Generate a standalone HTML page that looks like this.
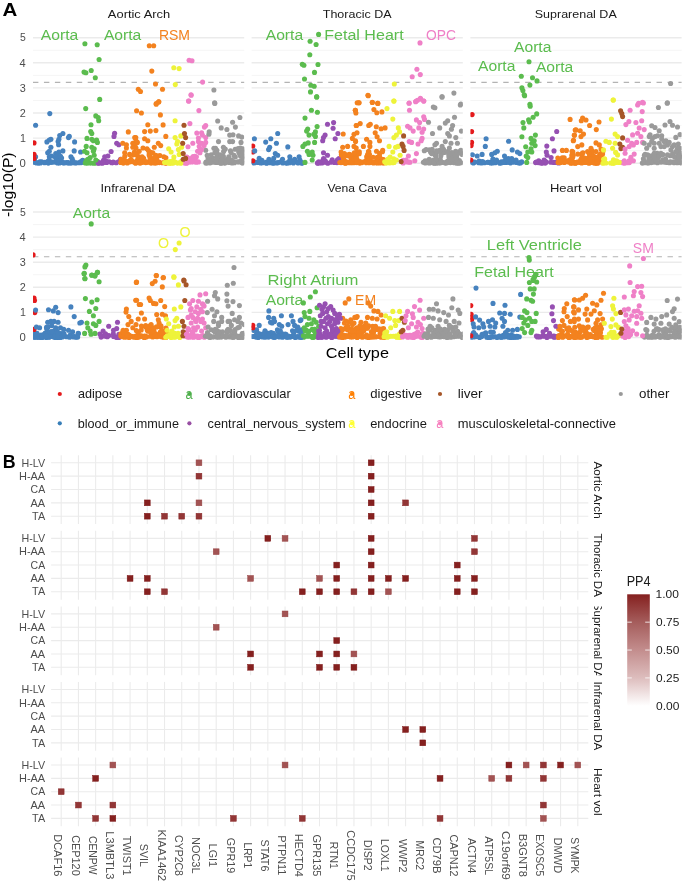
<!DOCTYPE html>
<html><head><meta charset="utf-8"><style>
html,body{margin:0;padding:0;background:#fff;}
svg{display:block;font-family:"Liberation Sans", sans-serif;will-change:transform;}
</style></head><body>
<svg width="685" height="883" viewBox="0 0 685 883">
<rect width="685" height="883" fill="#fff"/>
<line x1="33.00" y1="150.65" x2="244.20" y2="150.65" stroke="#f3f3f3" stroke-width="0.8"/>
<line x1="33.00" y1="125.55" x2="244.20" y2="125.55" stroke="#f3f3f3" stroke-width="0.8"/>
<line x1="33.00" y1="100.45" x2="244.20" y2="100.45" stroke="#f3f3f3" stroke-width="0.8"/>
<line x1="33.00" y1="75.35" x2="244.20" y2="75.35" stroke="#f3f3f3" stroke-width="0.8"/>
<line x1="33.00" y1="50.25" x2="244.20" y2="50.25" stroke="#f3f3f3" stroke-width="0.8"/>
<line x1="33.00" y1="163.20" x2="244.20" y2="163.20" stroke="#ebebeb" stroke-width="1.4"/>
<line x1="33.00" y1="138.10" x2="244.20" y2="138.10" stroke="#ebebeb" stroke-width="1.4"/>
<line x1="33.00" y1="113.00" x2="244.20" y2="113.00" stroke="#ebebeb" stroke-width="1.4"/>
<line x1="33.00" y1="87.90" x2="244.20" y2="87.90" stroke="#ebebeb" stroke-width="1.4"/>
<line x1="33.00" y1="62.80" x2="244.20" y2="62.80" stroke="#ebebeb" stroke-width="1.4"/>
<line x1="33.00" y1="37.70" x2="244.20" y2="37.70" stroke="#ebebeb" stroke-width="1.4"/>
<line x1="33.00" y1="82.38" x2="244.20" y2="82.38" stroke="#b3b3b3" stroke-width="1.07" stroke-dasharray="5.4 5.55"/>
<text x="107.88" y="18.10" font-size="11.50" fill="#1a1a1a" textLength="62.28" lengthAdjust="spacingAndGlyphs">Aortic Arch</text>
<line x1="251.60" y1="150.65" x2="462.80" y2="150.65" stroke="#f3f3f3" stroke-width="0.8"/>
<line x1="251.60" y1="125.55" x2="462.80" y2="125.55" stroke="#f3f3f3" stroke-width="0.8"/>
<line x1="251.60" y1="100.45" x2="462.80" y2="100.45" stroke="#f3f3f3" stroke-width="0.8"/>
<line x1="251.60" y1="75.35" x2="462.80" y2="75.35" stroke="#f3f3f3" stroke-width="0.8"/>
<line x1="251.60" y1="50.25" x2="462.80" y2="50.25" stroke="#f3f3f3" stroke-width="0.8"/>
<line x1="251.60" y1="163.20" x2="462.80" y2="163.20" stroke="#ebebeb" stroke-width="1.4"/>
<line x1="251.60" y1="138.10" x2="462.80" y2="138.10" stroke="#ebebeb" stroke-width="1.4"/>
<line x1="251.60" y1="113.00" x2="462.80" y2="113.00" stroke="#ebebeb" stroke-width="1.4"/>
<line x1="251.60" y1="87.90" x2="462.80" y2="87.90" stroke="#ebebeb" stroke-width="1.4"/>
<line x1="251.60" y1="62.80" x2="462.80" y2="62.80" stroke="#ebebeb" stroke-width="1.4"/>
<line x1="251.60" y1="37.70" x2="462.80" y2="37.70" stroke="#ebebeb" stroke-width="1.4"/>
<line x1="251.60" y1="82.38" x2="462.80" y2="82.38" stroke="#b3b3b3" stroke-width="1.07" stroke-dasharray="5.4 5.55"/>
<text x="322.75" y="18.10" font-size="11.50" fill="#1a1a1a" textLength="68.79" lengthAdjust="spacingAndGlyphs">Thoracic DA</text>
<line x1="470.40" y1="150.65" x2="681.60" y2="150.65" stroke="#f3f3f3" stroke-width="0.8"/>
<line x1="470.40" y1="125.55" x2="681.60" y2="125.55" stroke="#f3f3f3" stroke-width="0.8"/>
<line x1="470.40" y1="100.45" x2="681.60" y2="100.45" stroke="#f3f3f3" stroke-width="0.8"/>
<line x1="470.40" y1="75.35" x2="681.60" y2="75.35" stroke="#f3f3f3" stroke-width="0.8"/>
<line x1="470.40" y1="50.25" x2="681.60" y2="50.25" stroke="#f3f3f3" stroke-width="0.8"/>
<line x1="470.40" y1="163.20" x2="681.60" y2="163.20" stroke="#ebebeb" stroke-width="1.4"/>
<line x1="470.40" y1="138.10" x2="681.60" y2="138.10" stroke="#ebebeb" stroke-width="1.4"/>
<line x1="470.40" y1="113.00" x2="681.60" y2="113.00" stroke="#ebebeb" stroke-width="1.4"/>
<line x1="470.40" y1="87.90" x2="681.60" y2="87.90" stroke="#ebebeb" stroke-width="1.4"/>
<line x1="470.40" y1="62.80" x2="681.60" y2="62.80" stroke="#ebebeb" stroke-width="1.4"/>
<line x1="470.40" y1="37.70" x2="681.60" y2="37.70" stroke="#ebebeb" stroke-width="1.4"/>
<line x1="470.40" y1="82.38" x2="681.60" y2="82.38" stroke="#b3b3b3" stroke-width="1.07" stroke-dasharray="5.4 5.55"/>
<text x="534.73" y="18.10" font-size="11.50" fill="#1a1a1a" textLength="82.02" lengthAdjust="spacingAndGlyphs">Suprarenal DA</text>
<text x="19.52" y="166.90" font-size="11.18" fill="#4d4d4d" textLength="6.29" lengthAdjust="spacingAndGlyphs">0</text>
<text x="19.97" y="141.80" font-size="11.18" fill="#4d4d4d" textLength="5.92" lengthAdjust="spacingAndGlyphs">1</text>
<text x="19.85" y="116.70" font-size="11.18" fill="#4d4d4d" textLength="6.05" lengthAdjust="spacingAndGlyphs">2</text>
<text x="19.85" y="91.60" font-size="11.18" fill="#4d4d4d" textLength="6.05" lengthAdjust="spacingAndGlyphs">3</text>
<text x="19.53" y="66.50" font-size="11.18" fill="#4d4d4d" textLength="6.15" lengthAdjust="spacingAndGlyphs">4</text>
<text x="19.98" y="41.40" font-size="11.18" fill="#4d4d4d" textLength="5.80" lengthAdjust="spacingAndGlyphs">5</text>
<line x1="33.00" y1="324.95" x2="244.20" y2="324.95" stroke="#f3f3f3" stroke-width="0.8"/>
<line x1="33.00" y1="299.85" x2="244.20" y2="299.85" stroke="#f3f3f3" stroke-width="0.8"/>
<line x1="33.00" y1="274.75" x2="244.20" y2="274.75" stroke="#f3f3f3" stroke-width="0.8"/>
<line x1="33.00" y1="249.65" x2="244.20" y2="249.65" stroke="#f3f3f3" stroke-width="0.8"/>
<line x1="33.00" y1="224.55" x2="244.20" y2="224.55" stroke="#f3f3f3" stroke-width="0.8"/>
<line x1="33.00" y1="337.50" x2="244.20" y2="337.50" stroke="#ebebeb" stroke-width="1.4"/>
<line x1="33.00" y1="312.40" x2="244.20" y2="312.40" stroke="#ebebeb" stroke-width="1.4"/>
<line x1="33.00" y1="287.30" x2="244.20" y2="287.30" stroke="#ebebeb" stroke-width="1.4"/>
<line x1="33.00" y1="262.20" x2="244.20" y2="262.20" stroke="#ebebeb" stroke-width="1.4"/>
<line x1="33.00" y1="237.10" x2="244.20" y2="237.10" stroke="#ebebeb" stroke-width="1.4"/>
<line x1="33.00" y1="212.00" x2="244.20" y2="212.00" stroke="#ebebeb" stroke-width="1.4"/>
<line x1="33.00" y1="256.68" x2="244.20" y2="256.68" stroke="#b3b3b3" stroke-width="1.07" stroke-dasharray="5.4 5.55"/>
<text x="100.57" y="192.40" font-size="11.50" fill="#1a1a1a" textLength="75.05" lengthAdjust="spacingAndGlyphs">Infrarenal DA</text>
<line x1="251.60" y1="324.95" x2="462.80" y2="324.95" stroke="#f3f3f3" stroke-width="0.8"/>
<line x1="251.60" y1="299.85" x2="462.80" y2="299.85" stroke="#f3f3f3" stroke-width="0.8"/>
<line x1="251.60" y1="274.75" x2="462.80" y2="274.75" stroke="#f3f3f3" stroke-width="0.8"/>
<line x1="251.60" y1="249.65" x2="462.80" y2="249.65" stroke="#f3f3f3" stroke-width="0.8"/>
<line x1="251.60" y1="224.55" x2="462.80" y2="224.55" stroke="#f3f3f3" stroke-width="0.8"/>
<line x1="251.60" y1="337.50" x2="462.80" y2="337.50" stroke="#ebebeb" stroke-width="1.4"/>
<line x1="251.60" y1="312.40" x2="462.80" y2="312.40" stroke="#ebebeb" stroke-width="1.4"/>
<line x1="251.60" y1="287.30" x2="462.80" y2="287.30" stroke="#ebebeb" stroke-width="1.4"/>
<line x1="251.60" y1="262.20" x2="462.80" y2="262.20" stroke="#ebebeb" stroke-width="1.4"/>
<line x1="251.60" y1="237.10" x2="462.80" y2="237.10" stroke="#ebebeb" stroke-width="1.4"/>
<line x1="251.60" y1="212.00" x2="462.80" y2="212.00" stroke="#ebebeb" stroke-width="1.4"/>
<line x1="251.60" y1="256.68" x2="462.80" y2="256.68" stroke="#b3b3b3" stroke-width="1.07" stroke-dasharray="5.4 5.55"/>
<text x="327.44" y="192.40" font-size="11.50" fill="#1a1a1a" textLength="59.31" lengthAdjust="spacingAndGlyphs">Vena Cava</text>
<line x1="470.40" y1="324.95" x2="681.60" y2="324.95" stroke="#f3f3f3" stroke-width="0.8"/>
<line x1="470.40" y1="299.85" x2="681.60" y2="299.85" stroke="#f3f3f3" stroke-width="0.8"/>
<line x1="470.40" y1="274.75" x2="681.60" y2="274.75" stroke="#f3f3f3" stroke-width="0.8"/>
<line x1="470.40" y1="249.65" x2="681.60" y2="249.65" stroke="#f3f3f3" stroke-width="0.8"/>
<line x1="470.40" y1="224.55" x2="681.60" y2="224.55" stroke="#f3f3f3" stroke-width="0.8"/>
<line x1="470.40" y1="337.50" x2="681.60" y2="337.50" stroke="#ebebeb" stroke-width="1.4"/>
<line x1="470.40" y1="312.40" x2="681.60" y2="312.40" stroke="#ebebeb" stroke-width="1.4"/>
<line x1="470.40" y1="287.30" x2="681.60" y2="287.30" stroke="#ebebeb" stroke-width="1.4"/>
<line x1="470.40" y1="262.20" x2="681.60" y2="262.20" stroke="#ebebeb" stroke-width="1.4"/>
<line x1="470.40" y1="237.10" x2="681.60" y2="237.10" stroke="#ebebeb" stroke-width="1.4"/>
<line x1="470.40" y1="212.00" x2="681.60" y2="212.00" stroke="#ebebeb" stroke-width="1.4"/>
<line x1="470.40" y1="256.68" x2="681.60" y2="256.68" stroke="#b3b3b3" stroke-width="1.07" stroke-dasharray="5.4 5.55"/>
<text x="549.94" y="192.40" font-size="11.50" fill="#1a1a1a" textLength="51.88" lengthAdjust="spacingAndGlyphs">Heart vol</text>
<text x="19.52" y="341.20" font-size="11.18" fill="#4d4d4d" textLength="6.29" lengthAdjust="spacingAndGlyphs">0</text>
<text x="19.97" y="316.10" font-size="11.18" fill="#4d4d4d" textLength="5.92" lengthAdjust="spacingAndGlyphs">1</text>
<text x="19.85" y="291.00" font-size="11.18" fill="#4d4d4d" textLength="6.05" lengthAdjust="spacingAndGlyphs">2</text>
<text x="19.85" y="265.90" font-size="11.18" fill="#4d4d4d" textLength="6.05" lengthAdjust="spacingAndGlyphs">3</text>
<text x="19.53" y="240.80" font-size="11.18" fill="#4d4d4d" textLength="6.15" lengthAdjust="spacingAndGlyphs">4</text>
<text x="19.98" y="215.70" font-size="11.18" fill="#4d4d4d" textLength="5.80" lengthAdjust="spacingAndGlyphs">5</text>
<g transform="translate(13.30 184.90) rotate(-90)"><text x="-32.16" y="0" font-size="15.02" fill="#000" textLength="64.67" lengthAdjust="spacingAndGlyphs">-log10(P)</text></g>
<text x="325.67" y="358.10" font-size="15.02" fill="#000" textLength="63.27" lengthAdjust="spacingAndGlyphs">Cell type</text>
<text x="2.58" y="15.50" font-size="19.01" fill="#000" textLength="14.83" lengthAdjust="spacingAndGlyphs" font-weight="bold">A</text>
<text x="2.65" y="468.20" font-size="19.01" fill="#000" textLength="12.86" lengthAdjust="spacingAndGlyphs" font-weight="bold">B</text>
<clipPath id="fa0"><rect x="33.0" y="0" width="211.20" height="883"/></clipPath>
<clipPath id="fa1"><rect x="251.6" y="0" width="211.20" height="883"/></clipPath>
<clipPath id="fa2"><rect x="470.4" y="0" width="211.20" height="883"/></clipPath>
<g clip-path="url(#fa0)">
<circle cx="84.9" cy="43.8" r="2.55" fill="#5BBC4E"/>
<circle cx="97.2" cy="44.8" r="2.55" fill="#5BBC4E"/>
<circle cx="99.1" cy="59.5" r="2.55" fill="#5BBC4E"/>
<circle cx="84.0" cy="72.1" r="2.55" fill="#5BBC4E"/>
<circle cx="85.9" cy="72.7" r="2.55" fill="#5BBC4E"/>
<circle cx="91.2" cy="70.5" r="2.55" fill="#5BBC4E"/>
<circle cx="95.3" cy="77.7" r="2.55" fill="#5BBC4E"/>
<circle cx="99.7" cy="99.4" r="2.55" fill="#5BBC4E"/>
<circle cx="149.3" cy="45.7" r="2.55" fill="#F3821F"/>
<circle cx="153.7" cy="45.7" r="2.55" fill="#F3821F"/>
<circle cx="151.8" cy="71.1" r="2.55" fill="#F3821F"/>
<circle cx="155.5" cy="84.0" r="2.55" fill="#F3821F"/>
<circle cx="138.3" cy="89.3" r="2.55" fill="#F3821F"/>
<circle cx="140.5" cy="91.5" r="2.55" fill="#F3821F"/>
<circle cx="162.5" cy="89.3" r="2.55" fill="#F3821F"/>
<circle cx="158.7" cy="101.9" r="2.55" fill="#F3821F"/>
<circle cx="156.2" cy="103.5" r="2.55" fill="#F3821F"/>
<circle cx="173.8" cy="67.7" r="2.55" fill="#EEF33A"/>
<circle cx="179.1" cy="68.6" r="2.55" fill="#EEF33A"/>
<circle cx="175.3" cy="84.6" r="2.55" fill="#EEF33A"/>
<circle cx="189.1" cy="60.2" r="2.55" fill="#EF80C7"/>
<circle cx="192.0" cy="60.8" r="2.55" fill="#EF80C7"/>
<circle cx="202.6" cy="82.1" r="2.55" fill="#EF80C7"/>
<circle cx="191.0" cy="94.7" r="2.55" fill="#EF80C7"/>
<circle cx="188.5" cy="101.0" r="2.55" fill="#EF80C7"/>
<circle cx="213.9" cy="90.0" r="2.55" fill="#9A9A9A"/>
<circle cx="214.6" cy="102.8" r="2.55" fill="#9A9A9A"/>
<circle cx="33.6" cy="162.2" r="2.55" fill="#4682BE"/>
<circle cx="36.3" cy="162.7" r="2.55" fill="#4682BE"/>
<circle cx="38.4" cy="163.1" r="2.55" fill="#4682BE"/>
<circle cx="34.4" cy="160.9" r="2.55" fill="#4682BE"/>
<circle cx="36.4" cy="162.8" r="2.55" fill="#4682BE"/>
<circle cx="34.7" cy="158.1" r="2.55" fill="#4682BE"/>
<circle cx="39.8" cy="161.8" r="2.55" fill="#4682BE"/>
<circle cx="41.7" cy="161.7" r="2.55" fill="#4682BE"/>
<circle cx="44.5" cy="162.8" r="2.55" fill="#4682BE"/>
<circle cx="40.4" cy="162.9" r="2.55" fill="#4682BE"/>
<circle cx="44.9" cy="162.4" r="2.55" fill="#4682BE"/>
<circle cx="46.2" cy="162.2" r="2.55" fill="#4682BE"/>
<circle cx="48.3" cy="163.1" r="2.55" fill="#4682BE"/>
<circle cx="50.1" cy="162.2" r="2.55" fill="#4682BE"/>
<circle cx="48.1" cy="161.2" r="2.55" fill="#4682BE"/>
<circle cx="49.0" cy="160.3" r="2.55" fill="#4682BE"/>
<circle cx="51.2" cy="161.9" r="2.55" fill="#4682BE"/>
<circle cx="52.2" cy="162.3" r="2.55" fill="#4682BE"/>
<circle cx="55.1" cy="162.1" r="2.55" fill="#4682BE"/>
<circle cx="57.5" cy="163.0" r="2.55" fill="#4682BE"/>
<circle cx="59.4" cy="163.0" r="2.55" fill="#4682BE"/>
<circle cx="60.7" cy="162.2" r="2.55" fill="#4682BE"/>
<circle cx="58.0" cy="158.6" r="2.55" fill="#4682BE"/>
<circle cx="55.5" cy="157.8" r="2.55" fill="#4682BE"/>
<circle cx="58.2" cy="159.1" r="2.55" fill="#4682BE"/>
<circle cx="56.9" cy="159.9" r="2.55" fill="#4682BE"/>
<circle cx="61.6" cy="158.0" r="2.55" fill="#4682BE"/>
<circle cx="58.9" cy="160.6" r="2.55" fill="#4682BE"/>
<circle cx="62.4" cy="162.2" r="2.55" fill="#4682BE"/>
<circle cx="66.3" cy="162.6" r="2.55" fill="#4682BE"/>
<circle cx="68.1" cy="162.5" r="2.55" fill="#4682BE"/>
<circle cx="63.1" cy="162.7" r="2.55" fill="#4682BE"/>
<circle cx="68.3" cy="163.1" r="2.55" fill="#4682BE"/>
<circle cx="64.1" cy="162.9" r="2.55" fill="#4682BE"/>
<circle cx="70.6" cy="163.1" r="2.55" fill="#4682BE"/>
<circle cx="72.4" cy="161.9" r="2.55" fill="#4682BE"/>
<circle cx="72.2" cy="158.8" r="2.55" fill="#4682BE"/>
<circle cx="72.5" cy="162.7" r="2.55" fill="#4682BE"/>
<circle cx="75.3" cy="163.0" r="2.55" fill="#4682BE"/>
<circle cx="76.6" cy="162.8" r="2.55" fill="#4682BE"/>
<circle cx="79.3" cy="162.8" r="2.55" fill="#4682BE"/>
<circle cx="81.3" cy="162.6" r="2.55" fill="#4682BE"/>
<circle cx="84.1" cy="162.2" r="2.55" fill="#4682BE"/>
<circle cx="80.5" cy="161.8" r="2.55" fill="#4682BE"/>
<circle cx="73.2" cy="161.2" r="2.55" fill="#4682BE"/>
<circle cx="82.6" cy="160.4" r="2.55" fill="#4682BE"/>
<circle cx="82.8" cy="160.5" r="2.55" fill="#4682BE"/>
<circle cx="85.3" cy="163.0" r="2.55" fill="#5BBC4E"/>
<circle cx="87.1" cy="163.1" r="2.55" fill="#5BBC4E"/>
<circle cx="89.4" cy="162.7" r="2.55" fill="#5BBC4E"/>
<circle cx="91.4" cy="163.0" r="2.55" fill="#5BBC4E"/>
<circle cx="94.0" cy="163.2" r="2.55" fill="#5BBC4E"/>
<circle cx="96.5" cy="163.0" r="2.55" fill="#5BBC4E"/>
<circle cx="89.6" cy="162.7" r="2.55" fill="#5BBC4E"/>
<circle cx="86.9" cy="162.5" r="2.55" fill="#5BBC4E"/>
<circle cx="97.4" cy="161.3" r="2.55" fill="#5BBC4E"/>
<circle cx="98.2" cy="163.1" r="2.55" fill="#9650B2"/>
<circle cx="100.3" cy="162.8" r="2.55" fill="#9650B2"/>
<circle cx="102.2" cy="163.2" r="2.55" fill="#9650B2"/>
<circle cx="106.6" cy="162.4" r="2.55" fill="#9650B2"/>
<circle cx="109.3" cy="161.7" r="2.55" fill="#9650B2"/>
<circle cx="111.7" cy="162.8" r="2.55" fill="#9650B2"/>
<circle cx="113.2" cy="162.0" r="2.55" fill="#9650B2"/>
<circle cx="116.2" cy="162.7" r="2.55" fill="#9650B2"/>
<circle cx="118.4" cy="161.7" r="2.55" fill="#9650B2"/>
<circle cx="120.6" cy="162.0" r="2.55" fill="#9650B2"/>
<circle cx="103.5" cy="160.4" r="2.55" fill="#9650B2"/>
<circle cx="106.5" cy="161.4" r="2.55" fill="#9650B2"/>
<circle cx="98.9" cy="163.1" r="2.55" fill="#9650B2"/>
<circle cx="104.3" cy="162.3" r="2.55" fill="#9650B2"/>
<circle cx="120.5" cy="160.6" r="2.55" fill="#9650B2"/>
<circle cx="120.1" cy="161.7" r="2.55" fill="#9650B2"/>
<circle cx="120.5" cy="159.3" r="2.55" fill="#9650B2"/>
<circle cx="103.4" cy="162.0" r="2.55" fill="#9650B2"/>
<circle cx="102.8" cy="162.5" r="2.55" fill="#9650B2"/>
<circle cx="112.8" cy="162.6" r="2.55" fill="#9650B2"/>
<circle cx="121.1" cy="162.5" r="2.55" fill="#F3821F"/>
<circle cx="123.3" cy="163.1" r="2.55" fill="#F3821F"/>
<circle cx="125.6" cy="162.0" r="2.55" fill="#F3821F"/>
<circle cx="127.3" cy="162.9" r="2.55" fill="#F3821F"/>
<circle cx="129.3" cy="162.0" r="2.55" fill="#F3821F"/>
<circle cx="133.8" cy="161.8" r="2.55" fill="#F3821F"/>
<circle cx="135.7" cy="163.0" r="2.55" fill="#F3821F"/>
<circle cx="138.8" cy="162.0" r="2.55" fill="#F3821F"/>
<circle cx="136.7" cy="162.3" r="2.55" fill="#F3821F"/>
<circle cx="133.4" cy="154.6" r="2.55" fill="#F3821F"/>
<circle cx="131.3" cy="160.7" r="2.55" fill="#F3821F"/>
<circle cx="121.0" cy="162.4" r="2.55" fill="#F3821F"/>
<circle cx="133.2" cy="154.7" r="2.55" fill="#F3821F"/>
<circle cx="138.7" cy="159.1" r="2.55" fill="#F3821F"/>
<circle cx="137.5" cy="160.0" r="2.55" fill="#F3821F"/>
<circle cx="124.8" cy="156.2" r="2.55" fill="#F3821F"/>
<circle cx="126.4" cy="161.5" r="2.55" fill="#F3821F"/>
<circle cx="132.0" cy="161.6" r="2.55" fill="#F3821F"/>
<circle cx="128.8" cy="161.5" r="2.55" fill="#F3821F"/>
<circle cx="138.3" cy="162.4" r="2.55" fill="#F3821F"/>
<circle cx="129.6" cy="160.7" r="2.55" fill="#F3821F"/>
<circle cx="138.2" cy="158.6" r="2.55" fill="#F3821F"/>
<circle cx="138.4" cy="160.1" r="2.55" fill="#F3821F"/>
<circle cx="131.0" cy="159.4" r="2.55" fill="#F3821F"/>
<circle cx="121.1" cy="159.2" r="2.55" fill="#F3821F"/>
<circle cx="124.3" cy="159.9" r="2.55" fill="#F3821F"/>
<circle cx="35.6" cy="125.2" r="2.55" fill="#4682BE"/>
<circle cx="49.8" cy="113.6" r="2.55" fill="#4682BE"/>
<circle cx="62.9" cy="133.5" r="2.55" fill="#4682BE"/>
<circle cx="59.7" cy="135.5" r="2.55" fill="#4682BE"/>
<circle cx="58.9" cy="139.2" r="2.55" fill="#4682BE"/>
<circle cx="58.1" cy="141.6" r="2.55" fill="#4682BE"/>
<circle cx="58.6" cy="144.8" r="2.55" fill="#4682BE"/>
<circle cx="69.3" cy="136.4" r="2.55" fill="#4682BE"/>
<circle cx="68.5" cy="137.6" r="2.55" fill="#4682BE"/>
<circle cx="50.9" cy="139.2" r="2.55" fill="#4682BE"/>
<circle cx="49.3" cy="140.0" r="2.55" fill="#4682BE"/>
<circle cx="46.9" cy="141.9" r="2.55" fill="#4682BE"/>
<circle cx="74.6" cy="141.9" r="2.55" fill="#4682BE"/>
<circle cx="50.9" cy="147.2" r="2.55" fill="#4682BE"/>
<circle cx="49.3" cy="151.2" r="2.55" fill="#4682BE"/>
<circle cx="47.7" cy="152.8" r="2.55" fill="#4682BE"/>
<circle cx="74.2" cy="150.9" r="2.55" fill="#4682BE"/>
<circle cx="62.9" cy="150.9" r="2.55" fill="#4682BE"/>
<circle cx="58.9" cy="152.0" r="2.55" fill="#4682BE"/>
<circle cx="55.7" cy="153.6" r="2.55" fill="#4682BE"/>
<circle cx="80.6" cy="152.0" r="2.55" fill="#4682BE"/>
<circle cx="35.6" cy="156.8" r="2.55" fill="#4682BE"/>
<circle cx="49.3" cy="156.8" r="2.55" fill="#4682BE"/>
<circle cx="51.7" cy="156.0" r="2.55" fill="#4682BE"/>
<circle cx="57.3" cy="155.7" r="2.55" fill="#4682BE"/>
<circle cx="60.5" cy="156.3" r="2.55" fill="#4682BE"/>
<circle cx="70.9" cy="156.8" r="2.55" fill="#4682BE"/>
<circle cx="34.0" cy="142.9" r="2.55" fill="#E41A1C"/>
<circle cx="34.0" cy="154.4" r="2.55" fill="#E41A1C"/>
<circle cx="34.0" cy="158.4" r="2.55" fill="#E41A1C"/>
<circle cx="85.7" cy="108.6" r="2.55" fill="#5BBC4E"/>
<circle cx="95.8" cy="115.9" r="2.55" fill="#5BBC4E"/>
<circle cx="98.2" cy="117.5" r="2.55" fill="#5BBC4E"/>
<circle cx="98.7" cy="120.7" r="2.55" fill="#5BBC4E"/>
<circle cx="91.0" cy="124.7" r="2.55" fill="#5BBC4E"/>
<circle cx="90.7" cy="131.6" r="2.55" fill="#5BBC4E"/>
<circle cx="91.8" cy="133.5" r="2.55" fill="#5BBC4E"/>
<circle cx="87.0" cy="138.4" r="2.55" fill="#5BBC4E"/>
<circle cx="91.8" cy="139.2" r="2.55" fill="#5BBC4E"/>
<circle cx="96.6" cy="140.0" r="2.55" fill="#5BBC4E"/>
<circle cx="97.4" cy="142.4" r="2.55" fill="#5BBC4E"/>
<circle cx="93.4" cy="140.8" r="2.55" fill="#5BBC4E"/>
<circle cx="86.2" cy="146.4" r="2.55" fill="#5BBC4E"/>
<circle cx="91.8" cy="147.2" r="2.55" fill="#5BBC4E"/>
<circle cx="94.2" cy="148.8" r="2.55" fill="#5BBC4E"/>
<circle cx="93.4" cy="151.2" r="2.55" fill="#5BBC4E"/>
<circle cx="84.6" cy="151.2" r="2.55" fill="#5BBC4E"/>
<circle cx="87.0" cy="152.8" r="2.55" fill="#5BBC4E"/>
<circle cx="90.2" cy="157.6" r="2.55" fill="#5BBC4E"/>
<circle cx="94.2" cy="155.2" r="2.55" fill="#5BBC4E"/>
<circle cx="95.8" cy="160.0" r="2.55" fill="#5BBC4E"/>
<circle cx="87.8" cy="159.2" r="2.55" fill="#5BBC4E"/>
<circle cx="86.2" cy="160.8" r="2.55" fill="#5BBC4E"/>
<circle cx="114.6" cy="133.2" r="2.55" fill="#9650B2"/>
<circle cx="114.0" cy="136.4" r="2.55" fill="#9650B2"/>
<circle cx="116.7" cy="143.2" r="2.55" fill="#9650B2"/>
<circle cx="118.8" cy="144.8" r="2.55" fill="#9650B2"/>
<circle cx="111.1" cy="151.5" r="2.55" fill="#9650B2"/>
<circle cx="104.7" cy="156.8" r="2.55" fill="#9650B2"/>
<circle cx="107.9" cy="156.0" r="2.55" fill="#9650B2"/>
<circle cx="128.3" cy="131.9" r="2.55" fill="#F3821F"/>
<circle cx="134.7" cy="137.6" r="2.55" fill="#F3821F"/>
<circle cx="136.0" cy="140.8" r="2.55" fill="#F3821F"/>
<circle cx="132.8" cy="143.2" r="2.55" fill="#F3821F"/>
<circle cx="135.2" cy="144.8" r="2.55" fill="#F3821F"/>
<circle cx="122.8" cy="143.2" r="2.55" fill="#F3821F"/>
<circle cx="126.4" cy="144.8" r="2.55" fill="#F3821F"/>
<circle cx="132.8" cy="147.2" r="2.55" fill="#F3821F"/>
<circle cx="126.4" cy="148.0" r="2.55" fill="#F3821F"/>
<circle cx="136.0" cy="148.0" r="2.55" fill="#F3821F"/>
<circle cx="124.7" cy="152.8" r="2.55" fill="#F3821F"/>
<circle cx="129.6" cy="154.4" r="2.55" fill="#F3821F"/>
<circle cx="134.4" cy="152.0" r="2.55" fill="#F3821F"/>
<circle cx="135.4" cy="162.9" r="2.55" fill="#F3821F"/>
<circle cx="137.5" cy="162.4" r="2.55" fill="#F3821F"/>
<circle cx="139.4" cy="162.4" r="2.55" fill="#F3821F"/>
<circle cx="141.1" cy="162.4" r="2.55" fill="#F3821F"/>
<circle cx="143.5" cy="162.0" r="2.55" fill="#F3821F"/>
<circle cx="146.1" cy="162.1" r="2.55" fill="#F3821F"/>
<circle cx="148.1" cy="162.3" r="2.55" fill="#F3821F"/>
<circle cx="150.4" cy="162.2" r="2.55" fill="#F3821F"/>
<circle cx="143.6" cy="158.3" r="2.55" fill="#F3821F"/>
<circle cx="150.1" cy="157.9" r="2.55" fill="#F3821F"/>
<circle cx="149.1" cy="154.9" r="2.55" fill="#F3821F"/>
<circle cx="139.2" cy="151.3" r="2.55" fill="#F3821F"/>
<circle cx="150.1" cy="156.8" r="2.55" fill="#F3821F"/>
<circle cx="137.2" cy="152.8" r="2.55" fill="#F3821F"/>
<circle cx="142.1" cy="162.2" r="2.55" fill="#F3821F"/>
<circle cx="138.9" cy="162.7" r="2.55" fill="#F3821F"/>
<circle cx="145.8" cy="162.6" r="2.55" fill="#F3821F"/>
<circle cx="149.4" cy="153.6" r="2.55" fill="#F3821F"/>
<circle cx="146.5" cy="161.8" r="2.55" fill="#F3821F"/>
<circle cx="137.3" cy="155.4" r="2.55" fill="#F3821F"/>
<circle cx="150.5" cy="152.2" r="2.55" fill="#F3821F"/>
<circle cx="150.3" cy="161.1" r="2.55" fill="#F3821F"/>
<circle cx="142.8" cy="159.0" r="2.55" fill="#F3821F"/>
<circle cx="148.4" cy="150.6" r="2.55" fill="#F3821F"/>
<circle cx="141.9" cy="161.8" r="2.55" fill="#F3821F"/>
<circle cx="140.4" cy="157.4" r="2.55" fill="#F3821F"/>
<circle cx="140.1" cy="161.4" r="2.55" fill="#F3821F"/>
<circle cx="135.3" cy="154.5" r="2.55" fill="#F3821F"/>
<circle cx="142.1" cy="156.9" r="2.55" fill="#F3821F"/>
<circle cx="140.3" cy="163.1" r="2.55" fill="#F3821F"/>
<circle cx="151.1" cy="163.1" r="2.55" fill="#F3821F"/>
<circle cx="156.0" cy="163.0" r="2.55" fill="#F3821F"/>
<circle cx="157.1" cy="162.0" r="2.55" fill="#F3821F"/>
<circle cx="159.4" cy="162.6" r="2.55" fill="#F3821F"/>
<circle cx="162.4" cy="162.8" r="2.55" fill="#F3821F"/>
<circle cx="164.8" cy="162.3" r="2.55" fill="#F3821F"/>
<circle cx="166.0" cy="163.1" r="2.55" fill="#F3821F"/>
<circle cx="157.9" cy="156.1" r="2.55" fill="#F3821F"/>
<circle cx="166.1" cy="162.7" r="2.55" fill="#F3821F"/>
<circle cx="163.9" cy="156.7" r="2.55" fill="#F3821F"/>
<circle cx="164.8" cy="162.6" r="2.55" fill="#F3821F"/>
<circle cx="164.9" cy="162.8" r="2.55" fill="#F3821F"/>
<circle cx="156.5" cy="158.9" r="2.55" fill="#F3821F"/>
<circle cx="165.9" cy="157.7" r="2.55" fill="#F3821F"/>
<circle cx="153.1" cy="160.9" r="2.55" fill="#F3821F"/>
<circle cx="154.9" cy="158.0" r="2.55" fill="#F3821F"/>
<circle cx="153.7" cy="162.4" r="2.55" fill="#F3821F"/>
<circle cx="154.3" cy="162.9" r="2.55" fill="#F3821F"/>
<circle cx="156.0" cy="160.4" r="2.55" fill="#F3821F"/>
<circle cx="155.7" cy="155.2" r="2.55" fill="#F3821F"/>
<circle cx="153.9" cy="158.3" r="2.55" fill="#F3821F"/>
<circle cx="151.4" cy="160.1" r="2.55" fill="#F3821F"/>
<circle cx="151.3" cy="161.1" r="2.55" fill="#F3821F"/>
<circle cx="159.9" cy="155.5" r="2.55" fill="#F3821F"/>
<circle cx="158.7" cy="161.7" r="2.55" fill="#F3821F"/>
<circle cx="152.8" cy="152.9" r="2.55" fill="#F3821F"/>
<circle cx="164.6" cy="162.5" r="2.55" fill="#EEF33A"/>
<circle cx="166.8" cy="162.4" r="2.55" fill="#EEF33A"/>
<circle cx="169.7" cy="162.7" r="2.55" fill="#EEF33A"/>
<circle cx="171.6" cy="162.2" r="2.55" fill="#EEF33A"/>
<circle cx="173.3" cy="163.1" r="2.55" fill="#EEF33A"/>
<circle cx="175.2" cy="162.1" r="2.55" fill="#EEF33A"/>
<circle cx="177.5" cy="163.1" r="2.55" fill="#EEF33A"/>
<circle cx="180.6" cy="162.2" r="2.55" fill="#EEF33A"/>
<circle cx="168.8" cy="161.8" r="2.55" fill="#EEF33A"/>
<circle cx="172.5" cy="161.7" r="2.55" fill="#EEF33A"/>
<circle cx="172.2" cy="162.5" r="2.55" fill="#EEF33A"/>
<circle cx="180.9" cy="161.9" r="2.55" fill="#EEF33A"/>
<circle cx="173.9" cy="157.0" r="2.55" fill="#EEF33A"/>
<circle cx="181.0" cy="162.0" r="2.55" fill="#EEF33A"/>
<circle cx="170.7" cy="161.6" r="2.55" fill="#EEF33A"/>
<circle cx="171.1" cy="163.2" r="2.55" fill="#EEF33A"/>
<circle cx="173.2" cy="160.6" r="2.55" fill="#EEF33A"/>
<circle cx="173.2" cy="162.3" r="2.55" fill="#EEF33A"/>
<circle cx="169.2" cy="163.2" r="2.55" fill="#EEF33A"/>
<circle cx="184.7" cy="163.1" r="2.55" fill="#EF80C7"/>
<circle cx="186.7" cy="162.9" r="2.55" fill="#EF80C7"/>
<circle cx="189.2" cy="162.1" r="2.55" fill="#EF80C7"/>
<circle cx="191.6" cy="161.9" r="2.55" fill="#EF80C7"/>
<circle cx="193.4" cy="161.7" r="2.55" fill="#EF80C7"/>
<circle cx="196.1" cy="162.2" r="2.55" fill="#EF80C7"/>
<circle cx="198.4" cy="161.9" r="2.55" fill="#EF80C7"/>
<circle cx="195.4" cy="158.6" r="2.55" fill="#EF80C7"/>
<circle cx="186.8" cy="157.0" r="2.55" fill="#EF80C7"/>
<circle cx="192.1" cy="159.5" r="2.55" fill="#EF80C7"/>
<circle cx="196.4" cy="156.8" r="2.55" fill="#EF80C7"/>
<circle cx="193.2" cy="156.9" r="2.55" fill="#EF80C7"/>
<circle cx="194.7" cy="156.2" r="2.55" fill="#EF80C7"/>
<circle cx="188.1" cy="158.1" r="2.55" fill="#EF80C7"/>
<circle cx="186.7" cy="163.1" r="2.55" fill="#EF80C7"/>
<circle cx="186.3" cy="160.9" r="2.55" fill="#EF80C7"/>
<circle cx="192.9" cy="156.8" r="2.55" fill="#EF80C7"/>
<circle cx="193.8" cy="158.6" r="2.55" fill="#EF80C7"/>
<circle cx="191.9" cy="158.2" r="2.55" fill="#EF80C7"/>
<circle cx="206.0" cy="162.1" r="2.55" fill="#9A9A9A"/>
<circle cx="207.9" cy="162.2" r="2.55" fill="#9A9A9A"/>
<circle cx="210.3" cy="162.8" r="2.55" fill="#9A9A9A"/>
<circle cx="212.0" cy="162.1" r="2.55" fill="#9A9A9A"/>
<circle cx="214.7" cy="161.7" r="2.55" fill="#9A9A9A"/>
<circle cx="216.5" cy="162.5" r="2.55" fill="#9A9A9A"/>
<circle cx="219.2" cy="162.3" r="2.55" fill="#9A9A9A"/>
<circle cx="220.5" cy="163.0" r="2.55" fill="#9A9A9A"/>
<circle cx="223.5" cy="162.7" r="2.55" fill="#9A9A9A"/>
<circle cx="224.9" cy="163.1" r="2.55" fill="#9A9A9A"/>
<circle cx="227.9" cy="162.2" r="2.55" fill="#9A9A9A"/>
<circle cx="229.6" cy="162.4" r="2.55" fill="#9A9A9A"/>
<circle cx="232.0" cy="163.0" r="2.55" fill="#9A9A9A"/>
<circle cx="233.9" cy="161.7" r="2.55" fill="#9A9A9A"/>
<circle cx="238.6" cy="162.0" r="2.55" fill="#9A9A9A"/>
<circle cx="242.8" cy="162.9" r="2.55" fill="#9A9A9A"/>
<circle cx="213.9" cy="148.2" r="2.55" fill="#9A9A9A"/>
<circle cx="211.2" cy="154.8" r="2.55" fill="#9A9A9A"/>
<circle cx="243.1" cy="155.8" r="2.55" fill="#9A9A9A"/>
<circle cx="237.9" cy="161.8" r="2.55" fill="#9A9A9A"/>
<circle cx="240.5" cy="156.1" r="2.55" fill="#9A9A9A"/>
<circle cx="214.8" cy="152.7" r="2.55" fill="#9A9A9A"/>
<circle cx="224.8" cy="149.1" r="2.55" fill="#9A9A9A"/>
<circle cx="205.8" cy="163.0" r="2.55" fill="#9A9A9A"/>
<circle cx="223.4" cy="156.4" r="2.55" fill="#9A9A9A"/>
<circle cx="211.2" cy="159.4" r="2.55" fill="#9A9A9A"/>
<circle cx="218.1" cy="158.8" r="2.55" fill="#9A9A9A"/>
<circle cx="205.7" cy="150.2" r="2.55" fill="#9A9A9A"/>
<circle cx="238.7" cy="151.9" r="2.55" fill="#9A9A9A"/>
<circle cx="242.1" cy="161.9" r="2.55" fill="#9A9A9A"/>
<circle cx="241.1" cy="152.5" r="2.55" fill="#9A9A9A"/>
<circle cx="220.3" cy="159.6" r="2.55" fill="#9A9A9A"/>
<circle cx="245.0" cy="158.0" r="2.55" fill="#9A9A9A"/>
<circle cx="219.8" cy="154.7" r="2.55" fill="#9A9A9A"/>
<circle cx="216.5" cy="157.4" r="2.55" fill="#9A9A9A"/>
<circle cx="209.7" cy="162.8" r="2.55" fill="#9A9A9A"/>
<circle cx="216.9" cy="150.3" r="2.55" fill="#9A9A9A"/>
<circle cx="215.5" cy="148.4" r="2.55" fill="#9A9A9A"/>
<circle cx="225.8" cy="159.9" r="2.55" fill="#9A9A9A"/>
<circle cx="220.3" cy="161.0" r="2.55" fill="#9A9A9A"/>
<circle cx="240.4" cy="148.0" r="2.55" fill="#9A9A9A"/>
<circle cx="230.5" cy="150.7" r="2.55" fill="#9A9A9A"/>
<circle cx="242.7" cy="148.8" r="2.55" fill="#9A9A9A"/>
<circle cx="234.0" cy="155.4" r="2.55" fill="#9A9A9A"/>
<circle cx="234.5" cy="162.8" r="2.55" fill="#9A9A9A"/>
<circle cx="235.3" cy="157.0" r="2.55" fill="#9A9A9A"/>
<circle cx="216.9" cy="153.7" r="2.55" fill="#9A9A9A"/>
<circle cx="242.1" cy="162.8" r="2.55" fill="#9A9A9A"/>
<circle cx="224.2" cy="161.9" r="2.55" fill="#9A9A9A"/>
<circle cx="217.4" cy="158.8" r="2.55" fill="#9A9A9A"/>
<circle cx="244.1" cy="152.1" r="2.55" fill="#9A9A9A"/>
<circle cx="231.5" cy="160.0" r="2.55" fill="#9A9A9A"/>
<circle cx="227.6" cy="159.4" r="2.55" fill="#9A9A9A"/>
<circle cx="212.2" cy="158.0" r="2.55" fill="#9A9A9A"/>
<circle cx="213.8" cy="161.4" r="2.55" fill="#9A9A9A"/>
<circle cx="225.2" cy="149.0" r="2.55" fill="#9A9A9A"/>
<circle cx="241.3" cy="160.6" r="2.55" fill="#9A9A9A"/>
<circle cx="223.4" cy="147.3" r="2.55" fill="#9A9A9A"/>
<circle cx="213.2" cy="161.7" r="2.55" fill="#9A9A9A"/>
<circle cx="219.1" cy="162.3" r="2.55" fill="#9A9A9A"/>
<circle cx="215.1" cy="162.3" r="2.55" fill="#9A9A9A"/>
<circle cx="228.1" cy="160.0" r="2.55" fill="#9A9A9A"/>
<circle cx="235.2" cy="149.3" r="2.55" fill="#9A9A9A"/>
<circle cx="221.9" cy="157.7" r="2.55" fill="#9A9A9A"/>
<circle cx="220.5" cy="155.8" r="2.55" fill="#9A9A9A"/>
<circle cx="208.1" cy="158.8" r="2.55" fill="#9A9A9A"/>
<circle cx="243.7" cy="159.8" r="2.55" fill="#9A9A9A"/>
<circle cx="225.5" cy="161.9" r="2.55" fill="#9A9A9A"/>
<circle cx="239.6" cy="154.0" r="2.55" fill="#9A9A9A"/>
<circle cx="216.3" cy="160.7" r="2.55" fill="#9A9A9A"/>
<circle cx="221.4" cy="160.2" r="2.55" fill="#9A9A9A"/>
<circle cx="243.2" cy="157.1" r="2.55" fill="#9A9A9A"/>
<circle cx="240.0" cy="150.1" r="2.55" fill="#9A9A9A"/>
<circle cx="206.9" cy="163.0" r="2.55" fill="#9A9A9A"/>
<circle cx="240.9" cy="152.6" r="2.55" fill="#9A9A9A"/>
<circle cx="228.8" cy="156.7" r="2.55" fill="#9A9A9A"/>
<circle cx="221.1" cy="163.2" r="2.55" fill="#9A9A9A"/>
<circle cx="238.1" cy="148.6" r="2.55" fill="#9A9A9A"/>
<circle cx="243.9" cy="149.9" r="2.55" fill="#9A9A9A"/>
<circle cx="209.9" cy="160.2" r="2.55" fill="#9A9A9A"/>
<circle cx="226.2" cy="161.5" r="2.55" fill="#9A9A9A"/>
<circle cx="242.7" cy="153.1" r="2.55" fill="#9A9A9A"/>
<circle cx="231.1" cy="152.4" r="2.55" fill="#9A9A9A"/>
<circle cx="223.6" cy="151.6" r="2.55" fill="#9A9A9A"/>
<circle cx="207.2" cy="155.4" r="2.55" fill="#9A9A9A"/>
<circle cx="158.8" cy="101.7" r="2.55" fill="#F3821F"/>
<circle cx="156.2" cy="104.3" r="2.55" fill="#F3821F"/>
<circle cx="136.6" cy="110.7" r="2.55" fill="#F3821F"/>
<circle cx="141.4" cy="113.0" r="2.55" fill="#F3821F"/>
<circle cx="160.4" cy="114.9" r="2.55" fill="#F3821F"/>
<circle cx="147.8" cy="124.7" r="2.55" fill="#F3821F"/>
<circle cx="163.1" cy="124.9" r="2.55" fill="#F3821F"/>
<circle cx="144.6" cy="131.6" r="2.55" fill="#F3821F"/>
<circle cx="150.3" cy="131.1" r="2.55" fill="#F3821F"/>
<circle cx="155.9" cy="130.6" r="2.55" fill="#F3821F"/>
<circle cx="165.8" cy="136.4" r="2.55" fill="#F3821F"/>
<circle cx="135.8" cy="137.6" r="2.55" fill="#F3821F"/>
<circle cx="144.6" cy="138.7" r="2.55" fill="#F3821F"/>
<circle cx="147.8" cy="140.8" r="2.55" fill="#F3821F"/>
<circle cx="137.4" cy="142.4" r="2.55" fill="#F3821F"/>
<circle cx="158.3" cy="143.2" r="2.55" fill="#F3821F"/>
<circle cx="160.7" cy="145.6" r="2.55" fill="#F3821F"/>
<circle cx="154.3" cy="147.2" r="2.55" fill="#F3821F"/>
<circle cx="143.0" cy="148.0" r="2.55" fill="#F3821F"/>
<circle cx="147.0" cy="148.8" r="2.55" fill="#F3821F"/>
<circle cx="175.1" cy="120.7" r="2.55" fill="#EEF33A"/>
<circle cx="175.1" cy="137.6" r="2.55" fill="#EEF33A"/>
<circle cx="180.8" cy="135.9" r="2.55" fill="#EEF33A"/>
<circle cx="177.6" cy="141.6" r="2.55" fill="#EEF33A"/>
<circle cx="181.6" cy="147.2" r="2.55" fill="#EEF33A"/>
<circle cx="176.8" cy="144.0" r="2.55" fill="#EEF33A"/>
<circle cx="168.7" cy="148.8" r="2.55" fill="#EEF33A"/>
<circle cx="171.1" cy="152.0" r="2.55" fill="#EEF33A"/>
<circle cx="178.4" cy="149.6" r="2.55" fill="#EEF33A"/>
<circle cx="179.2" cy="154.4" r="2.55" fill="#EEF33A"/>
<circle cx="180.8" cy="163.2" r="2.55" fill="#EEF33A"/>
<circle cx="184.0" cy="125.2" r="2.55" fill="#A65628"/>
<circle cx="184.5" cy="133.5" r="2.55" fill="#A65628"/>
<circle cx="185.6" cy="137.6" r="2.55" fill="#A65628"/>
<circle cx="182.7" cy="143.2" r="2.55" fill="#A65628"/>
<circle cx="183.2" cy="153.6" r="2.55" fill="#A65628"/>
<circle cx="183.2" cy="159.2" r="2.55" fill="#A65628"/>
<circle cx="185.6" cy="158.4" r="2.55" fill="#A65628"/>
<circle cx="191.2" cy="95.3" r="2.55" fill="#EF80C7"/>
<circle cx="188.8" cy="101.1" r="2.55" fill="#EF80C7"/>
<circle cx="198.9" cy="110.6" r="2.55" fill="#EF80C7"/>
<circle cx="189.9" cy="123.6" r="2.55" fill="#EF80C7"/>
<circle cx="205.7" cy="125.5" r="2.55" fill="#EF80C7"/>
<circle cx="204.4" cy="127.1" r="2.55" fill="#EF80C7"/>
<circle cx="196.8" cy="133.1" r="2.55" fill="#EF80C7"/>
<circle cx="201.6" cy="132.7" r="2.55" fill="#EF80C7"/>
<circle cx="202.4" cy="135.1" r="2.55" fill="#EF80C7"/>
<circle cx="198.4" cy="138.0" r="2.55" fill="#EF80C7"/>
<circle cx="205.7" cy="137.6" r="2.55" fill="#EF80C7"/>
<circle cx="192.8" cy="143.2" r="2.55" fill="#EF80C7"/>
<circle cx="198.4" cy="141.6" r="2.55" fill="#EF80C7"/>
<circle cx="201.6" cy="143.2" r="2.55" fill="#EF80C7"/>
<circle cx="205.7" cy="142.4" r="2.55" fill="#EF80C7"/>
<circle cx="188.0" cy="146.7" r="2.55" fill="#EF80C7"/>
<circle cx="199.2" cy="146.4" r="2.55" fill="#EF80C7"/>
<circle cx="201.6" cy="149.6" r="2.55" fill="#EF80C7"/>
<circle cx="204.1" cy="145.6" r="2.55" fill="#EF80C7"/>
<circle cx="197.6" cy="151.2" r="2.55" fill="#EF80C7"/>
<circle cx="200.0" cy="152.8" r="2.55" fill="#EF80C7"/>
<circle cx="214.8" cy="103.4" r="2.55" fill="#9A9A9A"/>
<circle cx="217.7" cy="121.0" r="2.55" fill="#9A9A9A"/>
<circle cx="232.6" cy="122.3" r="2.55" fill="#9A9A9A"/>
<circle cx="239.9" cy="117.5" r="2.55" fill="#9A9A9A"/>
<circle cx="221.2" cy="127.9" r="2.55" fill="#9A9A9A"/>
<circle cx="226.9" cy="129.5" r="2.55" fill="#9A9A9A"/>
<circle cx="235.4" cy="127.1" r="2.55" fill="#9A9A9A"/>
<circle cx="209.2" cy="131.9" r="2.55" fill="#9A9A9A"/>
<circle cx="208.9" cy="134.3" r="2.55" fill="#9A9A9A"/>
<circle cx="229.7" cy="135.1" r="2.55" fill="#9A9A9A"/>
<circle cx="233.0" cy="134.8" r="2.55" fill="#9A9A9A"/>
<circle cx="238.6" cy="135.9" r="2.55" fill="#9A9A9A"/>
<circle cx="241.8" cy="137.1" r="2.55" fill="#9A9A9A"/>
<circle cx="218.5" cy="141.6" r="2.55" fill="#9A9A9A"/>
<circle cx="229.7" cy="141.6" r="2.55" fill="#9A9A9A"/>
<circle cx="232.6" cy="141.6" r="2.55" fill="#9A9A9A"/>
<circle cx="241.0" cy="142.4" r="2.55" fill="#9A9A9A"/>
<circle cx="33.1" cy="254.9" r="2.55" fill="#E41A1C"/>
<circle cx="91.2" cy="223.9" r="2.55" fill="#5BBC4E"/>
<circle cx="85.9" cy="265.0" r="2.55" fill="#5BBC4E"/>
<circle cx="84.9" cy="266.9" r="2.55" fill="#5BBC4E"/>
<circle cx="84.0" cy="273.8" r="2.55" fill="#5BBC4E"/>
<circle cx="91.8" cy="275.3" r="2.55" fill="#5BBC4E"/>
<circle cx="95.0" cy="275.3" r="2.55" fill="#5BBC4E"/>
<circle cx="97.5" cy="272.2" r="2.55" fill="#5BBC4E"/>
<circle cx="84.9" cy="278.5" r="2.55" fill="#5BBC4E"/>
<circle cx="179.1" cy="243.0" r="2.55" fill="#EEF33A"/>
<circle cx="175.3" cy="249.6" r="2.55" fill="#EEF33A"/>
<circle cx="173.8" cy="276.9" r="2.55" fill="#EEF33A"/>
<circle cx="156.2" cy="275.6" r="2.55" fill="#F3821F"/>
<circle cx="163.4" cy="277.5" r="2.55" fill="#F3821F"/>
<circle cx="183.8" cy="280.0" r="2.55" fill="#A65628"/>
<circle cx="234.0" cy="267.5" r="2.55" fill="#9A9A9A"/>
<circle cx="34.3" cy="337.3" r="2.55" fill="#4682BE"/>
<circle cx="35.9" cy="337.3" r="2.55" fill="#4682BE"/>
<circle cx="38.0" cy="337.1" r="2.55" fill="#4682BE"/>
<circle cx="40.8" cy="337.5" r="2.55" fill="#4682BE"/>
<circle cx="42.4" cy="337.4" r="2.55" fill="#4682BE"/>
<circle cx="47.7" cy="336.2" r="2.55" fill="#4682BE"/>
<circle cx="49.0" cy="336.8" r="2.55" fill="#4682BE"/>
<circle cx="52.1" cy="336.2" r="2.55" fill="#4682BE"/>
<circle cx="53.8" cy="337.0" r="2.55" fill="#4682BE"/>
<circle cx="56.0" cy="336.6" r="2.55" fill="#4682BE"/>
<circle cx="57.9" cy="337.4" r="2.55" fill="#4682BE"/>
<circle cx="60.5" cy="337.3" r="2.55" fill="#4682BE"/>
<circle cx="62.3" cy="336.9" r="2.55" fill="#4682BE"/>
<circle cx="64.5" cy="336.2" r="2.55" fill="#4682BE"/>
<circle cx="66.6" cy="336.8" r="2.55" fill="#4682BE"/>
<circle cx="69.7" cy="337.3" r="2.55" fill="#4682BE"/>
<circle cx="74.1" cy="336.5" r="2.55" fill="#4682BE"/>
<circle cx="75.8" cy="337.1" r="2.55" fill="#4682BE"/>
<circle cx="77.7" cy="337.0" r="2.55" fill="#4682BE"/>
<circle cx="48.9" cy="337.2" r="2.55" fill="#4682BE"/>
<circle cx="37.0" cy="333.2" r="2.55" fill="#4682BE"/>
<circle cx="49.1" cy="334.2" r="2.55" fill="#4682BE"/>
<circle cx="34.8" cy="332.8" r="2.55" fill="#4682BE"/>
<circle cx="51.5" cy="333.7" r="2.55" fill="#4682BE"/>
<circle cx="34.1" cy="337.0" r="2.55" fill="#4682BE"/>
<circle cx="61.1" cy="333.6" r="2.55" fill="#4682BE"/>
<circle cx="56.4" cy="336.9" r="2.55" fill="#4682BE"/>
<circle cx="45.2" cy="333.1" r="2.55" fill="#4682BE"/>
<circle cx="41.1" cy="335.0" r="2.55" fill="#4682BE"/>
<circle cx="73.6" cy="336.9" r="2.55" fill="#4682BE"/>
<circle cx="44.1" cy="334.3" r="2.55" fill="#4682BE"/>
<circle cx="38.5" cy="337.3" r="2.55" fill="#4682BE"/>
<circle cx="59.5" cy="334.8" r="2.55" fill="#4682BE"/>
<circle cx="44.6" cy="336.5" r="2.55" fill="#4682BE"/>
<circle cx="70.4" cy="334.8" r="2.55" fill="#4682BE"/>
<circle cx="64.0" cy="333.7" r="2.55" fill="#4682BE"/>
<circle cx="37.4" cy="336.8" r="2.55" fill="#4682BE"/>
<circle cx="55.0" cy="334.1" r="2.55" fill="#4682BE"/>
<circle cx="36.9" cy="334.2" r="2.55" fill="#4682BE"/>
<circle cx="51.2" cy="333.7" r="2.55" fill="#4682BE"/>
<circle cx="78.4" cy="333.5" r="2.55" fill="#4682BE"/>
<circle cx="34.8" cy="335.4" r="2.55" fill="#4682BE"/>
<circle cx="58.5" cy="333.1" r="2.55" fill="#4682BE"/>
<circle cx="47.7" cy="333.4" r="2.55" fill="#4682BE"/>
<circle cx="76.7" cy="336.9" r="2.55" fill="#4682BE"/>
<circle cx="42.4" cy="336.0" r="2.55" fill="#4682BE"/>
<circle cx="46.2" cy="337.5" r="2.55" fill="#4682BE"/>
<circle cx="48.2" cy="336.7" r="2.55" fill="#4682BE"/>
<circle cx="50.7" cy="336.3" r="2.55" fill="#4682BE"/>
<circle cx="52.4" cy="336.4" r="2.55" fill="#4682BE"/>
<circle cx="55.2" cy="337.4" r="2.55" fill="#4682BE"/>
<circle cx="57.6" cy="336.8" r="2.55" fill="#4682BE"/>
<circle cx="59.3" cy="336.7" r="2.55" fill="#4682BE"/>
<circle cx="60.0" cy="337.4" r="2.55" fill="#4682BE"/>
<circle cx="48.7" cy="335.4" r="2.55" fill="#4682BE"/>
<circle cx="49.7" cy="336.7" r="2.55" fill="#4682BE"/>
<circle cx="46.5" cy="327.4" r="2.55" fill="#4682BE"/>
<circle cx="56.2" cy="336.7" r="2.55" fill="#4682BE"/>
<circle cx="46.3" cy="335.7" r="2.55" fill="#4682BE"/>
<circle cx="54.4" cy="330.5" r="2.55" fill="#4682BE"/>
<circle cx="56.2" cy="331.6" r="2.55" fill="#4682BE"/>
<circle cx="58.6" cy="336.7" r="2.55" fill="#4682BE"/>
<circle cx="46.7" cy="328.8" r="2.55" fill="#4682BE"/>
<circle cx="53.2" cy="336.5" r="2.55" fill="#4682BE"/>
<circle cx="50.1" cy="331.9" r="2.55" fill="#4682BE"/>
<circle cx="51.9" cy="336.5" r="2.55" fill="#4682BE"/>
<circle cx="54.6" cy="336.3" r="2.55" fill="#4682BE"/>
<circle cx="48.2" cy="326.7" r="2.55" fill="#4682BE"/>
<circle cx="56.8" cy="330.9" r="2.55" fill="#4682BE"/>
<circle cx="58.0" cy="336.0" r="2.55" fill="#4682BE"/>
<circle cx="51.7" cy="325.6" r="2.55" fill="#4682BE"/>
<circle cx="58.2" cy="332.9" r="2.55" fill="#4682BE"/>
<circle cx="51.8" cy="331.5" r="2.55" fill="#4682BE"/>
<circle cx="101.1" cy="337.1" r="2.55" fill="#9650B2"/>
<circle cx="103.4" cy="336.0" r="2.55" fill="#9650B2"/>
<circle cx="106.1" cy="336.3" r="2.55" fill="#9650B2"/>
<circle cx="107.3" cy="336.7" r="2.55" fill="#9650B2"/>
<circle cx="114.4" cy="336.6" r="2.55" fill="#9650B2"/>
<circle cx="116.7" cy="337.4" r="2.55" fill="#9650B2"/>
<circle cx="118.9" cy="337.5" r="2.55" fill="#9650B2"/>
<circle cx="121.6" cy="336.3" r="2.55" fill="#9650B2"/>
<circle cx="113.3" cy="333.7" r="2.55" fill="#9650B2"/>
<circle cx="118.9" cy="334.3" r="2.55" fill="#9650B2"/>
<circle cx="99.8" cy="334.0" r="2.55" fill="#9650B2"/>
<circle cx="105.0" cy="335.1" r="2.55" fill="#9650B2"/>
<circle cx="105.2" cy="334.9" r="2.55" fill="#9650B2"/>
<circle cx="119.8" cy="335.5" r="2.55" fill="#9650B2"/>
<circle cx="104.7" cy="335.2" r="2.55" fill="#9650B2"/>
<circle cx="108.8" cy="335.6" r="2.55" fill="#9650B2"/>
<circle cx="105.5" cy="333.7" r="2.55" fill="#9650B2"/>
<circle cx="113.6" cy="336.5" r="2.55" fill="#9650B2"/>
<circle cx="120.8" cy="336.1" r="2.55" fill="#F3821F"/>
<circle cx="122.7" cy="336.8" r="2.55" fill="#F3821F"/>
<circle cx="124.7" cy="337.3" r="2.55" fill="#F3821F"/>
<circle cx="127.1" cy="336.9" r="2.55" fill="#F3821F"/>
<circle cx="129.2" cy="337.4" r="2.55" fill="#F3821F"/>
<circle cx="132.1" cy="336.6" r="2.55" fill="#F3821F"/>
<circle cx="134.1" cy="337.2" r="2.55" fill="#F3821F"/>
<circle cx="136.1" cy="336.7" r="2.55" fill="#F3821F"/>
<circle cx="138.3" cy="337.0" r="2.55" fill="#F3821F"/>
<circle cx="125.0" cy="336.2" r="2.55" fill="#F3821F"/>
<circle cx="128.1" cy="334.2" r="2.55" fill="#F3821F"/>
<circle cx="121.0" cy="333.7" r="2.55" fill="#F3821F"/>
<circle cx="137.3" cy="335.4" r="2.55" fill="#F3821F"/>
<circle cx="131.5" cy="336.2" r="2.55" fill="#F3821F"/>
<circle cx="126.2" cy="334.4" r="2.55" fill="#F3821F"/>
<circle cx="126.4" cy="330.3" r="2.55" fill="#F3821F"/>
<circle cx="123.8" cy="332.2" r="2.55" fill="#F3821F"/>
<circle cx="137.5" cy="337.2" r="2.55" fill="#F3821F"/>
<circle cx="121.9" cy="334.8" r="2.55" fill="#F3821F"/>
<circle cx="129.2" cy="335.2" r="2.55" fill="#F3821F"/>
<circle cx="122.8" cy="332.5" r="2.55" fill="#F3821F"/>
<circle cx="139.2" cy="336.3" r="2.55" fill="#F3821F"/>
<circle cx="123.7" cy="332.4" r="2.55" fill="#F3821F"/>
<circle cx="127.5" cy="335.5" r="2.55" fill="#F3821F"/>
<circle cx="34.0" cy="298.1" r="2.55" fill="#E41A1C"/>
<circle cx="34.5" cy="300.5" r="2.55" fill="#E41A1C"/>
<circle cx="34.8" cy="312.6" r="2.55" fill="#E41A1C"/>
<circle cx="34.0" cy="329.4" r="2.55" fill="#E41A1C"/>
<circle cx="35.6" cy="310.1" r="2.55" fill="#4682BE"/>
<circle cx="48.5" cy="309.8" r="2.55" fill="#4682BE"/>
<circle cx="53.3" cy="310.9" r="2.55" fill="#4682BE"/>
<circle cx="55.7" cy="307.3" r="2.55" fill="#4682BE"/>
<circle cx="58.1" cy="312.6" r="2.55" fill="#4682BE"/>
<circle cx="70.9" cy="306.9" r="2.55" fill="#4682BE"/>
<circle cx="74.2" cy="316.6" r="2.55" fill="#4682BE"/>
<circle cx="81.4" cy="322.2" r="2.55" fill="#4682BE"/>
<circle cx="79.8" cy="323.0" r="2.55" fill="#4682BE"/>
<circle cx="47.7" cy="322.2" r="2.55" fill="#4682BE"/>
<circle cx="50.9" cy="321.4" r="2.55" fill="#4682BE"/>
<circle cx="54.1" cy="321.4" r="2.55" fill="#4682BE"/>
<circle cx="58.1" cy="322.2" r="2.55" fill="#4682BE"/>
<circle cx="36.4" cy="327.0" r="2.55" fill="#4682BE"/>
<circle cx="39.6" cy="327.8" r="2.55" fill="#4682BE"/>
<circle cx="55.7" cy="327.8" r="2.55" fill="#4682BE"/>
<circle cx="60.5" cy="327.8" r="2.55" fill="#4682BE"/>
<circle cx="63.7" cy="329.4" r="2.55" fill="#4682BE"/>
<circle cx="68.5" cy="330.2" r="2.55" fill="#4682BE"/>
<circle cx="72.6" cy="331.8" r="2.55" fill="#4682BE"/>
<circle cx="78.2" cy="333.4" r="2.55" fill="#4682BE"/>
<circle cx="84.3" cy="273.2" r="2.55" fill="#5BBC4E"/>
<circle cx="84.9" cy="278.8" r="2.55" fill="#5BBC4E"/>
<circle cx="91.8" cy="275.1" r="2.55" fill="#5BBC4E"/>
<circle cx="95.0" cy="276.1" r="2.55" fill="#5BBC4E"/>
<circle cx="97.4" cy="272.4" r="2.55" fill="#5BBC4E"/>
<circle cx="99.1" cy="281.7" r="2.55" fill="#5BBC4E"/>
<circle cx="85.4" cy="298.6" r="2.55" fill="#5BBC4E"/>
<circle cx="91.8" cy="302.1" r="2.55" fill="#5BBC4E"/>
<circle cx="97.1" cy="299.7" r="2.55" fill="#5BBC4E"/>
<circle cx="95.8" cy="308.5" r="2.55" fill="#5BBC4E"/>
<circle cx="89.4" cy="311.4" r="2.55" fill="#5BBC4E"/>
<circle cx="93.4" cy="315.8" r="2.55" fill="#5BBC4E"/>
<circle cx="87.0" cy="323.0" r="2.55" fill="#5BBC4E"/>
<circle cx="93.4" cy="323.8" r="2.55" fill="#5BBC4E"/>
<circle cx="99.1" cy="321.4" r="2.55" fill="#5BBC4E"/>
<circle cx="95.8" cy="325.4" r="2.55" fill="#5BBC4E"/>
<circle cx="87.8" cy="327.8" r="2.55" fill="#5BBC4E"/>
<circle cx="90.2" cy="331.0" r="2.55" fill="#5BBC4E"/>
<circle cx="84.6" cy="333.4" r="2.55" fill="#5BBC4E"/>
<circle cx="91.0" cy="334.2" r="2.55" fill="#5BBC4E"/>
<circle cx="95.0" cy="333.4" r="2.55" fill="#5BBC4E"/>
<circle cx="117.5" cy="322.2" r="2.55" fill="#9650B2"/>
<circle cx="108.7" cy="326.2" r="2.55" fill="#9650B2"/>
<circle cx="103.1" cy="331.0" r="2.55" fill="#9650B2"/>
<circle cx="113.5" cy="330.2" r="2.55" fill="#9650B2"/>
<circle cx="116.7" cy="328.6" r="2.55" fill="#9650B2"/>
<circle cx="136.3" cy="282.4" r="2.55" fill="#F3821F"/>
<circle cx="135.7" cy="300.2" r="2.55" fill="#F3821F"/>
<circle cx="139.2" cy="304.5" r="2.55" fill="#F3821F"/>
<circle cx="126.4" cy="309.0" r="2.55" fill="#F3821F"/>
<circle cx="126.0" cy="312.1" r="2.55" fill="#F3821F"/>
<circle cx="128.8" cy="316.6" r="2.55" fill="#F3821F"/>
<circle cx="131.2" cy="321.4" r="2.55" fill="#F3821F"/>
<circle cx="128.0" cy="324.6" r="2.55" fill="#F3821F"/>
<circle cx="132.8" cy="327.8" r="2.55" fill="#F3821F"/>
<circle cx="136.0" cy="324.6" r="2.55" fill="#F3821F"/>
<circle cx="123.1" cy="330.2" r="2.55" fill="#F3821F"/>
<circle cx="135.1" cy="336.2" r="2.55" fill="#F3821F"/>
<circle cx="137.2" cy="336.4" r="2.55" fill="#F3821F"/>
<circle cx="139.7" cy="336.8" r="2.55" fill="#F3821F"/>
<circle cx="141.9" cy="336.1" r="2.55" fill="#F3821F"/>
<circle cx="144.2" cy="337.5" r="2.55" fill="#F3821F"/>
<circle cx="146.1" cy="336.8" r="2.55" fill="#F3821F"/>
<circle cx="150.3" cy="336.3" r="2.55" fill="#F3821F"/>
<circle cx="152.7" cy="336.9" r="2.55" fill="#F3821F"/>
<circle cx="154.7" cy="336.4" r="2.55" fill="#F3821F"/>
<circle cx="156.9" cy="336.7" r="2.55" fill="#F3821F"/>
<circle cx="159.0" cy="336.3" r="2.55" fill="#F3821F"/>
<circle cx="161.4" cy="336.8" r="2.55" fill="#F3821F"/>
<circle cx="163.4" cy="337.3" r="2.55" fill="#F3821F"/>
<circle cx="165.9" cy="337.4" r="2.55" fill="#F3821F"/>
<circle cx="145.1" cy="326.6" r="2.55" fill="#F3821F"/>
<circle cx="161.2" cy="327.6" r="2.55" fill="#F3821F"/>
<circle cx="141.4" cy="326.0" r="2.55" fill="#F3821F"/>
<circle cx="163.5" cy="333.1" r="2.55" fill="#F3821F"/>
<circle cx="136.5" cy="337.4" r="2.55" fill="#F3821F"/>
<circle cx="150.6" cy="331.4" r="2.55" fill="#F3821F"/>
<circle cx="159.2" cy="326.5" r="2.55" fill="#F3821F"/>
<circle cx="166.3" cy="331.7" r="2.55" fill="#F3821F"/>
<circle cx="151.2" cy="332.0" r="2.55" fill="#F3821F"/>
<circle cx="147.2" cy="329.8" r="2.55" fill="#F3821F"/>
<circle cx="153.6" cy="334.0" r="2.55" fill="#F3821F"/>
<circle cx="164.7" cy="334.1" r="2.55" fill="#F3821F"/>
<circle cx="151.4" cy="329.9" r="2.55" fill="#F3821F"/>
<circle cx="146.7" cy="336.7" r="2.55" fill="#F3821F"/>
<circle cx="152.6" cy="333.5" r="2.55" fill="#F3821F"/>
<circle cx="162.6" cy="331.3" r="2.55" fill="#F3821F"/>
<circle cx="150.2" cy="325.9" r="2.55" fill="#F3821F"/>
<circle cx="154.6" cy="333.0" r="2.55" fill="#F3821F"/>
<circle cx="145.7" cy="325.5" r="2.55" fill="#F3821F"/>
<circle cx="160.5" cy="331.9" r="2.55" fill="#F3821F"/>
<circle cx="145.0" cy="336.0" r="2.55" fill="#F3821F"/>
<circle cx="160.9" cy="325.7" r="2.55" fill="#F3821F"/>
<circle cx="138.5" cy="332.1" r="2.55" fill="#F3821F"/>
<circle cx="156.6" cy="326.9" r="2.55" fill="#F3821F"/>
<circle cx="166.0" cy="328.0" r="2.55" fill="#F3821F"/>
<circle cx="148.2" cy="327.0" r="2.55" fill="#F3821F"/>
<circle cx="144.1" cy="336.2" r="2.55" fill="#F3821F"/>
<circle cx="150.8" cy="332.1" r="2.55" fill="#F3821F"/>
<circle cx="140.7" cy="335.9" r="2.55" fill="#F3821F"/>
<circle cx="153.9" cy="330.5" r="2.55" fill="#F3821F"/>
<circle cx="166.1" cy="334.0" r="2.55" fill="#F3821F"/>
<circle cx="136.3" cy="330.5" r="2.55" fill="#F3821F"/>
<circle cx="159.7" cy="333.3" r="2.55" fill="#F3821F"/>
<circle cx="156.6" cy="334.6" r="2.55" fill="#F3821F"/>
<circle cx="144.5" cy="337.5" r="2.55" fill="#F3821F"/>
<circle cx="153.4" cy="327.7" r="2.55" fill="#F3821F"/>
<circle cx="141.2" cy="330.0" r="2.55" fill="#F3821F"/>
<circle cx="152.3" cy="332.3" r="2.55" fill="#F3821F"/>
<circle cx="155.3" cy="335.0" r="2.55" fill="#F3821F"/>
<circle cx="166.2" cy="331.8" r="2.55" fill="#F3821F"/>
<circle cx="147.9" cy="331.3" r="2.55" fill="#F3821F"/>
<circle cx="139.9" cy="336.5" r="2.55" fill="#F3821F"/>
<circle cx="165.8" cy="337.3" r="2.55" fill="#EEF33A"/>
<circle cx="168.5" cy="336.3" r="2.55" fill="#EEF33A"/>
<circle cx="171.1" cy="337.4" r="2.55" fill="#EEF33A"/>
<circle cx="173.2" cy="337.0" r="2.55" fill="#EEF33A"/>
<circle cx="174.9" cy="337.2" r="2.55" fill="#EEF33A"/>
<circle cx="176.8" cy="336.1" r="2.55" fill="#EEF33A"/>
<circle cx="179.3" cy="336.8" r="2.55" fill="#EEF33A"/>
<circle cx="167.1" cy="335.9" r="2.55" fill="#EEF33A"/>
<circle cx="174.7" cy="333.3" r="2.55" fill="#EEF33A"/>
<circle cx="172.7" cy="332.9" r="2.55" fill="#EEF33A"/>
<circle cx="169.9" cy="334.8" r="2.55" fill="#EEF33A"/>
<circle cx="179.8" cy="337.4" r="2.55" fill="#EEF33A"/>
<circle cx="170.9" cy="333.5" r="2.55" fill="#EEF33A"/>
<circle cx="178.1" cy="333.2" r="2.55" fill="#EEF33A"/>
<circle cx="184.9" cy="336.1" r="2.55" fill="#EF80C7"/>
<circle cx="187.5" cy="337.1" r="2.55" fill="#EF80C7"/>
<circle cx="189.4" cy="337.2" r="2.55" fill="#EF80C7"/>
<circle cx="191.8" cy="336.8" r="2.55" fill="#EF80C7"/>
<circle cx="193.3" cy="337.2" r="2.55" fill="#EF80C7"/>
<circle cx="195.4" cy="336.0" r="2.55" fill="#EF80C7"/>
<circle cx="198.1" cy="337.3" r="2.55" fill="#EF80C7"/>
<circle cx="200.0" cy="336.9" r="2.55" fill="#EF80C7"/>
<circle cx="201.9" cy="336.3" r="2.55" fill="#EF80C7"/>
<circle cx="204.3" cy="337.2" r="2.55" fill="#EF80C7"/>
<circle cx="189.7" cy="335.7" r="2.55" fill="#EF80C7"/>
<circle cx="198.6" cy="337.4" r="2.55" fill="#EF80C7"/>
<circle cx="188.0" cy="335.3" r="2.55" fill="#EF80C7"/>
<circle cx="186.7" cy="332.2" r="2.55" fill="#EF80C7"/>
<circle cx="202.2" cy="335.8" r="2.55" fill="#EF80C7"/>
<circle cx="194.0" cy="336.8" r="2.55" fill="#EF80C7"/>
<circle cx="201.6" cy="331.0" r="2.55" fill="#EF80C7"/>
<circle cx="192.1" cy="336.6" r="2.55" fill="#EF80C7"/>
<circle cx="192.6" cy="332.0" r="2.55" fill="#EF80C7"/>
<circle cx="189.1" cy="329.8" r="2.55" fill="#EF80C7"/>
<circle cx="195.3" cy="329.9" r="2.55" fill="#EF80C7"/>
<circle cx="194.2" cy="336.1" r="2.55" fill="#EF80C7"/>
<circle cx="199.5" cy="336.8" r="2.55" fill="#EF80C7"/>
<circle cx="203.6" cy="335.9" r="2.55" fill="#EF80C7"/>
<circle cx="192.5" cy="333.2" r="2.55" fill="#EF80C7"/>
<circle cx="197.5" cy="336.0" r="2.55" fill="#EF80C7"/>
<circle cx="203.0" cy="336.2" r="2.55" fill="#EF80C7"/>
<circle cx="195.5" cy="336.8" r="2.55" fill="#EF80C7"/>
<circle cx="205.4" cy="336.3" r="2.55" fill="#9A9A9A"/>
<circle cx="208.0" cy="336.6" r="2.55" fill="#9A9A9A"/>
<circle cx="209.9" cy="337.4" r="2.55" fill="#9A9A9A"/>
<circle cx="212.7" cy="337.0" r="2.55" fill="#9A9A9A"/>
<circle cx="214.0" cy="336.7" r="2.55" fill="#9A9A9A"/>
<circle cx="216.7" cy="337.1" r="2.55" fill="#9A9A9A"/>
<circle cx="218.6" cy="337.2" r="2.55" fill="#9A9A9A"/>
<circle cx="221.3" cy="337.1" r="2.55" fill="#9A9A9A"/>
<circle cx="223.7" cy="336.3" r="2.55" fill="#9A9A9A"/>
<circle cx="225.9" cy="337.3" r="2.55" fill="#9A9A9A"/>
<circle cx="227.1" cy="336.5" r="2.55" fill="#9A9A9A"/>
<circle cx="229.7" cy="336.9" r="2.55" fill="#9A9A9A"/>
<circle cx="232.3" cy="337.1" r="2.55" fill="#9A9A9A"/>
<circle cx="234.1" cy="336.6" r="2.55" fill="#9A9A9A"/>
<circle cx="236.0" cy="336.1" r="2.55" fill="#9A9A9A"/>
<circle cx="238.9" cy="337.4" r="2.55" fill="#9A9A9A"/>
<circle cx="240.5" cy="337.2" r="2.55" fill="#9A9A9A"/>
<circle cx="242.9" cy="337.4" r="2.55" fill="#9A9A9A"/>
<circle cx="230.8" cy="335.3" r="2.55" fill="#9A9A9A"/>
<circle cx="238.7" cy="336.4" r="2.55" fill="#9A9A9A"/>
<circle cx="233.9" cy="333.0" r="2.55" fill="#9A9A9A"/>
<circle cx="222.8" cy="335.8" r="2.55" fill="#9A9A9A"/>
<circle cx="219.4" cy="331.9" r="2.55" fill="#9A9A9A"/>
<circle cx="238.5" cy="337.5" r="2.55" fill="#9A9A9A"/>
<circle cx="216.9" cy="330.9" r="2.55" fill="#9A9A9A"/>
<circle cx="239.3" cy="337.3" r="2.55" fill="#9A9A9A"/>
<circle cx="207.5" cy="332.6" r="2.55" fill="#9A9A9A"/>
<circle cx="210.0" cy="335.9" r="2.55" fill="#9A9A9A"/>
<circle cx="213.9" cy="330.8" r="2.55" fill="#9A9A9A"/>
<circle cx="235.1" cy="329.5" r="2.55" fill="#9A9A9A"/>
<circle cx="233.0" cy="337.0" r="2.55" fill="#9A9A9A"/>
<circle cx="235.1" cy="334.6" r="2.55" fill="#9A9A9A"/>
<circle cx="216.7" cy="330.4" r="2.55" fill="#9A9A9A"/>
<circle cx="242.9" cy="337.0" r="2.55" fill="#9A9A9A"/>
<circle cx="242.3" cy="334.3" r="2.55" fill="#9A9A9A"/>
<circle cx="234.7" cy="331.8" r="2.55" fill="#9A9A9A"/>
<circle cx="230.4" cy="330.4" r="2.55" fill="#9A9A9A"/>
<circle cx="207.8" cy="334.1" r="2.55" fill="#9A9A9A"/>
<circle cx="222.5" cy="331.7" r="2.55" fill="#9A9A9A"/>
<circle cx="242.2" cy="333.5" r="2.55" fill="#9A9A9A"/>
<circle cx="235.6" cy="336.7" r="2.55" fill="#9A9A9A"/>
<circle cx="233.3" cy="337.3" r="2.55" fill="#9A9A9A"/>
<circle cx="215.9" cy="330.6" r="2.55" fill="#9A9A9A"/>
<circle cx="243.8" cy="333.2" r="2.55" fill="#9A9A9A"/>
<circle cx="227.1" cy="332.3" r="2.55" fill="#9A9A9A"/>
<circle cx="208.0" cy="335.8" r="2.55" fill="#9A9A9A"/>
<circle cx="221.9" cy="334.9" r="2.55" fill="#9A9A9A"/>
<circle cx="217.9" cy="336.2" r="2.55" fill="#9A9A9A"/>
<circle cx="233.5" cy="336.7" r="2.55" fill="#9A9A9A"/>
<circle cx="215.0" cy="332.0" r="2.55" fill="#9A9A9A"/>
<circle cx="225.9" cy="335.9" r="2.55" fill="#9A9A9A"/>
<circle cx="242.5" cy="334.1" r="2.55" fill="#9A9A9A"/>
<circle cx="217.4" cy="335.0" r="2.55" fill="#9A9A9A"/>
<circle cx="211.2" cy="329.8" r="2.55" fill="#9A9A9A"/>
<circle cx="218.8" cy="333.0" r="2.55" fill="#9A9A9A"/>
<circle cx="227.2" cy="330.5" r="2.55" fill="#9A9A9A"/>
<circle cx="156.4" cy="275.6" r="2.55" fill="#F3821F"/>
<circle cx="163.1" cy="277.7" r="2.55" fill="#F3821F"/>
<circle cx="155.1" cy="281.2" r="2.55" fill="#F3821F"/>
<circle cx="152.3" cy="283.6" r="2.55" fill="#F3821F"/>
<circle cx="136.6" cy="282.0" r="2.55" fill="#F3821F"/>
<circle cx="162.3" cy="286.9" r="2.55" fill="#F3821F"/>
<circle cx="149.1" cy="298.1" r="2.55" fill="#F3821F"/>
<circle cx="150.3" cy="300.5" r="2.55" fill="#F3821F"/>
<circle cx="153.5" cy="303.4" r="2.55" fill="#F3821F"/>
<circle cx="155.9" cy="303.7" r="2.55" fill="#F3821F"/>
<circle cx="160.7" cy="300.5" r="2.55" fill="#F3821F"/>
<circle cx="136.6" cy="300.2" r="2.55" fill="#F3821F"/>
<circle cx="140.6" cy="304.5" r="2.55" fill="#F3821F"/>
<circle cx="164.7" cy="306.6" r="2.55" fill="#F3821F"/>
<circle cx="141.4" cy="313.0" r="2.55" fill="#F3821F"/>
<circle cx="156.7" cy="314.6" r="2.55" fill="#F3821F"/>
<circle cx="162.3" cy="314.2" r="2.55" fill="#F3821F"/>
<circle cx="165.5" cy="315.8" r="2.55" fill="#F3821F"/>
<circle cx="138.2" cy="319.0" r="2.55" fill="#F3821F"/>
<circle cx="144.6" cy="319.0" r="2.55" fill="#F3821F"/>
<circle cx="158.3" cy="319.8" r="2.55" fill="#F3821F"/>
<circle cx="159.1" cy="323.0" r="2.55" fill="#F3821F"/>
<circle cx="151.1" cy="324.6" r="2.55" fill="#F3821F"/>
<circle cx="163.1" cy="332.6" r="2.55" fill="#F3821F"/>
<circle cx="174.0" cy="277.2" r="2.55" fill="#EEF33A"/>
<circle cx="178.4" cy="284.9" r="2.55" fill="#EEF33A"/>
<circle cx="174.3" cy="309.0" r="2.55" fill="#EEF33A"/>
<circle cx="180.8" cy="306.9" r="2.55" fill="#EEF33A"/>
<circle cx="166.3" cy="319.0" r="2.55" fill="#EEF33A"/>
<circle cx="176.8" cy="318.2" r="2.55" fill="#EEF33A"/>
<circle cx="175.1" cy="320.6" r="2.55" fill="#EEF33A"/>
<circle cx="168.7" cy="323.8" r="2.55" fill="#EEF33A"/>
<circle cx="174.3" cy="327.0" r="2.55" fill="#EEF33A"/>
<circle cx="178.4" cy="326.2" r="2.55" fill="#EEF33A"/>
<circle cx="167.1" cy="330.2" r="2.55" fill="#EEF33A"/>
<circle cx="171.9" cy="331.0" r="2.55" fill="#EEF33A"/>
<circle cx="184.0" cy="280.9" r="2.55" fill="#A65628"/>
<circle cx="186.1" cy="284.8" r="2.55" fill="#A65628"/>
<circle cx="184.8" cy="300.5" r="2.55" fill="#A65628"/>
<circle cx="182.4" cy="321.4" r="2.55" fill="#A65628"/>
<circle cx="184.0" cy="326.2" r="2.55" fill="#A65628"/>
<circle cx="183.2" cy="331.8" r="2.55" fill="#A65628"/>
<circle cx="182.9" cy="335.8" r="2.55" fill="#A65628"/>
<circle cx="200.0" cy="294.9" r="2.55" fill="#EF80C7"/>
<circle cx="205.7" cy="293.8" r="2.55" fill="#EF80C7"/>
<circle cx="192.8" cy="300.5" r="2.55" fill="#EF80C7"/>
<circle cx="198.4" cy="301.3" r="2.55" fill="#EF80C7"/>
<circle cx="189.6" cy="303.7" r="2.55" fill="#EF80C7"/>
<circle cx="202.4" cy="303.7" r="2.55" fill="#EF80C7"/>
<circle cx="204.1" cy="306.1" r="2.55" fill="#EF80C7"/>
<circle cx="191.2" cy="308.5" r="2.55" fill="#EF80C7"/>
<circle cx="195.2" cy="311.8" r="2.55" fill="#EF80C7"/>
<circle cx="200.8" cy="309.3" r="2.55" fill="#EF80C7"/>
<circle cx="198.4" cy="313.4" r="2.55" fill="#EF80C7"/>
<circle cx="188.0" cy="317.4" r="2.55" fill="#EF80C7"/>
<circle cx="192.8" cy="317.4" r="2.55" fill="#EF80C7"/>
<circle cx="197.6" cy="318.2" r="2.55" fill="#EF80C7"/>
<circle cx="202.4" cy="319.0" r="2.55" fill="#EF80C7"/>
<circle cx="191.2" cy="323.0" r="2.55" fill="#EF80C7"/>
<circle cx="196.0" cy="321.4" r="2.55" fill="#EF80C7"/>
<circle cx="200.8" cy="321.4" r="2.55" fill="#EF80C7"/>
<circle cx="188.0" cy="328.6" r="2.55" fill="#EF80C7"/>
<circle cx="193.6" cy="327.8" r="2.55" fill="#EF80C7"/>
<circle cx="197.6" cy="327.0" r="2.55" fill="#EF80C7"/>
<circle cx="205.7" cy="327.8" r="2.55" fill="#EF80C7"/>
<circle cx="186.4" cy="334.2" r="2.55" fill="#EF80C7"/>
<circle cx="192.8" cy="335.0" r="2.55" fill="#EF80C7"/>
<circle cx="227.3" cy="285.3" r="2.55" fill="#9A9A9A"/>
<circle cx="233.3" cy="283.3" r="2.55" fill="#9A9A9A"/>
<circle cx="215.3" cy="292.5" r="2.55" fill="#9A9A9A"/>
<circle cx="214.5" cy="295.7" r="2.55" fill="#9A9A9A"/>
<circle cx="217.7" cy="298.9" r="2.55" fill="#9A9A9A"/>
<circle cx="226.9" cy="294.1" r="2.55" fill="#9A9A9A"/>
<circle cx="207.6" cy="301.3" r="2.55" fill="#9A9A9A"/>
<circle cx="226.9" cy="300.8" r="2.55" fill="#9A9A9A"/>
<circle cx="233.0" cy="301.6" r="2.55" fill="#9A9A9A"/>
<circle cx="239.4" cy="305.6" r="2.55" fill="#9A9A9A"/>
<circle cx="228.1" cy="306.1" r="2.55" fill="#9A9A9A"/>
<circle cx="212.1" cy="309.3" r="2.55" fill="#9A9A9A"/>
<circle cx="216.9" cy="311.8" r="2.55" fill="#9A9A9A"/>
<circle cx="207.3" cy="312.6" r="2.55" fill="#9A9A9A"/>
<circle cx="232.2" cy="313.4" r="2.55" fill="#9A9A9A"/>
<circle cx="221.7" cy="317.4" r="2.55" fill="#9A9A9A"/>
<circle cx="214.5" cy="315.8" r="2.55" fill="#9A9A9A"/>
<circle cx="213.7" cy="321.4" r="2.55" fill="#9A9A9A"/>
<circle cx="228.1" cy="321.4" r="2.55" fill="#9A9A9A"/>
<circle cx="234.6" cy="319.8" r="2.55" fill="#9A9A9A"/>
<circle cx="239.4" cy="317.4" r="2.55" fill="#9A9A9A"/>
<circle cx="241.0" cy="323.0" r="2.55" fill="#9A9A9A"/>
<circle cx="208.1" cy="327.0" r="2.55" fill="#9A9A9A"/>
<circle cx="218.5" cy="325.4" r="2.55" fill="#9A9A9A"/>
<circle cx="231.4" cy="325.4" r="2.55" fill="#9A9A9A"/>
<circle cx="237.8" cy="327.8" r="2.55" fill="#9A9A9A"/>
<circle cx="190.4" cy="310.1" r="2.55" fill="#EF80C7"/>
<circle cx="196.8" cy="306.9" r="2.55" fill="#EF80C7"/>
<circle cx="203.2" cy="304.5" r="2.55" fill="#EF80C7"/>
<circle cx="191.2" cy="315.0" r="2.55" fill="#EF80C7"/>
<circle cx="202.4" cy="311.8" r="2.55" fill="#EF80C7"/>
<circle cx="195.2" cy="319.8" r="2.55" fill="#EF80C7"/>
<circle cx="204.1" cy="323.0" r="2.55" fill="#EF80C7"/>
<circle cx="221.7" cy="321.4" r="2.55" fill="#9A9A9A"/>
<circle cx="229.7" cy="321.4" r="2.55" fill="#9A9A9A"/>
<circle cx="237.8" cy="321.4" r="2.55" fill="#9A9A9A"/>
<circle cx="244.2" cy="324.6" r="2.55" fill="#9A9A9A"/>
<circle cx="215.3" cy="329.4" r="2.55" fill="#9A9A9A"/>
<circle cx="228.1" cy="329.4" r="2.55" fill="#9A9A9A"/>
<circle cx="239.4" cy="327.0" r="2.55" fill="#9A9A9A"/>
<circle cx="218.5" cy="323.0" r="2.55" fill="#9A9A9A"/>
</g>
<g clip-path="url(#fa1)">
<circle cx="318.6" cy="34.4" r="2.55" fill="#5BBC4E"/>
<circle cx="310.1" cy="41.3" r="2.55" fill="#5BBC4E"/>
<circle cx="316.1" cy="44.5" r="2.55" fill="#5BBC4E"/>
<circle cx="309.8" cy="54.8" r="2.55" fill="#5BBC4E"/>
<circle cx="302.3" cy="64.2" r="2.55" fill="#5BBC4E"/>
<circle cx="303.9" cy="65.2" r="2.55" fill="#5BBC4E"/>
<circle cx="318.0" cy="64.5" r="2.55" fill="#5BBC4E"/>
<circle cx="314.5" cy="72.4" r="2.55" fill="#5BBC4E"/>
<circle cx="304.5" cy="79.0" r="2.55" fill="#5BBC4E"/>
<circle cx="310.8" cy="85.3" r="2.55" fill="#5BBC4E"/>
<circle cx="314.2" cy="86.2" r="2.55" fill="#5BBC4E"/>
<circle cx="310.5" cy="91.9" r="2.55" fill="#5BBC4E"/>
<circle cx="316.7" cy="96.9" r="2.55" fill="#5BBC4E"/>
<circle cx="367.9" cy="95.3" r="2.55" fill="#F3821F"/>
<circle cx="358.8" cy="102.8" r="2.55" fill="#F3821F"/>
<circle cx="372.3" cy="102.5" r="2.55" fill="#F3821F"/>
<circle cx="377.6" cy="103.2" r="2.55" fill="#F3821F"/>
<circle cx="394.3" cy="84.0" r="2.55" fill="#EEF33A"/>
<circle cx="393.9" cy="101.0" r="2.55" fill="#EEF33A"/>
<circle cx="420.0" cy="42.9" r="2.55" fill="#EF80C7"/>
<circle cx="416.9" cy="69.3" r="2.55" fill="#EF80C7"/>
<circle cx="420.3" cy="74.6" r="2.55" fill="#EF80C7"/>
<circle cx="412.2" cy="76.8" r="2.55" fill="#EF80C7"/>
<circle cx="409.0" cy="103.2" r="2.55" fill="#EF80C7"/>
<circle cx="415.9" cy="101.3" r="2.55" fill="#EF80C7"/>
<circle cx="417.5" cy="100.3" r="2.55" fill="#EF80C7"/>
<circle cx="420.6" cy="99.1" r="2.55" fill="#EF80C7"/>
<circle cx="423.8" cy="101.0" r="2.55" fill="#EF80C7"/>
<circle cx="442.0" cy="96.9" r="2.55" fill="#9A9A9A"/>
<circle cx="453.9" cy="93.1" r="2.55" fill="#9A9A9A"/>
<circle cx="460.8" cy="104.1" r="2.55" fill="#9A9A9A"/>
<circle cx="251.7" cy="161.8" r="2.55" fill="#4682BE"/>
<circle cx="254.0" cy="163.0" r="2.55" fill="#4682BE"/>
<circle cx="256.6" cy="162.2" r="2.55" fill="#4682BE"/>
<circle cx="258.1" cy="162.4" r="2.55" fill="#4682BE"/>
<circle cx="260.7" cy="162.9" r="2.55" fill="#4682BE"/>
<circle cx="262.4" cy="162.7" r="2.55" fill="#4682BE"/>
<circle cx="265.8" cy="162.2" r="2.55" fill="#4682BE"/>
<circle cx="267.4" cy="162.8" r="2.55" fill="#4682BE"/>
<circle cx="270.2" cy="162.1" r="2.55" fill="#4682BE"/>
<circle cx="271.2" cy="162.5" r="2.55" fill="#4682BE"/>
<circle cx="273.9" cy="162.8" r="2.55" fill="#4682BE"/>
<circle cx="276.7" cy="162.9" r="2.55" fill="#4682BE"/>
<circle cx="278.2" cy="162.6" r="2.55" fill="#4682BE"/>
<circle cx="280.3" cy="162.0" r="2.55" fill="#4682BE"/>
<circle cx="282.8" cy="162.9" r="2.55" fill="#4682BE"/>
<circle cx="287.6" cy="162.9" r="2.55" fill="#4682BE"/>
<circle cx="289.7" cy="162.8" r="2.55" fill="#4682BE"/>
<circle cx="293.4" cy="162.9" r="2.55" fill="#4682BE"/>
<circle cx="296.2" cy="161.8" r="2.55" fill="#4682BE"/>
<circle cx="298.1" cy="162.9" r="2.55" fill="#4682BE"/>
<circle cx="302.1" cy="163.1" r="2.55" fill="#4682BE"/>
<circle cx="298.2" cy="162.2" r="2.55" fill="#4682BE"/>
<circle cx="289.7" cy="160.5" r="2.55" fill="#4682BE"/>
<circle cx="299.9" cy="160.0" r="2.55" fill="#4682BE"/>
<circle cx="261.5" cy="162.4" r="2.55" fill="#4682BE"/>
<circle cx="290.4" cy="160.3" r="2.55" fill="#4682BE"/>
<circle cx="286.2" cy="163.1" r="2.55" fill="#4682BE"/>
<circle cx="271.2" cy="162.2" r="2.55" fill="#4682BE"/>
<circle cx="260.7" cy="162.4" r="2.55" fill="#4682BE"/>
<circle cx="266.4" cy="163.2" r="2.55" fill="#4682BE"/>
<circle cx="301.1" cy="162.3" r="2.55" fill="#4682BE"/>
<circle cx="301.6" cy="162.9" r="2.55" fill="#4682BE"/>
<circle cx="270.3" cy="162.7" r="2.55" fill="#4682BE"/>
<circle cx="294.3" cy="160.7" r="2.55" fill="#4682BE"/>
<circle cx="254.5" cy="162.0" r="2.55" fill="#4682BE"/>
<circle cx="271.2" cy="161.9" r="2.55" fill="#4682BE"/>
<circle cx="261.9" cy="160.3" r="2.55" fill="#4682BE"/>
<circle cx="298.1" cy="162.3" r="2.55" fill="#4682BE"/>
<circle cx="273.1" cy="163.2" r="2.55" fill="#4682BE"/>
<circle cx="317.4" cy="163.1" r="2.55" fill="#9650B2"/>
<circle cx="318.7" cy="161.8" r="2.55" fill="#9650B2"/>
<circle cx="321.7" cy="161.9" r="2.55" fill="#9650B2"/>
<circle cx="323.4" cy="161.8" r="2.55" fill="#9650B2"/>
<circle cx="325.6" cy="162.1" r="2.55" fill="#9650B2"/>
<circle cx="327.8" cy="163.2" r="2.55" fill="#9650B2"/>
<circle cx="330.8" cy="162.2" r="2.55" fill="#9650B2"/>
<circle cx="334.3" cy="162.5" r="2.55" fill="#9650B2"/>
<circle cx="341.0" cy="162.6" r="2.55" fill="#9650B2"/>
<circle cx="340.2" cy="161.2" r="2.55" fill="#9650B2"/>
<circle cx="337.0" cy="162.6" r="2.55" fill="#9650B2"/>
<circle cx="337.5" cy="159.9" r="2.55" fill="#9650B2"/>
<circle cx="332.2" cy="159.7" r="2.55" fill="#9650B2"/>
<circle cx="325.0" cy="161.9" r="2.55" fill="#9650B2"/>
<circle cx="336.5" cy="161.8" r="2.55" fill="#9650B2"/>
<circle cx="322.0" cy="163.0" r="2.55" fill="#9650B2"/>
<circle cx="323.2" cy="159.8" r="2.55" fill="#9650B2"/>
<circle cx="317.9" cy="163.0" r="2.55" fill="#9650B2"/>
<circle cx="325.2" cy="160.9" r="2.55" fill="#9650B2"/>
<circle cx="339.0" cy="158.5" r="2.55" fill="#9650B2"/>
<circle cx="323.6" cy="158.5" r="2.55" fill="#9650B2"/>
<circle cx="319.5" cy="163.0" r="2.55" fill="#9650B2"/>
<circle cx="339.8" cy="162.5" r="2.55" fill="#F3821F"/>
<circle cx="341.6" cy="162.3" r="2.55" fill="#F3821F"/>
<circle cx="344.2" cy="161.9" r="2.55" fill="#F3821F"/>
<circle cx="345.7" cy="161.9" r="2.55" fill="#F3821F"/>
<circle cx="348.4" cy="162.6" r="2.55" fill="#F3821F"/>
<circle cx="350.2" cy="162.8" r="2.55" fill="#F3821F"/>
<circle cx="352.3" cy="161.9" r="2.55" fill="#F3821F"/>
<circle cx="354.7" cy="162.6" r="2.55" fill="#F3821F"/>
<circle cx="343.8" cy="159.3" r="2.55" fill="#F3821F"/>
<circle cx="351.6" cy="156.4" r="2.55" fill="#F3821F"/>
<circle cx="341.4" cy="154.5" r="2.55" fill="#F3821F"/>
<circle cx="354.7" cy="159.6" r="2.55" fill="#F3821F"/>
<circle cx="356.4" cy="156.1" r="2.55" fill="#F3821F"/>
<circle cx="345.0" cy="163.0" r="2.55" fill="#F3821F"/>
<circle cx="343.0" cy="162.5" r="2.55" fill="#F3821F"/>
<circle cx="350.3" cy="154.7" r="2.55" fill="#F3821F"/>
<circle cx="346.4" cy="155.1" r="2.55" fill="#F3821F"/>
<circle cx="347.8" cy="155.8" r="2.55" fill="#F3821F"/>
<circle cx="353.9" cy="161.5" r="2.55" fill="#F3821F"/>
<circle cx="341.5" cy="155.0" r="2.55" fill="#F3821F"/>
<circle cx="351.0" cy="158.5" r="2.55" fill="#F3821F"/>
<circle cx="346.3" cy="161.8" r="2.55" fill="#F3821F"/>
<circle cx="343.3" cy="162.4" r="2.55" fill="#F3821F"/>
<circle cx="350.6" cy="161.5" r="2.55" fill="#F3821F"/>
<circle cx="343.3" cy="157.9" r="2.55" fill="#F3821F"/>
<circle cx="345.6" cy="163.2" r="2.55" fill="#F3821F"/>
<circle cx="252.8" cy="146.1" r="2.55" fill="#E41A1C"/>
<circle cx="252.8" cy="152.0" r="2.55" fill="#E41A1C"/>
<circle cx="252.8" cy="160.8" r="2.55" fill="#E41A1C"/>
<circle cx="254.4" cy="138.7" r="2.55" fill="#4682BE"/>
<circle cx="277.7" cy="133.5" r="2.55" fill="#4682BE"/>
<circle cx="270.8" cy="138.7" r="2.55" fill="#4682BE"/>
<circle cx="265.7" cy="142.1" r="2.55" fill="#4682BE"/>
<circle cx="276.4" cy="143.2" r="2.55" fill="#4682BE"/>
<circle cx="269.7" cy="147.2" r="2.55" fill="#4682BE"/>
<circle cx="268.6" cy="149.6" r="2.55" fill="#4682BE"/>
<circle cx="287.8" cy="146.9" r="2.55" fill="#4682BE"/>
<circle cx="254.7" cy="150.9" r="2.55" fill="#4682BE"/>
<circle cx="275.3" cy="153.6" r="2.55" fill="#4682BE"/>
<circle cx="277.7" cy="155.2" r="2.55" fill="#4682BE"/>
<circle cx="289.8" cy="156.8" r="2.55" fill="#4682BE"/>
<circle cx="299.1" cy="156.8" r="2.55" fill="#4682BE"/>
<circle cx="259.2" cy="158.4" r="2.55" fill="#4682BE"/>
<circle cx="268.9" cy="159.2" r="2.55" fill="#4682BE"/>
<circle cx="273.7" cy="158.4" r="2.55" fill="#4682BE"/>
<circle cx="282.5" cy="159.2" r="2.55" fill="#4682BE"/>
<circle cx="294.6" cy="159.2" r="2.55" fill="#4682BE"/>
<circle cx="316.7" cy="96.9" r="2.55" fill="#5BBC4E"/>
<circle cx="311.4" cy="110.3" r="2.55" fill="#5BBC4E"/>
<circle cx="317.4" cy="112.2" r="2.55" fill="#5BBC4E"/>
<circle cx="305.0" cy="118.1" r="2.55" fill="#5BBC4E"/>
<circle cx="317.1" cy="126.6" r="2.55" fill="#5BBC4E"/>
<circle cx="307.7" cy="129.0" r="2.55" fill="#5BBC4E"/>
<circle cx="306.6" cy="131.1" r="2.55" fill="#5BBC4E"/>
<circle cx="315.4" cy="131.9" r="2.55" fill="#5BBC4E"/>
<circle cx="309.0" cy="135.1" r="2.55" fill="#5BBC4E"/>
<circle cx="313.8" cy="134.3" r="2.55" fill="#5BBC4E"/>
<circle cx="315.4" cy="136.4" r="2.55" fill="#5BBC4E"/>
<circle cx="314.6" cy="142.4" r="2.55" fill="#5BBC4E"/>
<circle cx="308.2" cy="142.9" r="2.55" fill="#5BBC4E"/>
<circle cx="305.0" cy="144.0" r="2.55" fill="#5BBC4E"/>
<circle cx="302.9" cy="146.4" r="2.55" fill="#5BBC4E"/>
<circle cx="307.4" cy="151.2" r="2.55" fill="#5BBC4E"/>
<circle cx="312.2" cy="152.0" r="2.55" fill="#5BBC4E"/>
<circle cx="313.0" cy="155.2" r="2.55" fill="#5BBC4E"/>
<circle cx="309.0" cy="154.4" r="2.55" fill="#5BBC4E"/>
<circle cx="312.2" cy="160.0" r="2.55" fill="#5BBC4E"/>
<circle cx="305.0" cy="162.4" r="2.55" fill="#5BBC4E"/>
<circle cx="327.5" cy="124.2" r="2.55" fill="#9650B2"/>
<circle cx="333.6" cy="122.6" r="2.55" fill="#9650B2"/>
<circle cx="333.1" cy="128.2" r="2.55" fill="#9650B2"/>
<circle cx="337.9" cy="133.5" r="2.55" fill="#9650B2"/>
<circle cx="325.1" cy="135.1" r="2.55" fill="#9650B2"/>
<circle cx="323.5" cy="137.6" r="2.55" fill="#9650B2"/>
<circle cx="322.7" cy="140.8" r="2.55" fill="#9650B2"/>
<circle cx="335.2" cy="138.8" r="2.55" fill="#9650B2"/>
<circle cx="323.5" cy="152.8" r="2.55" fill="#9650B2"/>
<circle cx="327.5" cy="155.2" r="2.55" fill="#9650B2"/>
<circle cx="357.2" cy="102.7" r="2.55" fill="#F3821F"/>
<circle cx="355.3" cy="110.3" r="2.55" fill="#F3821F"/>
<circle cx="356.4" cy="125.5" r="2.55" fill="#F3821F"/>
<circle cx="343.2" cy="134.0" r="2.55" fill="#F3821F"/>
<circle cx="354.0" cy="134.3" r="2.55" fill="#F3821F"/>
<circle cx="352.4" cy="138.4" r="2.55" fill="#F3821F"/>
<circle cx="355.6" cy="141.6" r="2.55" fill="#F3821F"/>
<circle cx="354.0" cy="146.4" r="2.55" fill="#F3821F"/>
<circle cx="342.7" cy="147.2" r="2.55" fill="#F3821F"/>
<circle cx="347.6" cy="146.4" r="2.55" fill="#F3821F"/>
<circle cx="341.1" cy="152.0" r="2.55" fill="#F3821F"/>
<circle cx="344.4" cy="153.6" r="2.55" fill="#F3821F"/>
<circle cx="349.2" cy="154.4" r="2.55" fill="#F3821F"/>
<circle cx="352.6" cy="162.7" r="2.55" fill="#F3821F"/>
<circle cx="355.6" cy="162.4" r="2.55" fill="#F3821F"/>
<circle cx="356.9" cy="162.6" r="2.55" fill="#F3821F"/>
<circle cx="359.8" cy="163.1" r="2.55" fill="#F3821F"/>
<circle cx="362.0" cy="162.6" r="2.55" fill="#F3821F"/>
<circle cx="363.8" cy="161.8" r="2.55" fill="#F3821F"/>
<circle cx="366.3" cy="162.7" r="2.55" fill="#F3821F"/>
<circle cx="368.8" cy="161.7" r="2.55" fill="#F3821F"/>
<circle cx="370.2" cy="162.1" r="2.55" fill="#F3821F"/>
<circle cx="372.2" cy="161.8" r="2.55" fill="#F3821F"/>
<circle cx="375.4" cy="162.6" r="2.55" fill="#F3821F"/>
<circle cx="377.2" cy="163.0" r="2.55" fill="#F3821F"/>
<circle cx="379.5" cy="162.2" r="2.55" fill="#F3821F"/>
<circle cx="381.1" cy="162.3" r="2.55" fill="#F3821F"/>
<circle cx="383.8" cy="163.0" r="2.55" fill="#F3821F"/>
<circle cx="369.7" cy="160.6" r="2.55" fill="#F3821F"/>
<circle cx="356.5" cy="152.3" r="2.55" fill="#F3821F"/>
<circle cx="378.8" cy="158.1" r="2.55" fill="#F3821F"/>
<circle cx="359.3" cy="151.7" r="2.55" fill="#F3821F"/>
<circle cx="383.3" cy="162.2" r="2.55" fill="#F3821F"/>
<circle cx="368.5" cy="151.6" r="2.55" fill="#F3821F"/>
<circle cx="382.7" cy="162.8" r="2.55" fill="#F3821F"/>
<circle cx="382.0" cy="159.3" r="2.55" fill="#F3821F"/>
<circle cx="379.5" cy="156.4" r="2.55" fill="#F3821F"/>
<circle cx="378.2" cy="161.9" r="2.55" fill="#F3821F"/>
<circle cx="366.0" cy="161.2" r="2.55" fill="#F3821F"/>
<circle cx="379.6" cy="153.4" r="2.55" fill="#F3821F"/>
<circle cx="360.0" cy="161.6" r="2.55" fill="#F3821F"/>
<circle cx="369.6" cy="159.2" r="2.55" fill="#F3821F"/>
<circle cx="357.0" cy="159.4" r="2.55" fill="#F3821F"/>
<circle cx="376.3" cy="161.0" r="2.55" fill="#F3821F"/>
<circle cx="354.3" cy="152.7" r="2.55" fill="#F3821F"/>
<circle cx="377.3" cy="157.2" r="2.55" fill="#F3821F"/>
<circle cx="379.9" cy="163.0" r="2.55" fill="#F3821F"/>
<circle cx="372.3" cy="162.3" r="2.55" fill="#F3821F"/>
<circle cx="373.1" cy="157.3" r="2.55" fill="#F3821F"/>
<circle cx="366.5" cy="160.3" r="2.55" fill="#F3821F"/>
<circle cx="366.7" cy="156.9" r="2.55" fill="#F3821F"/>
<circle cx="367.3" cy="155.9" r="2.55" fill="#F3821F"/>
<circle cx="353.8" cy="158.7" r="2.55" fill="#F3821F"/>
<circle cx="368.7" cy="156.5" r="2.55" fill="#F3821F"/>
<circle cx="377.5" cy="161.1" r="2.55" fill="#F3821F"/>
<circle cx="367.7" cy="154.3" r="2.55" fill="#F3821F"/>
<circle cx="368.2" cy="161.7" r="2.55" fill="#F3821F"/>
<circle cx="357.1" cy="162.4" r="2.55" fill="#F3821F"/>
<circle cx="355.9" cy="158.8" r="2.55" fill="#F3821F"/>
<circle cx="369.4" cy="158.7" r="2.55" fill="#F3821F"/>
<circle cx="373.4" cy="162.9" r="2.55" fill="#F3821F"/>
<circle cx="376.6" cy="162.6" r="2.55" fill="#F3821F"/>
<circle cx="369.4" cy="154.3" r="2.55" fill="#F3821F"/>
<circle cx="369.2" cy="162.8" r="2.55" fill="#F3821F"/>
<circle cx="383.5" cy="159.5" r="2.55" fill="#F3821F"/>
<circle cx="380.5" cy="162.1" r="2.55" fill="#F3821F"/>
<circle cx="376.5" cy="151.3" r="2.55" fill="#F3821F"/>
<circle cx="359.2" cy="153.8" r="2.55" fill="#F3821F"/>
<circle cx="368.8" cy="151.5" r="2.55" fill="#F3821F"/>
<circle cx="382.4" cy="151.8" r="2.55" fill="#F3821F"/>
<circle cx="384.7" cy="161.8" r="2.55" fill="#EEF33A"/>
<circle cx="386.3" cy="162.1" r="2.55" fill="#EEF33A"/>
<circle cx="389.2" cy="162.8" r="2.55" fill="#EEF33A"/>
<circle cx="390.5" cy="162.4" r="2.55" fill="#EEF33A"/>
<circle cx="392.8" cy="162.8" r="2.55" fill="#EEF33A"/>
<circle cx="387.6" cy="160.0" r="2.55" fill="#EEF33A"/>
<circle cx="386.2" cy="163.1" r="2.55" fill="#EEF33A"/>
<circle cx="394.1" cy="162.4" r="2.55" fill="#EEF33A"/>
<circle cx="393.7" cy="158.7" r="2.55" fill="#EEF33A"/>
<circle cx="392.5" cy="162.4" r="2.55" fill="#EEF33A"/>
<circle cx="389.9" cy="162.7" r="2.55" fill="#EEF33A"/>
<circle cx="388.1" cy="159.0" r="2.55" fill="#EEF33A"/>
<circle cx="390.1" cy="157.1" r="2.55" fill="#EEF33A"/>
<circle cx="403.2" cy="163.0" r="2.55" fill="#EF80C7"/>
<circle cx="407.1" cy="162.0" r="2.55" fill="#EF80C7"/>
<circle cx="410.0" cy="162.3" r="2.55" fill="#EF80C7"/>
<circle cx="408.9" cy="162.0" r="2.55" fill="#EF80C7"/>
<circle cx="404.2" cy="161.7" r="2.55" fill="#EF80C7"/>
<circle cx="403.2" cy="160.4" r="2.55" fill="#EF80C7"/>
<circle cx="423.4" cy="162.2" r="2.55" fill="#9A9A9A"/>
<circle cx="428.3" cy="162.7" r="2.55" fill="#9A9A9A"/>
<circle cx="429.7" cy="163.0" r="2.55" fill="#9A9A9A"/>
<circle cx="432.4" cy="162.4" r="2.55" fill="#9A9A9A"/>
<circle cx="434.2" cy="162.9" r="2.55" fill="#9A9A9A"/>
<circle cx="436.3" cy="163.2" r="2.55" fill="#9A9A9A"/>
<circle cx="438.6" cy="162.7" r="2.55" fill="#9A9A9A"/>
<circle cx="441.4" cy="162.3" r="2.55" fill="#9A9A9A"/>
<circle cx="443.6" cy="162.5" r="2.55" fill="#9A9A9A"/>
<circle cx="446.2" cy="162.8" r="2.55" fill="#9A9A9A"/>
<circle cx="447.4" cy="162.2" r="2.55" fill="#9A9A9A"/>
<circle cx="450.4" cy="162.6" r="2.55" fill="#9A9A9A"/>
<circle cx="451.7" cy="162.2" r="2.55" fill="#9A9A9A"/>
<circle cx="454.3" cy="162.2" r="2.55" fill="#9A9A9A"/>
<circle cx="457.2" cy="162.1" r="2.55" fill="#9A9A9A"/>
<circle cx="459.3" cy="163.1" r="2.55" fill="#9A9A9A"/>
<circle cx="460.9" cy="162.8" r="2.55" fill="#9A9A9A"/>
<circle cx="454.3" cy="162.7" r="2.55" fill="#9A9A9A"/>
<circle cx="445.3" cy="163.1" r="2.55" fill="#9A9A9A"/>
<circle cx="429.3" cy="149.8" r="2.55" fill="#9A9A9A"/>
<circle cx="447.6" cy="161.1" r="2.55" fill="#9A9A9A"/>
<circle cx="448.9" cy="156.8" r="2.55" fill="#9A9A9A"/>
<circle cx="430.5" cy="152.0" r="2.55" fill="#9A9A9A"/>
<circle cx="435.5" cy="159.7" r="2.55" fill="#9A9A9A"/>
<circle cx="458.6" cy="162.8" r="2.55" fill="#9A9A9A"/>
<circle cx="451.8" cy="152.5" r="2.55" fill="#9A9A9A"/>
<circle cx="456.9" cy="163.2" r="2.55" fill="#9A9A9A"/>
<circle cx="442.0" cy="153.1" r="2.55" fill="#9A9A9A"/>
<circle cx="441.5" cy="153.1" r="2.55" fill="#9A9A9A"/>
<circle cx="427.8" cy="160.8" r="2.55" fill="#9A9A9A"/>
<circle cx="425.2" cy="160.7" r="2.55" fill="#9A9A9A"/>
<circle cx="453.2" cy="159.3" r="2.55" fill="#9A9A9A"/>
<circle cx="456.9" cy="153.9" r="2.55" fill="#9A9A9A"/>
<circle cx="434.1" cy="153.6" r="2.55" fill="#9A9A9A"/>
<circle cx="440.8" cy="156.1" r="2.55" fill="#9A9A9A"/>
<circle cx="444.2" cy="152.4" r="2.55" fill="#9A9A9A"/>
<circle cx="448.9" cy="160.3" r="2.55" fill="#9A9A9A"/>
<circle cx="432.2" cy="149.4" r="2.55" fill="#9A9A9A"/>
<circle cx="424.3" cy="150.8" r="2.55" fill="#9A9A9A"/>
<circle cx="432.9" cy="160.3" r="2.55" fill="#9A9A9A"/>
<circle cx="460.8" cy="153.1" r="2.55" fill="#9A9A9A"/>
<circle cx="436.5" cy="153.1" r="2.55" fill="#9A9A9A"/>
<circle cx="436.6" cy="150.8" r="2.55" fill="#9A9A9A"/>
<circle cx="459.4" cy="160.6" r="2.55" fill="#9A9A9A"/>
<circle cx="450.9" cy="154.9" r="2.55" fill="#9A9A9A"/>
<circle cx="462.2" cy="154.4" r="2.55" fill="#9A9A9A"/>
<circle cx="456.7" cy="157.4" r="2.55" fill="#9A9A9A"/>
<circle cx="457.4" cy="153.8" r="2.55" fill="#9A9A9A"/>
<circle cx="452.2" cy="157.9" r="2.55" fill="#9A9A9A"/>
<circle cx="435.8" cy="155.9" r="2.55" fill="#9A9A9A"/>
<circle cx="448.2" cy="161.0" r="2.55" fill="#9A9A9A"/>
<circle cx="459.5" cy="162.5" r="2.55" fill="#9A9A9A"/>
<circle cx="424.7" cy="161.8" r="2.55" fill="#9A9A9A"/>
<circle cx="460.2" cy="162.2" r="2.55" fill="#9A9A9A"/>
<circle cx="429.2" cy="159.2" r="2.55" fill="#9A9A9A"/>
<circle cx="425.3" cy="163.0" r="2.55" fill="#9A9A9A"/>
<circle cx="448.6" cy="153.9" r="2.55" fill="#9A9A9A"/>
<circle cx="452.6" cy="153.9" r="2.55" fill="#9A9A9A"/>
<circle cx="446.9" cy="162.7" r="2.55" fill="#9A9A9A"/>
<circle cx="455.8" cy="158.9" r="2.55" fill="#9A9A9A"/>
<circle cx="458.7" cy="151.9" r="2.55" fill="#9A9A9A"/>
<circle cx="457.8" cy="162.6" r="2.55" fill="#9A9A9A"/>
<circle cx="460.8" cy="150.3" r="2.55" fill="#9A9A9A"/>
<circle cx="431.8" cy="162.2" r="2.55" fill="#9A9A9A"/>
<circle cx="425.0" cy="162.2" r="2.55" fill="#9A9A9A"/>
<circle cx="455.6" cy="151.4" r="2.55" fill="#9A9A9A"/>
<circle cx="456.1" cy="154.9" r="2.55" fill="#9A9A9A"/>
<circle cx="435.0" cy="154.9" r="2.55" fill="#9A9A9A"/>
<circle cx="427.5" cy="162.3" r="2.55" fill="#9A9A9A"/>
<circle cx="431.7" cy="152.9" r="2.55" fill="#9A9A9A"/>
<circle cx="440.3" cy="159.5" r="2.55" fill="#9A9A9A"/>
<circle cx="433.8" cy="163.1" r="2.55" fill="#9A9A9A"/>
<circle cx="451.8" cy="160.0" r="2.55" fill="#9A9A9A"/>
<circle cx="436.3" cy="158.9" r="2.55" fill="#9A9A9A"/>
<circle cx="443.5" cy="149.4" r="2.55" fill="#9A9A9A"/>
<circle cx="448.0" cy="151.3" r="2.55" fill="#9A9A9A"/>
<circle cx="439.9" cy="163.0" r="2.55" fill="#9A9A9A"/>
<circle cx="454.1" cy="157.9" r="2.55" fill="#9A9A9A"/>
<circle cx="451.4" cy="159.2" r="2.55" fill="#9A9A9A"/>
<circle cx="368.3" cy="95.8" r="2.55" fill="#F3821F"/>
<circle cx="359.1" cy="102.7" r="2.55" fill="#F3821F"/>
<circle cx="372.3" cy="102.2" r="2.55" fill="#F3821F"/>
<circle cx="377.9" cy="103.4" r="2.55" fill="#F3821F"/>
<circle cx="355.4" cy="110.3" r="2.55" fill="#F3821F"/>
<circle cx="355.9" cy="113.0" r="2.55" fill="#F3821F"/>
<circle cx="373.9" cy="109.5" r="2.55" fill="#F3821F"/>
<circle cx="376.8" cy="112.7" r="2.55" fill="#F3821F"/>
<circle cx="381.9" cy="111.9" r="2.55" fill="#F3821F"/>
<circle cx="360.2" cy="123.6" r="2.55" fill="#F3821F"/>
<circle cx="356.2" cy="125.5" r="2.55" fill="#F3821F"/>
<circle cx="370.3" cy="124.2" r="2.55" fill="#F3821F"/>
<circle cx="368.7" cy="125.5" r="2.55" fill="#F3821F"/>
<circle cx="376.3" cy="126.8" r="2.55" fill="#F3821F"/>
<circle cx="381.1" cy="128.7" r="2.55" fill="#F3821F"/>
<circle cx="385.1" cy="127.9" r="2.55" fill="#F3821F"/>
<circle cx="357.0" cy="132.7" r="2.55" fill="#F3821F"/>
<circle cx="375.2" cy="132.7" r="2.55" fill="#F3821F"/>
<circle cx="377.1" cy="136.8" r="2.55" fill="#F3821F"/>
<circle cx="379.5" cy="140.8" r="2.55" fill="#F3821F"/>
<circle cx="366.6" cy="139.2" r="2.55" fill="#F3821F"/>
<circle cx="355.4" cy="140.8" r="2.55" fill="#F3821F"/>
<circle cx="369.9" cy="142.4" r="2.55" fill="#F3821F"/>
<circle cx="363.4" cy="146.4" r="2.55" fill="#F3821F"/>
<circle cx="369.9" cy="146.4" r="2.55" fill="#F3821F"/>
<circle cx="382.7" cy="150.4" r="2.55" fill="#F3821F"/>
<circle cx="356.2" cy="148.0" r="2.55" fill="#F3821F"/>
<circle cx="393.9" cy="101.1" r="2.55" fill="#EEF33A"/>
<circle cx="387.0" cy="108.6" r="2.55" fill="#EEF33A"/>
<circle cx="392.8" cy="119.1" r="2.55" fill="#EEF33A"/>
<circle cx="398.3" cy="127.9" r="2.55" fill="#EEF33A"/>
<circle cx="399.6" cy="131.9" r="2.55" fill="#EEF33A"/>
<circle cx="396.4" cy="135.1" r="2.55" fill="#EEF33A"/>
<circle cx="393.9" cy="137.6" r="2.55" fill="#EEF33A"/>
<circle cx="389.1" cy="146.4" r="2.55" fill="#EEF33A"/>
<circle cx="395.6" cy="147.2" r="2.55" fill="#EEF33A"/>
<circle cx="398.0" cy="146.4" r="2.55" fill="#EEF33A"/>
<circle cx="392.8" cy="152.0" r="2.55" fill="#EEF33A"/>
<circle cx="400.1" cy="155.2" r="2.55" fill="#EEF33A"/>
<circle cx="396.4" cy="160.0" r="2.55" fill="#EEF33A"/>
<circle cx="403.6" cy="135.9" r="2.55" fill="#A65628"/>
<circle cx="402.0" cy="144.0" r="2.55" fill="#A65628"/>
<circle cx="403.1" cy="146.4" r="2.55" fill="#A65628"/>
<circle cx="404.1" cy="150.4" r="2.55" fill="#A65628"/>
<circle cx="401.2" cy="161.6" r="2.55" fill="#A65628"/>
<circle cx="409.2" cy="103.0" r="2.55" fill="#EF80C7"/>
<circle cx="415.6" cy="101.7" r="2.55" fill="#EF80C7"/>
<circle cx="420.4" cy="98.2" r="2.55" fill="#EF80C7"/>
<circle cx="423.7" cy="101.1" r="2.55" fill="#EF80C7"/>
<circle cx="409.5" cy="110.3" r="2.55" fill="#EF80C7"/>
<circle cx="423.7" cy="116.7" r="2.55" fill="#EF80C7"/>
<circle cx="424.5" cy="119.4" r="2.55" fill="#EF80C7"/>
<circle cx="416.4" cy="119.9" r="2.55" fill="#EF80C7"/>
<circle cx="419.6" cy="122.6" r="2.55" fill="#EF80C7"/>
<circle cx="407.6" cy="126.3" r="2.55" fill="#EF80C7"/>
<circle cx="410.0" cy="127.9" r="2.55" fill="#EF80C7"/>
<circle cx="413.2" cy="131.1" r="2.55" fill="#EF80C7"/>
<circle cx="418.8" cy="127.9" r="2.55" fill="#EF80C7"/>
<circle cx="423.7" cy="129.0" r="2.55" fill="#EF80C7"/>
<circle cx="422.1" cy="132.3" r="2.55" fill="#EF80C7"/>
<circle cx="409.2" cy="141.6" r="2.55" fill="#EF80C7"/>
<circle cx="411.6" cy="142.4" r="2.55" fill="#EF80C7"/>
<circle cx="418.0" cy="144.0" r="2.55" fill="#EF80C7"/>
<circle cx="422.1" cy="138.4" r="2.55" fill="#EF80C7"/>
<circle cx="421.2" cy="140.8" r="2.55" fill="#EF80C7"/>
<circle cx="416.4" cy="153.6" r="2.55" fill="#EF80C7"/>
<circle cx="408.4" cy="156.0" r="2.55" fill="#EF80C7"/>
<circle cx="406.0" cy="160.0" r="2.55" fill="#EF80C7"/>
<circle cx="414.8" cy="160.8" r="2.55" fill="#EF80C7"/>
<circle cx="442.1" cy="96.9" r="2.55" fill="#9A9A9A"/>
<circle cx="433.3" cy="107.0" r="2.55" fill="#9A9A9A"/>
<circle cx="434.9" cy="107.8" r="2.55" fill="#9A9A9A"/>
<circle cx="460.3" cy="105.0" r="2.55" fill="#9A9A9A"/>
<circle cx="454.5" cy="117.2" r="2.55" fill="#9A9A9A"/>
<circle cx="447.7" cy="120.7" r="2.55" fill="#9A9A9A"/>
<circle cx="445.3" cy="123.1" r="2.55" fill="#9A9A9A"/>
<circle cx="428.5" cy="122.3" r="2.55" fill="#9A9A9A"/>
<circle cx="439.7" cy="127.9" r="2.55" fill="#9A9A9A"/>
<circle cx="452.6" cy="125.5" r="2.55" fill="#9A9A9A"/>
<circle cx="451.4" cy="129.2" r="2.55" fill="#9A9A9A"/>
<circle cx="432.5" cy="133.5" r="2.55" fill="#9A9A9A"/>
<circle cx="447.7" cy="133.5" r="2.55" fill="#9A9A9A"/>
<circle cx="449.4" cy="135.9" r="2.55" fill="#9A9A9A"/>
<circle cx="455.8" cy="137.6" r="2.55" fill="#9A9A9A"/>
<circle cx="461.4" cy="131.1" r="2.55" fill="#9A9A9A"/>
<circle cx="445.3" cy="141.6" r="2.55" fill="#9A9A9A"/>
<circle cx="436.5" cy="143.2" r="2.55" fill="#9A9A9A"/>
<circle cx="434.9" cy="144.8" r="2.55" fill="#9A9A9A"/>
<circle cx="442.1" cy="146.4" r="2.55" fill="#9A9A9A"/>
<circle cx="451.0" cy="143.2" r="2.55" fill="#9A9A9A"/>
<circle cx="457.4" cy="143.2" r="2.55" fill="#9A9A9A"/>
<circle cx="426.1" cy="149.6" r="2.55" fill="#9A9A9A"/>
<circle cx="431.7" cy="153.6" r="2.55" fill="#9A9A9A"/>
<circle cx="439.7" cy="150.4" r="2.55" fill="#9A9A9A"/>
<circle cx="449.4" cy="148.0" r="2.55" fill="#9A9A9A"/>
<circle cx="251.6" cy="336.5" r="2.55" fill="#4682BE"/>
<circle cx="254.2" cy="336.4" r="2.55" fill="#4682BE"/>
<circle cx="256.0" cy="337.1" r="2.55" fill="#4682BE"/>
<circle cx="258.3" cy="337.4" r="2.55" fill="#4682BE"/>
<circle cx="260.5" cy="336.4" r="2.55" fill="#4682BE"/>
<circle cx="262.6" cy="337.0" r="2.55" fill="#4682BE"/>
<circle cx="265.1" cy="337.2" r="2.55" fill="#4682BE"/>
<circle cx="266.8" cy="336.0" r="2.55" fill="#4682BE"/>
<circle cx="269.1" cy="336.4" r="2.55" fill="#4682BE"/>
<circle cx="273.5" cy="336.8" r="2.55" fill="#4682BE"/>
<circle cx="275.8" cy="336.7" r="2.55" fill="#4682BE"/>
<circle cx="278.9" cy="336.5" r="2.55" fill="#4682BE"/>
<circle cx="281.1" cy="336.5" r="2.55" fill="#4682BE"/>
<circle cx="282.5" cy="337.3" r="2.55" fill="#4682BE"/>
<circle cx="285.3" cy="336.2" r="2.55" fill="#4682BE"/>
<circle cx="286.8" cy="336.5" r="2.55" fill="#4682BE"/>
<circle cx="289.9" cy="337.2" r="2.55" fill="#4682BE"/>
<circle cx="292.0" cy="336.4" r="2.55" fill="#4682BE"/>
<circle cx="293.4" cy="336.3" r="2.55" fill="#4682BE"/>
<circle cx="295.9" cy="336.7" r="2.55" fill="#4682BE"/>
<circle cx="298.6" cy="337.1" r="2.55" fill="#4682BE"/>
<circle cx="300.5" cy="336.6" r="2.55" fill="#4682BE"/>
<circle cx="302.9" cy="336.1" r="2.55" fill="#4682BE"/>
<circle cx="277.4" cy="329.9" r="2.55" fill="#4682BE"/>
<circle cx="260.1" cy="334.0" r="2.55" fill="#4682BE"/>
<circle cx="281.9" cy="335.6" r="2.55" fill="#4682BE"/>
<circle cx="287.4" cy="337.1" r="2.55" fill="#4682BE"/>
<circle cx="274.8" cy="336.6" r="2.55" fill="#4682BE"/>
<circle cx="256.6" cy="329.7" r="2.55" fill="#4682BE"/>
<circle cx="274.6" cy="337.3" r="2.55" fill="#4682BE"/>
<circle cx="289.2" cy="336.4" r="2.55" fill="#4682BE"/>
<circle cx="295.2" cy="337.5" r="2.55" fill="#4682BE"/>
<circle cx="292.5" cy="330.8" r="2.55" fill="#4682BE"/>
<circle cx="266.6" cy="334.6" r="2.55" fill="#4682BE"/>
<circle cx="278.5" cy="332.6" r="2.55" fill="#4682BE"/>
<circle cx="269.4" cy="334.6" r="2.55" fill="#4682BE"/>
<circle cx="286.2" cy="334.5" r="2.55" fill="#4682BE"/>
<circle cx="298.5" cy="331.1" r="2.55" fill="#4682BE"/>
<circle cx="267.2" cy="336.6" r="2.55" fill="#4682BE"/>
<circle cx="281.0" cy="334.5" r="2.55" fill="#4682BE"/>
<circle cx="262.1" cy="335.2" r="2.55" fill="#4682BE"/>
<circle cx="268.6" cy="337.1" r="2.55" fill="#4682BE"/>
<circle cx="301.9" cy="334.3" r="2.55" fill="#4682BE"/>
<circle cx="296.5" cy="330.3" r="2.55" fill="#4682BE"/>
<circle cx="301.4" cy="329.7" r="2.55" fill="#4682BE"/>
<circle cx="293.7" cy="332.9" r="2.55" fill="#4682BE"/>
<circle cx="286.8" cy="337.2" r="2.55" fill="#4682BE"/>
<circle cx="267.3" cy="333.0" r="2.55" fill="#4682BE"/>
<circle cx="301.0" cy="333.4" r="2.55" fill="#4682BE"/>
<circle cx="285.3" cy="334.1" r="2.55" fill="#4682BE"/>
<circle cx="269.7" cy="335.6" r="2.55" fill="#4682BE"/>
<circle cx="253.4" cy="330.5" r="2.55" fill="#4682BE"/>
<circle cx="286.9" cy="336.4" r="2.55" fill="#4682BE"/>
<circle cx="256.4" cy="334.4" r="2.55" fill="#4682BE"/>
<circle cx="271.1" cy="332.6" r="2.55" fill="#4682BE"/>
<circle cx="273.4" cy="333.3" r="2.55" fill="#4682BE"/>
<circle cx="281.0" cy="333.7" r="2.55" fill="#4682BE"/>
<circle cx="257.9" cy="334.8" r="2.55" fill="#4682BE"/>
<circle cx="297.7" cy="336.5" r="2.55" fill="#4682BE"/>
<circle cx="257.8" cy="333.6" r="2.55" fill="#4682BE"/>
<circle cx="265.0" cy="330.7" r="2.55" fill="#4682BE"/>
<circle cx="279.3" cy="337.0" r="2.55" fill="#4682BE"/>
<circle cx="277.2" cy="336.0" r="2.55" fill="#4682BE"/>
<circle cx="263.7" cy="333.5" r="2.55" fill="#4682BE"/>
<circle cx="257.8" cy="333.4" r="2.55" fill="#4682BE"/>
<circle cx="282.3" cy="333.9" r="2.55" fill="#4682BE"/>
<circle cx="273.0" cy="337.1" r="2.55" fill="#4682BE"/>
<circle cx="274.6" cy="337.1" r="2.55" fill="#4682BE"/>
<circle cx="280.3" cy="330.7" r="2.55" fill="#4682BE"/>
<circle cx="303.7" cy="337.3" r="2.55" fill="#5BBC4E"/>
<circle cx="307.3" cy="336.3" r="2.55" fill="#5BBC4E"/>
<circle cx="309.6" cy="336.1" r="2.55" fill="#5BBC4E"/>
<circle cx="312.5" cy="337.3" r="2.55" fill="#5BBC4E"/>
<circle cx="313.9" cy="337.1" r="2.55" fill="#5BBC4E"/>
<circle cx="316.0" cy="336.6" r="2.55" fill="#5BBC4E"/>
<circle cx="318.6" cy="336.4" r="2.55" fill="#5BBC4E"/>
<circle cx="317.7" cy="334.3" r="2.55" fill="#5BBC4E"/>
<circle cx="317.4" cy="332.5" r="2.55" fill="#5BBC4E"/>
<circle cx="318.1" cy="333.0" r="2.55" fill="#5BBC4E"/>
<circle cx="306.1" cy="330.0" r="2.55" fill="#5BBC4E"/>
<circle cx="308.9" cy="331.3" r="2.55" fill="#5BBC4E"/>
<circle cx="314.3" cy="331.1" r="2.55" fill="#5BBC4E"/>
<circle cx="305.4" cy="330.4" r="2.55" fill="#5BBC4E"/>
<circle cx="315.2" cy="334.8" r="2.55" fill="#5BBC4E"/>
<circle cx="315.0" cy="329.2" r="2.55" fill="#5BBC4E"/>
<circle cx="313.1" cy="337.3" r="2.55" fill="#5BBC4E"/>
<circle cx="312.2" cy="336.9" r="2.55" fill="#5BBC4E"/>
<circle cx="305.2" cy="330.7" r="2.55" fill="#5BBC4E"/>
<circle cx="314.2" cy="329.4" r="2.55" fill="#5BBC4E"/>
<circle cx="306.5" cy="335.8" r="2.55" fill="#5BBC4E"/>
<circle cx="316.9" cy="334.1" r="2.55" fill="#5BBC4E"/>
<circle cx="318.2" cy="337.5" r="2.55" fill="#9650B2"/>
<circle cx="321.2" cy="337.2" r="2.55" fill="#9650B2"/>
<circle cx="322.8" cy="336.5" r="2.55" fill="#9650B2"/>
<circle cx="324.8" cy="336.2" r="2.55" fill="#9650B2"/>
<circle cx="327.7" cy="336.3" r="2.55" fill="#9650B2"/>
<circle cx="331.7" cy="337.3" r="2.55" fill="#9650B2"/>
<circle cx="334.5" cy="336.3" r="2.55" fill="#9650B2"/>
<circle cx="335.9" cy="336.3" r="2.55" fill="#9650B2"/>
<circle cx="338.3" cy="336.8" r="2.55" fill="#9650B2"/>
<circle cx="341.1" cy="336.9" r="2.55" fill="#9650B2"/>
<circle cx="332.4" cy="331.3" r="2.55" fill="#9650B2"/>
<circle cx="326.1" cy="337.2" r="2.55" fill="#9650B2"/>
<circle cx="338.8" cy="336.3" r="2.55" fill="#9650B2"/>
<circle cx="319.6" cy="333.6" r="2.55" fill="#9650B2"/>
<circle cx="326.8" cy="336.6" r="2.55" fill="#9650B2"/>
<circle cx="331.6" cy="334.6" r="2.55" fill="#9650B2"/>
<circle cx="326.6" cy="335.2" r="2.55" fill="#9650B2"/>
<circle cx="331.7" cy="337.5" r="2.55" fill="#9650B2"/>
<circle cx="319.1" cy="335.5" r="2.55" fill="#9650B2"/>
<circle cx="340.8" cy="334.6" r="2.55" fill="#9650B2"/>
<circle cx="321.9" cy="337.3" r="2.55" fill="#9650B2"/>
<circle cx="324.8" cy="333.0" r="2.55" fill="#9650B2"/>
<circle cx="329.9" cy="336.0" r="2.55" fill="#9650B2"/>
<circle cx="331.4" cy="336.0" r="2.55" fill="#9650B2"/>
<circle cx="340.2" cy="334.1" r="2.55" fill="#9650B2"/>
<circle cx="319.4" cy="330.3" r="2.55" fill="#9650B2"/>
<circle cx="336.0" cy="333.9" r="2.55" fill="#9650B2"/>
<circle cx="336.1" cy="331.3" r="2.55" fill="#9650B2"/>
<circle cx="339.7" cy="337.0" r="2.55" fill="#F3821F"/>
<circle cx="342.1" cy="336.2" r="2.55" fill="#F3821F"/>
<circle cx="345.9" cy="336.4" r="2.55" fill="#F3821F"/>
<circle cx="348.3" cy="336.5" r="2.55" fill="#F3821F"/>
<circle cx="350.6" cy="336.9" r="2.55" fill="#F3821F"/>
<circle cx="352.5" cy="337.0" r="2.55" fill="#F3821F"/>
<circle cx="357.0" cy="337.1" r="2.55" fill="#F3821F"/>
<circle cx="346.0" cy="335.7" r="2.55" fill="#F3821F"/>
<circle cx="339.7" cy="336.5" r="2.55" fill="#F3821F"/>
<circle cx="347.9" cy="328.6" r="2.55" fill="#F3821F"/>
<circle cx="350.0" cy="333.5" r="2.55" fill="#F3821F"/>
<circle cx="342.7" cy="335.0" r="2.55" fill="#F3821F"/>
<circle cx="345.1" cy="337.1" r="2.55" fill="#F3821F"/>
<circle cx="353.0" cy="334.9" r="2.55" fill="#F3821F"/>
<circle cx="356.8" cy="332.4" r="2.55" fill="#F3821F"/>
<circle cx="356.5" cy="334.6" r="2.55" fill="#F3821F"/>
<circle cx="341.0" cy="332.0" r="2.55" fill="#F3821F"/>
<circle cx="350.3" cy="336.2" r="2.55" fill="#F3821F"/>
<circle cx="346.1" cy="327.2" r="2.55" fill="#F3821F"/>
<circle cx="347.4" cy="329.8" r="2.55" fill="#F3821F"/>
<circle cx="340.8" cy="328.6" r="2.55" fill="#F3821F"/>
<circle cx="356.1" cy="333.1" r="2.55" fill="#F3821F"/>
<circle cx="344.3" cy="335.3" r="2.55" fill="#F3821F"/>
<circle cx="342.6" cy="337.4" r="2.55" fill="#F3821F"/>
<circle cx="352.5" cy="335.3" r="2.55" fill="#F3821F"/>
<circle cx="346.9" cy="335.8" r="2.55" fill="#F3821F"/>
<circle cx="350.7" cy="336.0" r="2.55" fill="#F3821F"/>
<circle cx="351.5" cy="328.7" r="2.55" fill="#F3821F"/>
<circle cx="252.8" cy="325.4" r="2.55" fill="#E41A1C"/>
<circle cx="252.8" cy="327.8" r="2.55" fill="#E41A1C"/>
<circle cx="268.9" cy="310.9" r="2.55" fill="#4682BE"/>
<circle cx="268.6" cy="317.4" r="2.55" fill="#4682BE"/>
<circle cx="273.7" cy="318.2" r="2.55" fill="#4682BE"/>
<circle cx="281.4" cy="315.8" r="2.55" fill="#4682BE"/>
<circle cx="291.4" cy="315.8" r="2.55" fill="#4682BE"/>
<circle cx="300.2" cy="320.6" r="2.55" fill="#4682BE"/>
<circle cx="301.0" cy="319.8" r="2.55" fill="#4682BE"/>
<circle cx="270.5" cy="322.2" r="2.55" fill="#4682BE"/>
<circle cx="272.1" cy="323.0" r="2.55" fill="#4682BE"/>
<circle cx="274.5" cy="321.4" r="2.55" fill="#4682BE"/>
<circle cx="293.0" cy="321.4" r="2.55" fill="#4682BE"/>
<circle cx="259.2" cy="325.4" r="2.55" fill="#4682BE"/>
<circle cx="279.3" cy="324.6" r="2.55" fill="#4682BE"/>
<circle cx="281.7" cy="326.2" r="2.55" fill="#4682BE"/>
<circle cx="288.1" cy="324.6" r="2.55" fill="#4682BE"/>
<circle cx="294.6" cy="325.4" r="2.55" fill="#4682BE"/>
<circle cx="297.8" cy="327.0" r="2.55" fill="#4682BE"/>
<circle cx="301.0" cy="337.4" r="2.55" fill="#4682BE"/>
<circle cx="315.4" cy="291.7" r="2.55" fill="#5BBC4E"/>
<circle cx="310.3" cy="297.0" r="2.55" fill="#5BBC4E"/>
<circle cx="303.4" cy="302.9" r="2.55" fill="#5BBC4E"/>
<circle cx="317.1" cy="307.7" r="2.55" fill="#5BBC4E"/>
<circle cx="309.8" cy="311.4" r="2.55" fill="#5BBC4E"/>
<circle cx="304.2" cy="312.6" r="2.55" fill="#5BBC4E"/>
<circle cx="305.0" cy="316.6" r="2.55" fill="#5BBC4E"/>
<circle cx="309.0" cy="318.2" r="2.55" fill="#5BBC4E"/>
<circle cx="313.8" cy="319.8" r="2.55" fill="#5BBC4E"/>
<circle cx="316.2" cy="322.2" r="2.55" fill="#5BBC4E"/>
<circle cx="311.4" cy="323.8" r="2.55" fill="#5BBC4E"/>
<circle cx="307.4" cy="324.6" r="2.55" fill="#5BBC4E"/>
<circle cx="318.7" cy="326.2" r="2.55" fill="#5BBC4E"/>
<circle cx="304.2" cy="327.8" r="2.55" fill="#5BBC4E"/>
<circle cx="312.2" cy="329.4" r="2.55" fill="#5BBC4E"/>
<circle cx="308.2" cy="331.8" r="2.55" fill="#5BBC4E"/>
<circle cx="315.4" cy="332.6" r="2.55" fill="#5BBC4E"/>
<circle cx="303.4" cy="335.8" r="2.55" fill="#5BBC4E"/>
<circle cx="312.2" cy="336.6" r="2.55" fill="#5BBC4E"/>
<circle cx="325.1" cy="303.7" r="2.55" fill="#9650B2"/>
<circle cx="330.7" cy="306.6" r="2.55" fill="#9650B2"/>
<circle cx="319.5" cy="305.3" r="2.55" fill="#9650B2"/>
<circle cx="321.9" cy="309.3" r="2.55" fill="#9650B2"/>
<circle cx="326.7" cy="311.8" r="2.55" fill="#9650B2"/>
<circle cx="334.7" cy="313.4" r="2.55" fill="#9650B2"/>
<circle cx="339.5" cy="314.2" r="2.55" fill="#9650B2"/>
<circle cx="320.3" cy="315.8" r="2.55" fill="#9650B2"/>
<circle cx="328.3" cy="316.6" r="2.55" fill="#9650B2"/>
<circle cx="331.5" cy="318.2" r="2.55" fill="#9650B2"/>
<circle cx="337.1" cy="319.0" r="2.55" fill="#9650B2"/>
<circle cx="323.5" cy="321.4" r="2.55" fill="#9650B2"/>
<circle cx="327.5" cy="323.8" r="2.55" fill="#9650B2"/>
<circle cx="334.7" cy="323.8" r="2.55" fill="#9650B2"/>
<circle cx="337.9" cy="322.2" r="2.55" fill="#9650B2"/>
<circle cx="321.1" cy="326.2" r="2.55" fill="#9650B2"/>
<circle cx="325.1" cy="327.8" r="2.55" fill="#9650B2"/>
<circle cx="331.5" cy="326.2" r="2.55" fill="#9650B2"/>
<circle cx="336.3" cy="328.6" r="2.55" fill="#9650B2"/>
<circle cx="318.7" cy="331.0" r="2.55" fill="#9650B2"/>
<circle cx="325.1" cy="333.4" r="2.55" fill="#9650B2"/>
<circle cx="329.9" cy="334.2" r="2.55" fill="#9650B2"/>
<circle cx="335.5" cy="333.4" r="2.55" fill="#9650B2"/>
<circle cx="318.7" cy="335.0" r="2.55" fill="#9650B2"/>
<circle cx="348.8" cy="298.9" r="2.55" fill="#F3821F"/>
<circle cx="345.2" cy="302.9" r="2.55" fill="#F3821F"/>
<circle cx="342.7" cy="318.2" r="2.55" fill="#F3821F"/>
<circle cx="346.0" cy="321.1" r="2.55" fill="#F3821F"/>
<circle cx="349.2" cy="322.2" r="2.55" fill="#F3821F"/>
<circle cx="354.8" cy="317.4" r="2.55" fill="#F3821F"/>
<circle cx="357.2" cy="316.6" r="2.55" fill="#F3821F"/>
<circle cx="352.4" cy="324.6" r="2.55" fill="#F3821F"/>
<circle cx="353.3" cy="336.1" r="2.55" fill="#F3821F"/>
<circle cx="354.7" cy="336.3" r="2.55" fill="#F3821F"/>
<circle cx="357.2" cy="337.3" r="2.55" fill="#F3821F"/>
<circle cx="359.6" cy="336.2" r="2.55" fill="#F3821F"/>
<circle cx="362.3" cy="337.2" r="2.55" fill="#F3821F"/>
<circle cx="364.3" cy="336.5" r="2.55" fill="#F3821F"/>
<circle cx="366.4" cy="337.0" r="2.55" fill="#F3821F"/>
<circle cx="368.3" cy="337.4" r="2.55" fill="#F3821F"/>
<circle cx="370.4" cy="336.8" r="2.55" fill="#F3821F"/>
<circle cx="372.5" cy="336.8" r="2.55" fill="#F3821F"/>
<circle cx="375.5" cy="336.7" r="2.55" fill="#F3821F"/>
<circle cx="379.5" cy="336.4" r="2.55" fill="#F3821F"/>
<circle cx="381.1" cy="337.3" r="2.55" fill="#F3821F"/>
<circle cx="384.1" cy="337.4" r="2.55" fill="#F3821F"/>
<circle cx="366.3" cy="328.0" r="2.55" fill="#F3821F"/>
<circle cx="371.4" cy="331.7" r="2.55" fill="#F3821F"/>
<circle cx="373.6" cy="331.5" r="2.55" fill="#F3821F"/>
<circle cx="363.4" cy="330.9" r="2.55" fill="#F3821F"/>
<circle cx="361.1" cy="329.1" r="2.55" fill="#F3821F"/>
<circle cx="376.9" cy="329.5" r="2.55" fill="#F3821F"/>
<circle cx="362.7" cy="328.6" r="2.55" fill="#F3821F"/>
<circle cx="383.6" cy="328.6" r="2.55" fill="#F3821F"/>
<circle cx="361.7" cy="332.8" r="2.55" fill="#F3821F"/>
<circle cx="382.5" cy="331.9" r="2.55" fill="#F3821F"/>
<circle cx="353.3" cy="336.4" r="2.55" fill="#F3821F"/>
<circle cx="373.5" cy="332.5" r="2.55" fill="#F3821F"/>
<circle cx="364.4" cy="328.6" r="2.55" fill="#F3821F"/>
<circle cx="360.1" cy="325.6" r="2.55" fill="#F3821F"/>
<circle cx="355.8" cy="328.8" r="2.55" fill="#F3821F"/>
<circle cx="357.2" cy="337.3" r="2.55" fill="#F3821F"/>
<circle cx="368.7" cy="337.1" r="2.55" fill="#F3821F"/>
<circle cx="358.7" cy="331.5" r="2.55" fill="#F3821F"/>
<circle cx="364.4" cy="326.3" r="2.55" fill="#F3821F"/>
<circle cx="358.6" cy="336.3" r="2.55" fill="#F3821F"/>
<circle cx="381.9" cy="329.1" r="2.55" fill="#F3821F"/>
<circle cx="353.9" cy="336.1" r="2.55" fill="#F3821F"/>
<circle cx="360.6" cy="328.5" r="2.55" fill="#F3821F"/>
<circle cx="368.6" cy="325.7" r="2.55" fill="#F3821F"/>
<circle cx="363.8" cy="330.5" r="2.55" fill="#F3821F"/>
<circle cx="367.4" cy="328.2" r="2.55" fill="#F3821F"/>
<circle cx="381.3" cy="334.4" r="2.55" fill="#F3821F"/>
<circle cx="376.0" cy="336.7" r="2.55" fill="#F3821F"/>
<circle cx="373.2" cy="337.0" r="2.55" fill="#F3821F"/>
<circle cx="380.1" cy="333.4" r="2.55" fill="#F3821F"/>
<circle cx="370.7" cy="337.1" r="2.55" fill="#F3821F"/>
<circle cx="381.8" cy="333.4" r="2.55" fill="#F3821F"/>
<circle cx="372.6" cy="326.2" r="2.55" fill="#F3821F"/>
<circle cx="360.9" cy="335.5" r="2.55" fill="#F3821F"/>
<circle cx="366.6" cy="335.1" r="2.55" fill="#F3821F"/>
<circle cx="359.4" cy="335.4" r="2.55" fill="#F3821F"/>
<circle cx="373.1" cy="328.8" r="2.55" fill="#F3821F"/>
<circle cx="384.1" cy="334.7" r="2.55" fill="#F3821F"/>
<circle cx="370.8" cy="335.6" r="2.55" fill="#F3821F"/>
<circle cx="380.0" cy="336.2" r="2.55" fill="#F3821F"/>
<circle cx="361.4" cy="327.3" r="2.55" fill="#F3821F"/>
<circle cx="378.8" cy="328.9" r="2.55" fill="#F3821F"/>
<circle cx="384.1" cy="336.8" r="2.55" fill="#EEF33A"/>
<circle cx="386.1" cy="336.5" r="2.55" fill="#EEF33A"/>
<circle cx="388.7" cy="336.6" r="2.55" fill="#EEF33A"/>
<circle cx="390.6" cy="336.2" r="2.55" fill="#EEF33A"/>
<circle cx="393.4" cy="336.2" r="2.55" fill="#EEF33A"/>
<circle cx="395.8" cy="336.0" r="2.55" fill="#EEF33A"/>
<circle cx="396.9" cy="337.3" r="2.55" fill="#EEF33A"/>
<circle cx="399.7" cy="337.5" r="2.55" fill="#EEF33A"/>
<circle cx="396.7" cy="337.0" r="2.55" fill="#EEF33A"/>
<circle cx="387.2" cy="337.2" r="2.55" fill="#EEF33A"/>
<circle cx="385.8" cy="334.4" r="2.55" fill="#EEF33A"/>
<circle cx="399.8" cy="336.2" r="2.55" fill="#EEF33A"/>
<circle cx="399.2" cy="334.2" r="2.55" fill="#EEF33A"/>
<circle cx="384.9" cy="332.7" r="2.55" fill="#EEF33A"/>
<circle cx="397.7" cy="336.6" r="2.55" fill="#EEF33A"/>
<circle cx="385.0" cy="334.4" r="2.55" fill="#EEF33A"/>
<circle cx="402.5" cy="336.9" r="2.55" fill="#EF80C7"/>
<circle cx="404.4" cy="336.0" r="2.55" fill="#EF80C7"/>
<circle cx="407.6" cy="337.3" r="2.55" fill="#EF80C7"/>
<circle cx="408.9" cy="336.9" r="2.55" fill="#EF80C7"/>
<circle cx="411.8" cy="337.3" r="2.55" fill="#EF80C7"/>
<circle cx="413.8" cy="337.3" r="2.55" fill="#EF80C7"/>
<circle cx="416.0" cy="336.1" r="2.55" fill="#EF80C7"/>
<circle cx="417.8" cy="336.0" r="2.55" fill="#EF80C7"/>
<circle cx="420.7" cy="337.1" r="2.55" fill="#EF80C7"/>
<circle cx="422.3" cy="337.4" r="2.55" fill="#EF80C7"/>
<circle cx="413.4" cy="337.4" r="2.55" fill="#EF80C7"/>
<circle cx="414.4" cy="335.3" r="2.55" fill="#EF80C7"/>
<circle cx="403.0" cy="335.6" r="2.55" fill="#EF80C7"/>
<circle cx="416.4" cy="333.4" r="2.55" fill="#EF80C7"/>
<circle cx="414.2" cy="334.4" r="2.55" fill="#EF80C7"/>
<circle cx="423.3" cy="333.3" r="2.55" fill="#EF80C7"/>
<circle cx="417.8" cy="332.0" r="2.55" fill="#EF80C7"/>
<circle cx="409.4" cy="335.3" r="2.55" fill="#EF80C7"/>
<circle cx="423.1" cy="335.2" r="2.55" fill="#EF80C7"/>
<circle cx="410.8" cy="335.4" r="2.55" fill="#EF80C7"/>
<circle cx="405.8" cy="335.3" r="2.55" fill="#EF80C7"/>
<circle cx="402.9" cy="331.0" r="2.55" fill="#EF80C7"/>
<circle cx="422.1" cy="333.9" r="2.55" fill="#EF80C7"/>
<circle cx="415.5" cy="336.2" r="2.55" fill="#EF80C7"/>
<circle cx="407.8" cy="335.5" r="2.55" fill="#EF80C7"/>
<circle cx="424.0" cy="336.2" r="2.55" fill="#9A9A9A"/>
<circle cx="427.2" cy="337.4" r="2.55" fill="#9A9A9A"/>
<circle cx="428.6" cy="336.5" r="2.55" fill="#9A9A9A"/>
<circle cx="430.8" cy="336.0" r="2.55" fill="#9A9A9A"/>
<circle cx="433.6" cy="336.2" r="2.55" fill="#9A9A9A"/>
<circle cx="435.6" cy="336.0" r="2.55" fill="#9A9A9A"/>
<circle cx="437.8" cy="336.4" r="2.55" fill="#9A9A9A"/>
<circle cx="440.1" cy="336.9" r="2.55" fill="#9A9A9A"/>
<circle cx="442.2" cy="336.5" r="2.55" fill="#9A9A9A"/>
<circle cx="444.4" cy="336.7" r="2.55" fill="#9A9A9A"/>
<circle cx="446.6" cy="337.1" r="2.55" fill="#9A9A9A"/>
<circle cx="448.6" cy="336.4" r="2.55" fill="#9A9A9A"/>
<circle cx="450.8" cy="337.2" r="2.55" fill="#9A9A9A"/>
<circle cx="453.6" cy="336.7" r="2.55" fill="#9A9A9A"/>
<circle cx="455.3" cy="336.3" r="2.55" fill="#9A9A9A"/>
<circle cx="457.1" cy="336.3" r="2.55" fill="#9A9A9A"/>
<circle cx="459.8" cy="336.3" r="2.55" fill="#9A9A9A"/>
<circle cx="462.3" cy="337.4" r="2.55" fill="#9A9A9A"/>
<circle cx="456.5" cy="334.2" r="2.55" fill="#9A9A9A"/>
<circle cx="429.2" cy="329.3" r="2.55" fill="#9A9A9A"/>
<circle cx="434.2" cy="336.4" r="2.55" fill="#9A9A9A"/>
<circle cx="438.2" cy="336.8" r="2.55" fill="#9A9A9A"/>
<circle cx="444.6" cy="329.4" r="2.55" fill="#9A9A9A"/>
<circle cx="427.9" cy="333.4" r="2.55" fill="#9A9A9A"/>
<circle cx="462.9" cy="334.1" r="2.55" fill="#9A9A9A"/>
<circle cx="441.8" cy="330.7" r="2.55" fill="#9A9A9A"/>
<circle cx="455.2" cy="333.2" r="2.55" fill="#9A9A9A"/>
<circle cx="430.2" cy="330.0" r="2.55" fill="#9A9A9A"/>
<circle cx="438.6" cy="330.9" r="2.55" fill="#9A9A9A"/>
<circle cx="433.6" cy="332.7" r="2.55" fill="#9A9A9A"/>
<circle cx="437.6" cy="334.3" r="2.55" fill="#9A9A9A"/>
<circle cx="425.1" cy="334.2" r="2.55" fill="#9A9A9A"/>
<circle cx="446.4" cy="336.0" r="2.55" fill="#9A9A9A"/>
<circle cx="431.3" cy="337.2" r="2.55" fill="#9A9A9A"/>
<circle cx="435.0" cy="330.4" r="2.55" fill="#9A9A9A"/>
<circle cx="433.8" cy="334.8" r="2.55" fill="#9A9A9A"/>
<circle cx="428.0" cy="329.1" r="2.55" fill="#9A9A9A"/>
<circle cx="457.6" cy="331.4" r="2.55" fill="#9A9A9A"/>
<circle cx="440.8" cy="336.0" r="2.55" fill="#9A9A9A"/>
<circle cx="448.3" cy="329.6" r="2.55" fill="#9A9A9A"/>
<circle cx="426.2" cy="334.3" r="2.55" fill="#9A9A9A"/>
<circle cx="438.6" cy="333.6" r="2.55" fill="#9A9A9A"/>
<circle cx="435.8" cy="330.5" r="2.55" fill="#9A9A9A"/>
<circle cx="449.4" cy="333.9" r="2.55" fill="#9A9A9A"/>
<circle cx="438.0" cy="329.3" r="2.55" fill="#9A9A9A"/>
<circle cx="446.8" cy="334.2" r="2.55" fill="#9A9A9A"/>
<circle cx="431.8" cy="327.9" r="2.55" fill="#9A9A9A"/>
<circle cx="451.9" cy="327.4" r="2.55" fill="#9A9A9A"/>
<circle cx="450.1" cy="334.3" r="2.55" fill="#9A9A9A"/>
<circle cx="427.2" cy="334.7" r="2.55" fill="#9A9A9A"/>
<circle cx="439.1" cy="330.0" r="2.55" fill="#9A9A9A"/>
<circle cx="443.6" cy="332.6" r="2.55" fill="#9A9A9A"/>
<circle cx="453.6" cy="328.2" r="2.55" fill="#9A9A9A"/>
<circle cx="447.3" cy="337.4" r="2.55" fill="#9A9A9A"/>
<circle cx="442.3" cy="333.3" r="2.55" fill="#9A9A9A"/>
<circle cx="440.4" cy="329.0" r="2.55" fill="#9A9A9A"/>
<circle cx="458.8" cy="333.2" r="2.55" fill="#9A9A9A"/>
<circle cx="443.4" cy="333.6" r="2.55" fill="#9A9A9A"/>
<circle cx="456.2" cy="332.8" r="2.55" fill="#9A9A9A"/>
<circle cx="453.0" cy="331.0" r="2.55" fill="#9A9A9A"/>
<circle cx="426.0" cy="334.0" r="2.55" fill="#9A9A9A"/>
<circle cx="445.8" cy="330.9" r="2.55" fill="#9A9A9A"/>
<circle cx="368.3" cy="302.9" r="2.55" fill="#F3821F"/>
<circle cx="370.7" cy="306.1" r="2.55" fill="#F3821F"/>
<circle cx="373.9" cy="310.9" r="2.55" fill="#F3821F"/>
<circle cx="377.9" cy="311.4" r="2.55" fill="#F3821F"/>
<circle cx="381.1" cy="315.0" r="2.55" fill="#F3821F"/>
<circle cx="356.2" cy="317.4" r="2.55" fill="#F3821F"/>
<circle cx="367.5" cy="317.4" r="2.55" fill="#F3821F"/>
<circle cx="372.3" cy="318.2" r="2.55" fill="#F3821F"/>
<circle cx="377.1" cy="319.0" r="2.55" fill="#F3821F"/>
<circle cx="382.7" cy="321.4" r="2.55" fill="#F3821F"/>
<circle cx="361.0" cy="322.2" r="2.55" fill="#F3821F"/>
<circle cx="365.8" cy="323.0" r="2.55" fill="#F3821F"/>
<circle cx="375.5" cy="326.2" r="2.55" fill="#F3821F"/>
<circle cx="380.3" cy="329.4" r="2.55" fill="#F3821F"/>
<circle cx="392.8" cy="311.4" r="2.55" fill="#EEF33A"/>
<circle cx="399.6" cy="311.4" r="2.55" fill="#EEF33A"/>
<circle cx="385.6" cy="315.8" r="2.55" fill="#EEF33A"/>
<circle cx="389.6" cy="318.2" r="2.55" fill="#EEF33A"/>
<circle cx="394.8" cy="320.6" r="2.55" fill="#EEF33A"/>
<circle cx="398.8" cy="320.6" r="2.55" fill="#EEF33A"/>
<circle cx="395.6" cy="325.4" r="2.55" fill="#EEF33A"/>
<circle cx="390.7" cy="327.8" r="2.55" fill="#EEF33A"/>
<circle cx="386.7" cy="331.8" r="2.55" fill="#EEF33A"/>
<circle cx="402.0" cy="318.2" r="2.55" fill="#A65628"/>
<circle cx="404.4" cy="322.2" r="2.55" fill="#A65628"/>
<circle cx="401.2" cy="331.8" r="2.55" fill="#A65628"/>
<circle cx="402.8" cy="330.2" r="2.55" fill="#A65628"/>
<circle cx="420.1" cy="300.2" r="2.55" fill="#EF80C7"/>
<circle cx="414.5" cy="306.6" r="2.55" fill="#EF80C7"/>
<circle cx="419.6" cy="310.1" r="2.55" fill="#EF80C7"/>
<circle cx="407.6" cy="311.4" r="2.55" fill="#EF80C7"/>
<circle cx="412.4" cy="313.7" r="2.55" fill="#EF80C7"/>
<circle cx="406.0" cy="315.8" r="2.55" fill="#EF80C7"/>
<circle cx="413.2" cy="317.4" r="2.55" fill="#EF80C7"/>
<circle cx="423.7" cy="318.2" r="2.55" fill="#EF80C7"/>
<circle cx="405.2" cy="320.6" r="2.55" fill="#EF80C7"/>
<circle cx="418.0" cy="322.2" r="2.55" fill="#EF80C7"/>
<circle cx="411.6" cy="323.8" r="2.55" fill="#EF80C7"/>
<circle cx="420.4" cy="324.6" r="2.55" fill="#EF80C7"/>
<circle cx="408.4" cy="327.8" r="2.55" fill="#EF80C7"/>
<circle cx="416.4" cy="327.0" r="2.55" fill="#EF80C7"/>
<circle cx="422.1" cy="328.6" r="2.55" fill="#EF80C7"/>
<circle cx="452.9" cy="298.9" r="2.55" fill="#9A9A9A"/>
<circle cx="436.5" cy="303.7" r="2.55" fill="#9A9A9A"/>
<circle cx="451.8" cy="307.7" r="2.55" fill="#9A9A9A"/>
<circle cx="429.3" cy="309.3" r="2.55" fill="#9A9A9A"/>
<circle cx="433.3" cy="309.3" r="2.55" fill="#9A9A9A"/>
<circle cx="438.1" cy="310.9" r="2.55" fill="#9A9A9A"/>
<circle cx="443.7" cy="312.6" r="2.55" fill="#9A9A9A"/>
<circle cx="448.5" cy="315.0" r="2.55" fill="#9A9A9A"/>
<circle cx="458.2" cy="310.1" r="2.55" fill="#9A9A9A"/>
<circle cx="459.8" cy="313.4" r="2.55" fill="#9A9A9A"/>
<circle cx="428.5" cy="317.4" r="2.55" fill="#9A9A9A"/>
<circle cx="433.3" cy="318.2" r="2.55" fill="#9A9A9A"/>
<circle cx="439.7" cy="319.8" r="2.55" fill="#9A9A9A"/>
<circle cx="446.1" cy="321.4" r="2.55" fill="#9A9A9A"/>
<circle cx="454.2" cy="321.4" r="2.55" fill="#9A9A9A"/>
<circle cx="459.0" cy="323.0" r="2.55" fill="#9A9A9A"/>
<circle cx="430.1" cy="326.2" r="2.55" fill="#9A9A9A"/>
<circle cx="438.1" cy="326.2" r="2.55" fill="#9A9A9A"/>
<circle cx="449.4" cy="325.4" r="2.55" fill="#9A9A9A"/>
<circle cx="455.8" cy="327.0" r="2.55" fill="#9A9A9A"/>
<circle cx="323.5" cy="306.9" r="2.55" fill="#9650B2"/>
<circle cx="328.3" cy="308.5" r="2.55" fill="#9650B2"/>
<circle cx="333.1" cy="310.1" r="2.55" fill="#9650B2"/>
<circle cx="337.1" cy="315.0" r="2.55" fill="#9650B2"/>
<circle cx="322.7" cy="313.4" r="2.55" fill="#9650B2"/>
<circle cx="325.9" cy="318.2" r="2.55" fill="#9650B2"/>
<circle cx="329.9" cy="321.4" r="2.55" fill="#9650B2"/>
<circle cx="334.7" cy="319.8" r="2.55" fill="#9650B2"/>
<circle cx="340.3" cy="318.2" r="2.55" fill="#9650B2"/>
<circle cx="321.1" cy="321.4" r="2.55" fill="#9650B2"/>
<circle cx="332.3" cy="329.4" r="2.55" fill="#9650B2"/>
<circle cx="337.9" cy="331.0" r="2.55" fill="#9650B2"/>
<circle cx="326.7" cy="331.0" r="2.55" fill="#9650B2"/>
<circle cx="344.4" cy="323.0" r="2.55" fill="#F3821F"/>
<circle cx="350.8" cy="319.8" r="2.55" fill="#F3821F"/>
<circle cx="354.0" cy="323.0" r="2.55" fill="#F3821F"/>
<circle cx="347.6" cy="326.2" r="2.55" fill="#F3821F"/>
<circle cx="342.7" cy="329.4" r="2.55" fill="#F3821F"/>
<circle cx="352.4" cy="331.0" r="2.55" fill="#F3821F"/>
<circle cx="357.2" cy="327.8" r="2.55" fill="#F3821F"/>
</g>
<g clip-path="url(#fa2)">
<circle cx="529.0" cy="61.8" r="2.55" fill="#5BBC4E"/>
<circle cx="521.3" cy="76.2" r="2.55" fill="#5BBC4E"/>
<circle cx="532.5" cy="77.8" r="2.55" fill="#5BBC4E"/>
<circle cx="537.0" cy="80.9" r="2.55" fill="#5BBC4E"/>
<circle cx="529.9" cy="85.1" r="2.55" fill="#5BBC4E"/>
<circle cx="521.9" cy="87.7" r="2.55" fill="#5BBC4E"/>
<circle cx="522.9" cy="90.5" r="2.55" fill="#5BBC4E"/>
<circle cx="524.2" cy="94.7" r="2.55" fill="#5BBC4E"/>
<circle cx="529.9" cy="104.3" r="2.55" fill="#5BBC4E"/>
<circle cx="613.1" cy="100.1" r="2.55" fill="#EEF33A"/>
<circle cx="638.6" cy="103.3" r="2.55" fill="#EF80C7"/>
<circle cx="642.5" cy="102.4" r="2.55" fill="#EF80C7"/>
<circle cx="670.6" cy="83.5" r="2.55" fill="#9A9A9A"/>
<circle cx="667.4" cy="102.7" r="2.55" fill="#9A9A9A"/>
<circle cx="470.5" cy="161.9" r="2.55" fill="#4682BE"/>
<circle cx="473.4" cy="162.9" r="2.55" fill="#4682BE"/>
<circle cx="474.9" cy="162.1" r="2.55" fill="#4682BE"/>
<circle cx="479.6" cy="162.5" r="2.55" fill="#4682BE"/>
<circle cx="481.4" cy="162.5" r="2.55" fill="#4682BE"/>
<circle cx="484.4" cy="162.8" r="2.55" fill="#4682BE"/>
<circle cx="488.1" cy="162.2" r="2.55" fill="#4682BE"/>
<circle cx="490.1" cy="162.2" r="2.55" fill="#4682BE"/>
<circle cx="493.2" cy="162.2" r="2.55" fill="#4682BE"/>
<circle cx="495.2" cy="162.7" r="2.55" fill="#4682BE"/>
<circle cx="497.1" cy="161.9" r="2.55" fill="#4682BE"/>
<circle cx="499.9" cy="163.2" r="2.55" fill="#4682BE"/>
<circle cx="501.3" cy="161.8" r="2.55" fill="#4682BE"/>
<circle cx="503.7" cy="161.9" r="2.55" fill="#4682BE"/>
<circle cx="506.0" cy="162.4" r="2.55" fill="#4682BE"/>
<circle cx="508.5" cy="162.2" r="2.55" fill="#4682BE"/>
<circle cx="510.2" cy="163.0" r="2.55" fill="#4682BE"/>
<circle cx="512.8" cy="162.1" r="2.55" fill="#4682BE"/>
<circle cx="514.7" cy="162.0" r="2.55" fill="#4682BE"/>
<circle cx="516.6" cy="162.5" r="2.55" fill="#4682BE"/>
<circle cx="518.9" cy="162.9" r="2.55" fill="#4682BE"/>
<circle cx="521.7" cy="161.9" r="2.55" fill="#4682BE"/>
<circle cx="478.8" cy="162.7" r="2.55" fill="#4682BE"/>
<circle cx="487.6" cy="162.3" r="2.55" fill="#4682BE"/>
<circle cx="479.1" cy="161.0" r="2.55" fill="#4682BE"/>
<circle cx="480.5" cy="161.9" r="2.55" fill="#4682BE"/>
<circle cx="508.3" cy="158.6" r="2.55" fill="#4682BE"/>
<circle cx="520.3" cy="162.9" r="2.55" fill="#4682BE"/>
<circle cx="490.6" cy="162.9" r="2.55" fill="#4682BE"/>
<circle cx="511.7" cy="158.5" r="2.55" fill="#4682BE"/>
<circle cx="493.2" cy="159.9" r="2.55" fill="#4682BE"/>
<circle cx="503.6" cy="162.5" r="2.55" fill="#4682BE"/>
<circle cx="481.4" cy="162.9" r="2.55" fill="#4682BE"/>
<circle cx="472.6" cy="161.7" r="2.55" fill="#4682BE"/>
<circle cx="511.5" cy="161.6" r="2.55" fill="#4682BE"/>
<circle cx="496.5" cy="160.1" r="2.55" fill="#4682BE"/>
<circle cx="494.6" cy="160.4" r="2.55" fill="#4682BE"/>
<circle cx="501.8" cy="162.7" r="2.55" fill="#4682BE"/>
<circle cx="508.9" cy="161.6" r="2.55" fill="#4682BE"/>
<circle cx="492.9" cy="159.0" r="2.55" fill="#4682BE"/>
<circle cx="509.3" cy="160.8" r="2.55" fill="#4682BE"/>
<circle cx="482.6" cy="161.5" r="2.55" fill="#4682BE"/>
<circle cx="516.0" cy="160.0" r="2.55" fill="#4682BE"/>
<circle cx="506.8" cy="159.7" r="2.55" fill="#4682BE"/>
<circle cx="505.7" cy="159.3" r="2.55" fill="#4682BE"/>
<circle cx="494.1" cy="160.4" r="2.55" fill="#4682BE"/>
<circle cx="503.1" cy="162.0" r="2.55" fill="#4682BE"/>
<circle cx="492.4" cy="162.9" r="2.55" fill="#4682BE"/>
<circle cx="507.5" cy="159.6" r="2.55" fill="#4682BE"/>
<circle cx="535.6" cy="162.6" r="2.55" fill="#9650B2"/>
<circle cx="538.2" cy="162.6" r="2.55" fill="#9650B2"/>
<circle cx="540.8" cy="162.9" r="2.55" fill="#9650B2"/>
<circle cx="542.8" cy="162.6" r="2.55" fill="#9650B2"/>
<circle cx="545.2" cy="163.1" r="2.55" fill="#9650B2"/>
<circle cx="546.4" cy="162.0" r="2.55" fill="#9650B2"/>
<circle cx="550.8" cy="162.3" r="2.55" fill="#9650B2"/>
<circle cx="553.7" cy="162.4" r="2.55" fill="#9650B2"/>
<circle cx="556.0" cy="162.4" r="2.55" fill="#9650B2"/>
<circle cx="558.4" cy="162.9" r="2.55" fill="#9650B2"/>
<circle cx="545.0" cy="161.2" r="2.55" fill="#9650B2"/>
<circle cx="538.7" cy="160.9" r="2.55" fill="#9650B2"/>
<circle cx="544.1" cy="160.1" r="2.55" fill="#9650B2"/>
<circle cx="542.2" cy="163.1" r="2.55" fill="#9650B2"/>
<circle cx="536.2" cy="162.1" r="2.55" fill="#9650B2"/>
<circle cx="545.6" cy="162.1" r="2.55" fill="#9650B2"/>
<circle cx="544.1" cy="161.1" r="2.55" fill="#9650B2"/>
<circle cx="541.1" cy="162.6" r="2.55" fill="#9650B2"/>
<circle cx="558.1" cy="162.4" r="2.55" fill="#F3821F"/>
<circle cx="560.1" cy="162.6" r="2.55" fill="#F3821F"/>
<circle cx="561.5" cy="162.0" r="2.55" fill="#F3821F"/>
<circle cx="564.3" cy="162.5" r="2.55" fill="#F3821F"/>
<circle cx="566.0" cy="161.8" r="2.55" fill="#F3821F"/>
<circle cx="568.7" cy="162.0" r="2.55" fill="#F3821F"/>
<circle cx="570.7" cy="162.8" r="2.55" fill="#F3821F"/>
<circle cx="572.5" cy="161.9" r="2.55" fill="#F3821F"/>
<circle cx="575.6" cy="162.8" r="2.55" fill="#F3821F"/>
<circle cx="562.2" cy="160.5" r="2.55" fill="#F3821F"/>
<circle cx="561.0" cy="160.0" r="2.55" fill="#F3821F"/>
<circle cx="570.9" cy="163.2" r="2.55" fill="#F3821F"/>
<circle cx="562.1" cy="161.3" r="2.55" fill="#F3821F"/>
<circle cx="566.4" cy="161.1" r="2.55" fill="#F3821F"/>
<circle cx="569.3" cy="160.0" r="2.55" fill="#F3821F"/>
<circle cx="564.2" cy="157.9" r="2.55" fill="#F3821F"/>
<circle cx="573.3" cy="155.2" r="2.55" fill="#F3821F"/>
<circle cx="572.8" cy="162.9" r="2.55" fill="#F3821F"/>
<circle cx="572.0" cy="155.4" r="2.55" fill="#F3821F"/>
<circle cx="572.9" cy="162.4" r="2.55" fill="#F3821F"/>
<circle cx="557.8" cy="158.1" r="2.55" fill="#F3821F"/>
<circle cx="575.1" cy="163.2" r="2.55" fill="#F3821F"/>
<circle cx="562.2" cy="157.9" r="2.55" fill="#F3821F"/>
<circle cx="560.2" cy="162.6" r="2.55" fill="#F3821F"/>
<circle cx="571.9" cy="161.7" r="2.55" fill="#F3821F"/>
<circle cx="560.4" cy="160.7" r="2.55" fill="#F3821F"/>
<circle cx="572.2" cy="155.4" r="2.55" fill="#F3821F"/>
<circle cx="472.1" cy="114.6" r="2.55" fill="#E41A1C"/>
<circle cx="471.6" cy="131.6" r="2.55" fill="#E41A1C"/>
<circle cx="471.6" cy="142.4" r="2.55" fill="#E41A1C"/>
<circle cx="471.1" cy="145.6" r="2.55" fill="#E41A1C"/>
<circle cx="470.8" cy="160.0" r="2.55" fill="#E41A1C"/>
<circle cx="486.1" cy="138.7" r="2.55" fill="#4682BE"/>
<circle cx="508.6" cy="141.2" r="2.55" fill="#4682BE"/>
<circle cx="485.3" cy="146.4" r="2.55" fill="#4682BE"/>
<circle cx="512.2" cy="149.9" r="2.55" fill="#4682BE"/>
<circle cx="517.4" cy="152.0" r="2.55" fill="#4682BE"/>
<circle cx="519.8" cy="153.6" r="2.55" fill="#4682BE"/>
<circle cx="497.3" cy="151.2" r="2.55" fill="#4682BE"/>
<circle cx="494.9" cy="152.8" r="2.55" fill="#4682BE"/>
<circle cx="491.7" cy="154.4" r="2.55" fill="#4682BE"/>
<circle cx="472.4" cy="154.7" r="2.55" fill="#4682BE"/>
<circle cx="482.1" cy="154.4" r="2.55" fill="#4682BE"/>
<circle cx="477.2" cy="156.0" r="2.55" fill="#4682BE"/>
<circle cx="504.5" cy="156.0" r="2.55" fill="#4682BE"/>
<circle cx="524.6" cy="95.8" r="2.55" fill="#5BBC4E"/>
<circle cx="530.2" cy="106.2" r="2.55" fill="#5BBC4E"/>
<circle cx="536.7" cy="113.9" r="2.55" fill="#5BBC4E"/>
<circle cx="533.1" cy="117.2" r="2.55" fill="#5BBC4E"/>
<circle cx="528.6" cy="119.9" r="2.55" fill="#5BBC4E"/>
<circle cx="529.4" cy="122.0" r="2.55" fill="#5BBC4E"/>
<circle cx="523.0" cy="122.6" r="2.55" fill="#5BBC4E"/>
<circle cx="523.8" cy="127.9" r="2.55" fill="#5BBC4E"/>
<circle cx="521.9" cy="136.8" r="2.55" fill="#5BBC4E"/>
<circle cx="535.4" cy="135.1" r="2.55" fill="#5BBC4E"/>
<circle cx="531.0" cy="138.4" r="2.55" fill="#5BBC4E"/>
<circle cx="534.2" cy="140.8" r="2.55" fill="#5BBC4E"/>
<circle cx="531.8" cy="143.2" r="2.55" fill="#5BBC4E"/>
<circle cx="535.1" cy="145.6" r="2.55" fill="#5BBC4E"/>
<circle cx="525.7" cy="146.7" r="2.55" fill="#5BBC4E"/>
<circle cx="531.0" cy="148.8" r="2.55" fill="#5BBC4E"/>
<circle cx="527.8" cy="152.0" r="2.55" fill="#5BBC4E"/>
<circle cx="531.8" cy="152.0" r="2.55" fill="#5BBC4E"/>
<circle cx="526.2" cy="156.0" r="2.55" fill="#5BBC4E"/>
<circle cx="527.8" cy="157.6" r="2.55" fill="#5BBC4E"/>
<circle cx="526.7" cy="162.4" r="2.55" fill="#5BBC4E"/>
<circle cx="556.7" cy="131.5" r="2.55" fill="#9650B2"/>
<circle cx="552.4" cy="138.7" r="2.55" fill="#9650B2"/>
<circle cx="546.8" cy="146.1" r="2.55" fill="#9650B2"/>
<circle cx="554.0" cy="150.9" r="2.55" fill="#9650B2"/>
<circle cx="546.3" cy="152.0" r="2.55" fill="#9650B2"/>
<circle cx="547.1" cy="155.2" r="2.55" fill="#9650B2"/>
<circle cx="551.1" cy="157.6" r="2.55" fill="#9650B2"/>
<circle cx="570.1" cy="119.4" r="2.55" fill="#F3821F"/>
<circle cx="575.2" cy="130.0" r="2.55" fill="#F3821F"/>
<circle cx="574.4" cy="135.1" r="2.55" fill="#F3821F"/>
<circle cx="573.3" cy="140.8" r="2.55" fill="#F3821F"/>
<circle cx="562.4" cy="150.4" r="2.55" fill="#F3821F"/>
<circle cx="566.4" cy="150.4" r="2.55" fill="#F3821F"/>
<circle cx="572.0" cy="151.2" r="2.55" fill="#F3821F"/>
<circle cx="571.5" cy="162.3" r="2.55" fill="#F3821F"/>
<circle cx="573.4" cy="161.9" r="2.55" fill="#F3821F"/>
<circle cx="575.8" cy="162.9" r="2.55" fill="#F3821F"/>
<circle cx="577.6" cy="162.1" r="2.55" fill="#F3821F"/>
<circle cx="580.3" cy="162.4" r="2.55" fill="#F3821F"/>
<circle cx="581.7" cy="163.0" r="2.55" fill="#F3821F"/>
<circle cx="583.7" cy="162.5" r="2.55" fill="#F3821F"/>
<circle cx="586.4" cy="162.5" r="2.55" fill="#F3821F"/>
<circle cx="589.0" cy="163.2" r="2.55" fill="#F3821F"/>
<circle cx="590.8" cy="162.4" r="2.55" fill="#F3821F"/>
<circle cx="593.4" cy="162.6" r="2.55" fill="#F3821F"/>
<circle cx="595.8" cy="163.1" r="2.55" fill="#F3821F"/>
<circle cx="597.6" cy="163.2" r="2.55" fill="#F3821F"/>
<circle cx="599.8" cy="161.8" r="2.55" fill="#F3821F"/>
<circle cx="602.4" cy="162.4" r="2.55" fill="#F3821F"/>
<circle cx="600.1" cy="158.0" r="2.55" fill="#F3821F"/>
<circle cx="594.3" cy="163.0" r="2.55" fill="#F3821F"/>
<circle cx="582.0" cy="156.1" r="2.55" fill="#F3821F"/>
<circle cx="582.9" cy="152.8" r="2.55" fill="#F3821F"/>
<circle cx="588.1" cy="158.1" r="2.55" fill="#F3821F"/>
<circle cx="577.8" cy="154.1" r="2.55" fill="#F3821F"/>
<circle cx="584.7" cy="158.6" r="2.55" fill="#F3821F"/>
<circle cx="597.8" cy="157.1" r="2.55" fill="#F3821F"/>
<circle cx="597.9" cy="160.3" r="2.55" fill="#F3821F"/>
<circle cx="587.3" cy="159.0" r="2.55" fill="#F3821F"/>
<circle cx="587.4" cy="160.6" r="2.55" fill="#F3821F"/>
<circle cx="592.2" cy="151.1" r="2.55" fill="#F3821F"/>
<circle cx="581.7" cy="153.8" r="2.55" fill="#F3821F"/>
<circle cx="580.7" cy="160.1" r="2.55" fill="#F3821F"/>
<circle cx="591.6" cy="156.6" r="2.55" fill="#F3821F"/>
<circle cx="572.3" cy="153.9" r="2.55" fill="#F3821F"/>
<circle cx="599.7" cy="154.8" r="2.55" fill="#F3821F"/>
<circle cx="572.6" cy="157.2" r="2.55" fill="#F3821F"/>
<circle cx="571.2" cy="160.3" r="2.55" fill="#F3821F"/>
<circle cx="600.9" cy="161.5" r="2.55" fill="#F3821F"/>
<circle cx="592.4" cy="156.3" r="2.55" fill="#F3821F"/>
<circle cx="600.5" cy="153.8" r="2.55" fill="#F3821F"/>
<circle cx="591.0" cy="156.3" r="2.55" fill="#F3821F"/>
<circle cx="593.6" cy="156.1" r="2.55" fill="#F3821F"/>
<circle cx="593.1" cy="156.5" r="2.55" fill="#F3821F"/>
<circle cx="592.6" cy="161.3" r="2.55" fill="#F3821F"/>
<circle cx="595.8" cy="158.3" r="2.55" fill="#F3821F"/>
<circle cx="576.9" cy="162.4" r="2.55" fill="#F3821F"/>
<circle cx="596.1" cy="163.0" r="2.55" fill="#F3821F"/>
<circle cx="592.3" cy="152.0" r="2.55" fill="#F3821F"/>
<circle cx="597.7" cy="159.4" r="2.55" fill="#F3821F"/>
<circle cx="589.2" cy="153.9" r="2.55" fill="#F3821F"/>
<circle cx="580.8" cy="160.8" r="2.55" fill="#F3821F"/>
<circle cx="581.3" cy="158.8" r="2.55" fill="#F3821F"/>
<circle cx="591.8" cy="158.7" r="2.55" fill="#F3821F"/>
<circle cx="572.8" cy="151.7" r="2.55" fill="#F3821F"/>
<circle cx="572.3" cy="156.9" r="2.55" fill="#F3821F"/>
<circle cx="597.3" cy="162.2" r="2.55" fill="#F3821F"/>
<circle cx="600.8" cy="156.8" r="2.55" fill="#F3821F"/>
<circle cx="571.5" cy="158.5" r="2.55" fill="#F3821F"/>
<circle cx="590.2" cy="159.2" r="2.55" fill="#F3821F"/>
<circle cx="602.8" cy="151.7" r="2.55" fill="#F3821F"/>
<circle cx="584.4" cy="158.1" r="2.55" fill="#F3821F"/>
<circle cx="591.9" cy="162.4" r="2.55" fill="#F3821F"/>
<circle cx="603.0" cy="163.2" r="2.55" fill="#EEF33A"/>
<circle cx="605.9" cy="163.0" r="2.55" fill="#EEF33A"/>
<circle cx="610.5" cy="163.0" r="2.55" fill="#EEF33A"/>
<circle cx="612.5" cy="162.8" r="2.55" fill="#EEF33A"/>
<circle cx="614.1" cy="163.1" r="2.55" fill="#EEF33A"/>
<circle cx="616.9" cy="161.9" r="2.55" fill="#EEF33A"/>
<circle cx="604.6" cy="159.2" r="2.55" fill="#EEF33A"/>
<circle cx="613.5" cy="159.9" r="2.55" fill="#EEF33A"/>
<circle cx="616.6" cy="160.9" r="2.55" fill="#EEF33A"/>
<circle cx="617.1" cy="162.1" r="2.55" fill="#EEF33A"/>
<circle cx="603.6" cy="159.3" r="2.55" fill="#EEF33A"/>
<circle cx="612.7" cy="163.2" r="2.55" fill="#EEF33A"/>
<circle cx="604.6" cy="158.7" r="2.55" fill="#EEF33A"/>
<circle cx="613.8" cy="161.8" r="2.55" fill="#EEF33A"/>
<circle cx="615.6" cy="162.5" r="2.55" fill="#EEF33A"/>
<circle cx="622.1" cy="162.6" r="2.55" fill="#EF80C7"/>
<circle cx="624.7" cy="162.2" r="2.55" fill="#EF80C7"/>
<circle cx="627.3" cy="162.7" r="2.55" fill="#EF80C7"/>
<circle cx="629.3" cy="162.6" r="2.55" fill="#EF80C7"/>
<circle cx="629.1" cy="162.4" r="2.55" fill="#EF80C7"/>
<circle cx="629.1" cy="160.9" r="2.55" fill="#EF80C7"/>
<circle cx="642.3" cy="163.1" r="2.55" fill="#9A9A9A"/>
<circle cx="647.4" cy="162.7" r="2.55" fill="#9A9A9A"/>
<circle cx="649.7" cy="162.0" r="2.55" fill="#9A9A9A"/>
<circle cx="651.1" cy="162.6" r="2.55" fill="#9A9A9A"/>
<circle cx="653.4" cy="162.2" r="2.55" fill="#9A9A9A"/>
<circle cx="656.2" cy="162.0" r="2.55" fill="#9A9A9A"/>
<circle cx="657.4" cy="162.8" r="2.55" fill="#9A9A9A"/>
<circle cx="660.3" cy="162.0" r="2.55" fill="#9A9A9A"/>
<circle cx="661.8" cy="162.0" r="2.55" fill="#9A9A9A"/>
<circle cx="665.0" cy="162.3" r="2.55" fill="#9A9A9A"/>
<circle cx="667.2" cy="162.0" r="2.55" fill="#9A9A9A"/>
<circle cx="669.5" cy="162.7" r="2.55" fill="#9A9A9A"/>
<circle cx="671.2" cy="162.0" r="2.55" fill="#9A9A9A"/>
<circle cx="673.7" cy="161.8" r="2.55" fill="#9A9A9A"/>
<circle cx="675.7" cy="162.2" r="2.55" fill="#9A9A9A"/>
<circle cx="677.4" cy="162.8" r="2.55" fill="#9A9A9A"/>
<circle cx="680.3" cy="162.5" r="2.55" fill="#9A9A9A"/>
<circle cx="674.1" cy="162.7" r="2.55" fill="#9A9A9A"/>
<circle cx="651.7" cy="155.9" r="2.55" fill="#9A9A9A"/>
<circle cx="677.6" cy="158.0" r="2.55" fill="#9A9A9A"/>
<circle cx="663.0" cy="154.6" r="2.55" fill="#9A9A9A"/>
<circle cx="665.6" cy="159.1" r="2.55" fill="#9A9A9A"/>
<circle cx="650.1" cy="161.9" r="2.55" fill="#9A9A9A"/>
<circle cx="670.0" cy="161.9" r="2.55" fill="#9A9A9A"/>
<circle cx="664.6" cy="160.3" r="2.55" fill="#9A9A9A"/>
<circle cx="662.8" cy="159.9" r="2.55" fill="#9A9A9A"/>
<circle cx="644.3" cy="162.2" r="2.55" fill="#9A9A9A"/>
<circle cx="657.2" cy="153.3" r="2.55" fill="#9A9A9A"/>
<circle cx="667.3" cy="162.5" r="2.55" fill="#9A9A9A"/>
<circle cx="648.7" cy="155.7" r="2.55" fill="#9A9A9A"/>
<circle cx="656.1" cy="157.8" r="2.55" fill="#9A9A9A"/>
<circle cx="643.4" cy="158.7" r="2.55" fill="#9A9A9A"/>
<circle cx="681.3" cy="163.0" r="2.55" fill="#9A9A9A"/>
<circle cx="661.6" cy="154.8" r="2.55" fill="#9A9A9A"/>
<circle cx="652.8" cy="158.2" r="2.55" fill="#9A9A9A"/>
<circle cx="659.2" cy="155.8" r="2.55" fill="#9A9A9A"/>
<circle cx="672.6" cy="153.9" r="2.55" fill="#9A9A9A"/>
<circle cx="680.2" cy="155.4" r="2.55" fill="#9A9A9A"/>
<circle cx="644.0" cy="161.3" r="2.55" fill="#9A9A9A"/>
<circle cx="649.6" cy="161.7" r="2.55" fill="#9A9A9A"/>
<circle cx="644.6" cy="162.7" r="2.55" fill="#9A9A9A"/>
<circle cx="676.6" cy="158.3" r="2.55" fill="#9A9A9A"/>
<circle cx="679.6" cy="159.3" r="2.55" fill="#9A9A9A"/>
<circle cx="645.1" cy="154.3" r="2.55" fill="#9A9A9A"/>
<circle cx="658.1" cy="157.8" r="2.55" fill="#9A9A9A"/>
<circle cx="680.1" cy="162.4" r="2.55" fill="#9A9A9A"/>
<circle cx="664.6" cy="161.2" r="2.55" fill="#9A9A9A"/>
<circle cx="680.0" cy="157.4" r="2.55" fill="#9A9A9A"/>
<circle cx="657.9" cy="157.0" r="2.55" fill="#9A9A9A"/>
<circle cx="648.8" cy="159.4" r="2.55" fill="#9A9A9A"/>
<circle cx="681.3" cy="153.7" r="2.55" fill="#9A9A9A"/>
<circle cx="644.1" cy="161.6" r="2.55" fill="#9A9A9A"/>
<circle cx="656.3" cy="161.3" r="2.55" fill="#9A9A9A"/>
<circle cx="677.9" cy="154.4" r="2.55" fill="#9A9A9A"/>
<circle cx="644.4" cy="155.2" r="2.55" fill="#9A9A9A"/>
<circle cx="670.3" cy="155.7" r="2.55" fill="#9A9A9A"/>
<circle cx="681.1" cy="157.3" r="2.55" fill="#9A9A9A"/>
<circle cx="648.2" cy="162.9" r="2.55" fill="#9A9A9A"/>
<circle cx="679.3" cy="156.1" r="2.55" fill="#9A9A9A"/>
<circle cx="654.2" cy="157.0" r="2.55" fill="#9A9A9A"/>
<circle cx="582.6" cy="118.0" r="2.55" fill="#F3821F"/>
<circle cx="586.0" cy="120.0" r="2.55" fill="#F3821F"/>
<circle cx="581.3" cy="120.8" r="2.55" fill="#F3821F"/>
<circle cx="599.0" cy="122.0" r="2.55" fill="#F3821F"/>
<circle cx="589.6" cy="125.5" r="2.55" fill="#F3821F"/>
<circle cx="596.3" cy="129.6" r="2.55" fill="#F3821F"/>
<circle cx="576.0" cy="129.9" r="2.55" fill="#F3821F"/>
<circle cx="580.2" cy="130.8" r="2.55" fill="#F3821F"/>
<circle cx="583.5" cy="134.1" r="2.55" fill="#F3821F"/>
<circle cx="574.3" cy="135.3" r="2.55" fill="#F3821F"/>
<circle cx="581.0" cy="136.6" r="2.55" fill="#F3821F"/>
<circle cx="573.5" cy="140.3" r="2.55" fill="#F3821F"/>
<circle cx="596.0" cy="142.9" r="2.55" fill="#F3821F"/>
<circle cx="599.3" cy="144.9" r="2.55" fill="#F3821F"/>
<circle cx="581.8" cy="144.9" r="2.55" fill="#F3821F"/>
<circle cx="577.7" cy="146.6" r="2.55" fill="#F3821F"/>
<circle cx="591.0" cy="148.3" r="2.55" fill="#F3821F"/>
<circle cx="601.0" cy="149.1" r="2.55" fill="#F3821F"/>
<circle cx="587.6" cy="151.6" r="2.55" fill="#F3821F"/>
<circle cx="596.0" cy="151.6" r="2.55" fill="#F3821F"/>
<circle cx="602.6" cy="154.1" r="2.55" fill="#F3821F"/>
<circle cx="613.4" cy="100.0" r="2.55" fill="#EEF33A"/>
<circle cx="611.4" cy="119.1" r="2.55" fill="#EEF33A"/>
<circle cx="615.1" cy="134.1" r="2.55" fill="#EEF33A"/>
<circle cx="617.6" cy="136.6" r="2.55" fill="#EEF33A"/>
<circle cx="605.9" cy="141.3" r="2.55" fill="#EEF33A"/>
<circle cx="609.3" cy="142.4" r="2.55" fill="#EEF33A"/>
<circle cx="615.1" cy="143.3" r="2.55" fill="#EEF33A"/>
<circle cx="612.6" cy="148.3" r="2.55" fill="#EEF33A"/>
<circle cx="603.5" cy="149.9" r="2.55" fill="#EEF33A"/>
<circle cx="615.6" cy="152.4" r="2.55" fill="#EEF33A"/>
<circle cx="617.6" cy="154.9" r="2.55" fill="#EEF33A"/>
<circle cx="619.3" cy="162.4" r="2.55" fill="#EEF33A"/>
<circle cx="620.6" cy="110.8" r="2.55" fill="#A65628"/>
<circle cx="621.8" cy="113.6" r="2.55" fill="#A65628"/>
<circle cx="622.6" cy="116.6" r="2.55" fill="#A65628"/>
<circle cx="622.6" cy="137.9" r="2.55" fill="#A65628"/>
<circle cx="619.8" cy="144.1" r="2.55" fill="#A65628"/>
<circle cx="620.9" cy="148.6" r="2.55" fill="#A65628"/>
<circle cx="622.6" cy="147.4" r="2.55" fill="#A65628"/>
<circle cx="630.1" cy="110.3" r="2.55" fill="#EF80C7"/>
<circle cx="637.6" cy="105.0" r="2.55" fill="#EF80C7"/>
<circle cx="643.4" cy="103.0" r="2.55" fill="#EF80C7"/>
<circle cx="642.2" cy="111.6" r="2.55" fill="#EF80C7"/>
<circle cx="628.9" cy="121.6" r="2.55" fill="#EF80C7"/>
<circle cx="625.9" cy="124.6" r="2.55" fill="#EF80C7"/>
<circle cx="635.9" cy="122.5" r="2.55" fill="#EF80C7"/>
<circle cx="641.7" cy="120.8" r="2.55" fill="#EF80C7"/>
<circle cx="639.2" cy="128.0" r="2.55" fill="#EF80C7"/>
<circle cx="644.2" cy="129.6" r="2.55" fill="#EF80C7"/>
<circle cx="632.6" cy="134.9" r="2.55" fill="#EF80C7"/>
<circle cx="637.6" cy="133.3" r="2.55" fill="#EF80C7"/>
<circle cx="640.9" cy="136.6" r="2.55" fill="#EF80C7"/>
<circle cx="627.6" cy="140.3" r="2.55" fill="#EF80C7"/>
<circle cx="631.7" cy="143.3" r="2.55" fill="#EF80C7"/>
<circle cx="636.7" cy="142.4" r="2.55" fill="#EF80C7"/>
<circle cx="642.6" cy="142.4" r="2.55" fill="#EF80C7"/>
<circle cx="625.1" cy="149.1" r="2.55" fill="#EF80C7"/>
<circle cx="629.2" cy="146.6" r="2.55" fill="#EF80C7"/>
<circle cx="633.4" cy="144.9" r="2.55" fill="#EF80C7"/>
<circle cx="625.1" cy="153.2" r="2.55" fill="#EF80C7"/>
<circle cx="634.2" cy="154.1" r="2.55" fill="#EF80C7"/>
<circle cx="630.9" cy="157.4" r="2.55" fill="#EF80C7"/>
<circle cx="633.4" cy="160.7" r="2.55" fill="#EF80C7"/>
<circle cx="624.3" cy="160.7" r="2.55" fill="#EF80C7"/>
<circle cx="624.3" cy="163.2" r="2.55" fill="#EF80C7"/>
<circle cx="658.4" cy="107.5" r="2.55" fill="#9A9A9A"/>
<circle cx="667.2" cy="103.3" r="2.55" fill="#9A9A9A"/>
<circle cx="670.0" cy="121.6" r="2.55" fill="#9A9A9A"/>
<circle cx="672.5" cy="125.3" r="2.55" fill="#9A9A9A"/>
<circle cx="665.0" cy="125.0" r="2.55" fill="#9A9A9A"/>
<circle cx="677.5" cy="127.0" r="2.55" fill="#9A9A9A"/>
<circle cx="651.7" cy="125.8" r="2.55" fill="#9A9A9A"/>
<circle cx="655.0" cy="127.5" r="2.55" fill="#9A9A9A"/>
<circle cx="659.2" cy="130.8" r="2.55" fill="#9A9A9A"/>
<circle cx="650.1" cy="134.9" r="2.55" fill="#9A9A9A"/>
<circle cx="655.0" cy="136.6" r="2.55" fill="#9A9A9A"/>
<circle cx="661.7" cy="135.8" r="2.55" fill="#9A9A9A"/>
<circle cx="675.8" cy="137.4" r="2.55" fill="#9A9A9A"/>
<circle cx="680.0" cy="134.6" r="2.55" fill="#9A9A9A"/>
<circle cx="644.2" cy="143.3" r="2.55" fill="#9A9A9A"/>
<circle cx="651.7" cy="141.6" r="2.55" fill="#9A9A9A"/>
<circle cx="665.9" cy="140.8" r="2.55" fill="#9A9A9A"/>
<circle cx="678.3" cy="144.1" r="2.55" fill="#9A9A9A"/>
<circle cx="646.7" cy="148.3" r="2.55" fill="#9A9A9A"/>
<circle cx="654.2" cy="148.3" r="2.55" fill="#9A9A9A"/>
<circle cx="660.9" cy="146.6" r="2.55" fill="#9A9A9A"/>
<circle cx="667.5" cy="144.9" r="2.55" fill="#9A9A9A"/>
<circle cx="672.5" cy="146.6" r="2.55" fill="#9A9A9A"/>
<circle cx="679.2" cy="151.6" r="2.55" fill="#9A9A9A"/>
<circle cx="529.0" cy="257.5" r="2.55" fill="#5BBC4E"/>
<circle cx="529.3" cy="260.1" r="2.55" fill="#5BBC4E"/>
<circle cx="535.7" cy="274.2" r="2.55" fill="#5BBC4E"/>
<circle cx="534.7" cy="276.7" r="2.55" fill="#5BBC4E"/>
<circle cx="533.1" cy="279.3" r="2.55" fill="#5BBC4E"/>
<circle cx="643.4" cy="258.5" r="2.55" fill="#EF80C7"/>
<circle cx="629.7" cy="265.9" r="2.55" fill="#EF80C7"/>
<circle cx="471.1" cy="337.3" r="2.55" fill="#4682BE"/>
<circle cx="472.5" cy="336.3" r="2.55" fill="#4682BE"/>
<circle cx="474.7" cy="336.4" r="2.55" fill="#4682BE"/>
<circle cx="476.9" cy="336.5" r="2.55" fill="#4682BE"/>
<circle cx="479.6" cy="337.4" r="2.55" fill="#4682BE"/>
<circle cx="481.7" cy="336.6" r="2.55" fill="#4682BE"/>
<circle cx="486.7" cy="337.3" r="2.55" fill="#4682BE"/>
<circle cx="488.4" cy="337.5" r="2.55" fill="#4682BE"/>
<circle cx="492.5" cy="337.0" r="2.55" fill="#4682BE"/>
<circle cx="495.4" cy="336.7" r="2.55" fill="#4682BE"/>
<circle cx="497.1" cy="337.4" r="2.55" fill="#4682BE"/>
<circle cx="499.9" cy="336.3" r="2.55" fill="#4682BE"/>
<circle cx="501.3" cy="337.2" r="2.55" fill="#4682BE"/>
<circle cx="503.9" cy="336.9" r="2.55" fill="#4682BE"/>
<circle cx="506.0" cy="336.6" r="2.55" fill="#4682BE"/>
<circle cx="508.6" cy="337.2" r="2.55" fill="#4682BE"/>
<circle cx="510.5" cy="337.4" r="2.55" fill="#4682BE"/>
<circle cx="512.7" cy="336.9" r="2.55" fill="#4682BE"/>
<circle cx="514.6" cy="337.1" r="2.55" fill="#4682BE"/>
<circle cx="516.8" cy="336.4" r="2.55" fill="#4682BE"/>
<circle cx="519.3" cy="336.8" r="2.55" fill="#4682BE"/>
<circle cx="493.3" cy="332.3" r="2.55" fill="#4682BE"/>
<circle cx="473.7" cy="332.6" r="2.55" fill="#4682BE"/>
<circle cx="503.2" cy="335.4" r="2.55" fill="#4682BE"/>
<circle cx="514.5" cy="337.3" r="2.55" fill="#4682BE"/>
<circle cx="501.0" cy="337.3" r="2.55" fill="#4682BE"/>
<circle cx="517.5" cy="336.8" r="2.55" fill="#4682BE"/>
<circle cx="511.3" cy="334.7" r="2.55" fill="#4682BE"/>
<circle cx="504.9" cy="335.0" r="2.55" fill="#4682BE"/>
<circle cx="485.7" cy="334.0" r="2.55" fill="#4682BE"/>
<circle cx="513.2" cy="336.6" r="2.55" fill="#4682BE"/>
<circle cx="517.2" cy="336.9" r="2.55" fill="#4682BE"/>
<circle cx="475.9" cy="336.6" r="2.55" fill="#4682BE"/>
<circle cx="510.5" cy="337.2" r="2.55" fill="#4682BE"/>
<circle cx="491.8" cy="332.2" r="2.55" fill="#4682BE"/>
<circle cx="483.8" cy="334.1" r="2.55" fill="#4682BE"/>
<circle cx="505.5" cy="332.5" r="2.55" fill="#4682BE"/>
<circle cx="473.7" cy="336.9" r="2.55" fill="#4682BE"/>
<circle cx="472.9" cy="333.8" r="2.55" fill="#4682BE"/>
<circle cx="485.7" cy="332.9" r="2.55" fill="#4682BE"/>
<circle cx="500.3" cy="336.5" r="2.55" fill="#4682BE"/>
<circle cx="499.2" cy="336.1" r="2.55" fill="#4682BE"/>
<circle cx="516.9" cy="336.9" r="2.55" fill="#4682BE"/>
<circle cx="513.4" cy="336.0" r="2.55" fill="#4682BE"/>
<circle cx="511.3" cy="336.9" r="2.55" fill="#4682BE"/>
<circle cx="490.6" cy="332.0" r="2.55" fill="#4682BE"/>
<circle cx="490.0" cy="337.4" r="2.55" fill="#4682BE"/>
<circle cx="482.1" cy="334.2" r="2.55" fill="#4682BE"/>
<circle cx="475.6" cy="334.8" r="2.55" fill="#4682BE"/>
<circle cx="507.7" cy="335.2" r="2.55" fill="#4682BE"/>
<circle cx="505.2" cy="335.4" r="2.55" fill="#4682BE"/>
<circle cx="512.7" cy="337.1" r="2.55" fill="#4682BE"/>
<circle cx="536.4" cy="336.0" r="2.55" fill="#9650B2"/>
<circle cx="540.0" cy="337.0" r="2.55" fill="#9650B2"/>
<circle cx="542.4" cy="336.1" r="2.55" fill="#9650B2"/>
<circle cx="544.6" cy="336.2" r="2.55" fill="#9650B2"/>
<circle cx="546.9" cy="337.4" r="2.55" fill="#9650B2"/>
<circle cx="548.8" cy="336.2" r="2.55" fill="#9650B2"/>
<circle cx="550.9" cy="336.1" r="2.55" fill="#9650B2"/>
<circle cx="553.6" cy="336.0" r="2.55" fill="#9650B2"/>
<circle cx="556.2" cy="336.5" r="2.55" fill="#9650B2"/>
<circle cx="557.7" cy="336.8" r="2.55" fill="#9650B2"/>
<circle cx="553.7" cy="337.0" r="2.55" fill="#9650B2"/>
<circle cx="554.8" cy="337.2" r="2.55" fill="#9650B2"/>
<circle cx="537.5" cy="336.9" r="2.55" fill="#9650B2"/>
<circle cx="538.2" cy="336.3" r="2.55" fill="#9650B2"/>
<circle cx="554.8" cy="336.3" r="2.55" fill="#9650B2"/>
<circle cx="547.0" cy="336.2" r="2.55" fill="#9650B2"/>
<circle cx="558.4" cy="337.4" r="2.55" fill="#F3821F"/>
<circle cx="560.1" cy="336.6" r="2.55" fill="#F3821F"/>
<circle cx="562.6" cy="336.5" r="2.55" fill="#F3821F"/>
<circle cx="564.5" cy="336.1" r="2.55" fill="#F3821F"/>
<circle cx="567.5" cy="336.2" r="2.55" fill="#F3821F"/>
<circle cx="568.9" cy="337.4" r="2.55" fill="#F3821F"/>
<circle cx="571.1" cy="336.8" r="2.55" fill="#F3821F"/>
<circle cx="573.3" cy="336.8" r="2.55" fill="#F3821F"/>
<circle cx="576.0" cy="336.7" r="2.55" fill="#F3821F"/>
<circle cx="561.8" cy="334.6" r="2.55" fill="#F3821F"/>
<circle cx="561.9" cy="334.2" r="2.55" fill="#F3821F"/>
<circle cx="562.6" cy="336.7" r="2.55" fill="#F3821F"/>
<circle cx="567.2" cy="329.3" r="2.55" fill="#F3821F"/>
<circle cx="558.6" cy="329.1" r="2.55" fill="#F3821F"/>
<circle cx="567.0" cy="328.5" r="2.55" fill="#F3821F"/>
<circle cx="568.4" cy="330.2" r="2.55" fill="#F3821F"/>
<circle cx="562.4" cy="331.3" r="2.55" fill="#F3821F"/>
<circle cx="561.1" cy="330.6" r="2.55" fill="#F3821F"/>
<circle cx="558.9" cy="335.5" r="2.55" fill="#F3821F"/>
<circle cx="567.5" cy="334.3" r="2.55" fill="#F3821F"/>
<circle cx="574.1" cy="335.3" r="2.55" fill="#F3821F"/>
<circle cx="568.6" cy="337.0" r="2.55" fill="#F3821F"/>
<circle cx="568.9" cy="335.8" r="2.55" fill="#F3821F"/>
<circle cx="570.9" cy="330.3" r="2.55" fill="#F3821F"/>
<circle cx="562.7" cy="337.2" r="2.55" fill="#F3821F"/>
<circle cx="575.7" cy="332.3" r="2.55" fill="#F3821F"/>
<circle cx="569.3" cy="337.3" r="2.55" fill="#F3821F"/>
<circle cx="572.7" cy="331.3" r="2.55" fill="#F3821F"/>
<circle cx="470.8" cy="305.6" r="2.55" fill="#E41A1C"/>
<circle cx="471.1" cy="314.2" r="2.55" fill="#E41A1C"/>
<circle cx="471.6" cy="317.4" r="2.55" fill="#E41A1C"/>
<circle cx="471.6" cy="319.8" r="2.55" fill="#E41A1C"/>
<circle cx="470.8" cy="335.8" r="2.55" fill="#E41A1C"/>
<circle cx="476.0" cy="288.1" r="2.55" fill="#4682BE"/>
<circle cx="520.6" cy="294.4" r="2.55" fill="#4682BE"/>
<circle cx="493.0" cy="303.4" r="2.55" fill="#4682BE"/>
<circle cx="505.0" cy="305.3" r="2.55" fill="#4682BE"/>
<circle cx="499.7" cy="313.0" r="2.55" fill="#4682BE"/>
<circle cx="504.5" cy="313.4" r="2.55" fill="#4682BE"/>
<circle cx="510.2" cy="314.2" r="2.55" fill="#4682BE"/>
<circle cx="475.6" cy="316.9" r="2.55" fill="#4682BE"/>
<circle cx="479.6" cy="320.1" r="2.55" fill="#4682BE"/>
<circle cx="482.9" cy="323.8" r="2.55" fill="#4682BE"/>
<circle cx="488.5" cy="321.4" r="2.55" fill="#4682BE"/>
<circle cx="492.5" cy="319.8" r="2.55" fill="#4682BE"/>
<circle cx="495.7" cy="323.0" r="2.55" fill="#4682BE"/>
<circle cx="502.1" cy="318.2" r="2.55" fill="#4682BE"/>
<circle cx="504.5" cy="321.4" r="2.55" fill="#4682BE"/>
<circle cx="519.8" cy="317.1" r="2.55" fill="#4682BE"/>
<circle cx="473.2" cy="323.8" r="2.55" fill="#4682BE"/>
<circle cx="474.0" cy="327.0" r="2.55" fill="#4682BE"/>
<circle cx="478.8" cy="327.8" r="2.55" fill="#4682BE"/>
<circle cx="483.7" cy="327.0" r="2.55" fill="#4682BE"/>
<circle cx="490.1" cy="326.2" r="2.55" fill="#4682BE"/>
<circle cx="494.9" cy="327.0" r="2.55" fill="#4682BE"/>
<circle cx="502.9" cy="326.2" r="2.55" fill="#4682BE"/>
<circle cx="507.8" cy="330.2" r="2.55" fill="#4682BE"/>
<circle cx="512.6" cy="330.2" r="2.55" fill="#4682BE"/>
<circle cx="517.4" cy="329.4" r="2.55" fill="#4682BE"/>
<circle cx="535.9" cy="274.5" r="2.55" fill="#5BBC4E"/>
<circle cx="533.4" cy="280.4" r="2.55" fill="#5BBC4E"/>
<circle cx="536.7" cy="282.0" r="2.55" fill="#5BBC4E"/>
<circle cx="529.4" cy="282.5" r="2.55" fill="#5BBC4E"/>
<circle cx="530.2" cy="288.9" r="2.55" fill="#5BBC4E"/>
<circle cx="534.2" cy="288.9" r="2.55" fill="#5BBC4E"/>
<circle cx="533.4" cy="294.1" r="2.55" fill="#5BBC4E"/>
<circle cx="526.7" cy="298.9" r="2.55" fill="#5BBC4E"/>
<circle cx="531.0" cy="300.2" r="2.55" fill="#5BBC4E"/>
<circle cx="532.6" cy="301.3" r="2.55" fill="#5BBC4E"/>
<circle cx="524.6" cy="310.9" r="2.55" fill="#5BBC4E"/>
<circle cx="527.0" cy="312.6" r="2.55" fill="#5BBC4E"/>
<circle cx="536.2" cy="313.4" r="2.55" fill="#5BBC4E"/>
<circle cx="522.2" cy="317.4" r="2.55" fill="#5BBC4E"/>
<circle cx="525.4" cy="319.8" r="2.55" fill="#5BBC4E"/>
<circle cx="529.4" cy="318.2" r="2.55" fill="#5BBC4E"/>
<circle cx="535.1" cy="321.4" r="2.55" fill="#5BBC4E"/>
<circle cx="531.8" cy="321.4" r="2.55" fill="#5BBC4E"/>
<circle cx="523.8" cy="323.0" r="2.55" fill="#5BBC4E"/>
<circle cx="527.8" cy="325.4" r="2.55" fill="#5BBC4E"/>
<circle cx="522.2" cy="328.6" r="2.55" fill="#5BBC4E"/>
<circle cx="531.8" cy="330.2" r="2.55" fill="#5BBC4E"/>
<circle cx="524.6" cy="332.6" r="2.55" fill="#5BBC4E"/>
<circle cx="531.0" cy="332.6" r="2.55" fill="#5BBC4E"/>
<circle cx="552.4" cy="306.9" r="2.55" fill="#9650B2"/>
<circle cx="551.9" cy="313.7" r="2.55" fill="#9650B2"/>
<circle cx="553.5" cy="320.6" r="2.55" fill="#9650B2"/>
<circle cx="555.9" cy="326.2" r="2.55" fill="#9650B2"/>
<circle cx="546.3" cy="329.4" r="2.55" fill="#9650B2"/>
<circle cx="543.1" cy="331.8" r="2.55" fill="#9650B2"/>
<circle cx="549.5" cy="333.4" r="2.55" fill="#9650B2"/>
<circle cx="574.4" cy="299.7" r="2.55" fill="#F3821F"/>
<circle cx="566.8" cy="303.7" r="2.55" fill="#F3821F"/>
<circle cx="564.3" cy="308.5" r="2.55" fill="#F3821F"/>
<circle cx="573.6" cy="306.9" r="2.55" fill="#F3821F"/>
<circle cx="564.0" cy="311.8" r="2.55" fill="#F3821F"/>
<circle cx="573.6" cy="312.1" r="2.55" fill="#F3821F"/>
<circle cx="567.2" cy="316.6" r="2.55" fill="#F3821F"/>
<circle cx="562.4" cy="320.6" r="2.55" fill="#F3821F"/>
<circle cx="570.4" cy="321.4" r="2.55" fill="#F3821F"/>
<circle cx="574.4" cy="319.0" r="2.55" fill="#F3821F"/>
<circle cx="559.9" cy="326.2" r="2.55" fill="#F3821F"/>
<circle cx="564.0" cy="325.4" r="2.55" fill="#F3821F"/>
<circle cx="568.8" cy="327.8" r="2.55" fill="#F3821F"/>
<circle cx="571.4" cy="336.8" r="2.55" fill="#F3821F"/>
<circle cx="575.9" cy="336.9" r="2.55" fill="#F3821F"/>
<circle cx="577.1" cy="337.1" r="2.55" fill="#F3821F"/>
<circle cx="580.0" cy="337.3" r="2.55" fill="#F3821F"/>
<circle cx="581.6" cy="337.2" r="2.55" fill="#F3821F"/>
<circle cx="584.0" cy="336.0" r="2.55" fill="#F3821F"/>
<circle cx="588.6" cy="336.8" r="2.55" fill="#F3821F"/>
<circle cx="591.3" cy="336.4" r="2.55" fill="#F3821F"/>
<circle cx="592.6" cy="336.6" r="2.55" fill="#F3821F"/>
<circle cx="595.5" cy="337.4" r="2.55" fill="#F3821F"/>
<circle cx="597.2" cy="337.3" r="2.55" fill="#F3821F"/>
<circle cx="602.1" cy="337.3" r="2.55" fill="#F3821F"/>
<circle cx="601.4" cy="328.8" r="2.55" fill="#F3821F"/>
<circle cx="595.2" cy="327.8" r="2.55" fill="#F3821F"/>
<circle cx="597.0" cy="328.7" r="2.55" fill="#F3821F"/>
<circle cx="585.1" cy="331.7" r="2.55" fill="#F3821F"/>
<circle cx="596.5" cy="328.8" r="2.55" fill="#F3821F"/>
<circle cx="580.7" cy="328.3" r="2.55" fill="#F3821F"/>
<circle cx="588.3" cy="327.1" r="2.55" fill="#F3821F"/>
<circle cx="574.8" cy="327.3" r="2.55" fill="#F3821F"/>
<circle cx="596.6" cy="327.0" r="2.55" fill="#F3821F"/>
<circle cx="598.2" cy="335.4" r="2.55" fill="#F3821F"/>
<circle cx="577.4" cy="335.6" r="2.55" fill="#F3821F"/>
<circle cx="578.7" cy="333.2" r="2.55" fill="#F3821F"/>
<circle cx="600.5" cy="332.8" r="2.55" fill="#F3821F"/>
<circle cx="594.1" cy="330.6" r="2.55" fill="#F3821F"/>
<circle cx="596.4" cy="334.0" r="2.55" fill="#F3821F"/>
<circle cx="593.2" cy="329.2" r="2.55" fill="#F3821F"/>
<circle cx="597.8" cy="327.3" r="2.55" fill="#F3821F"/>
<circle cx="573.8" cy="333.8" r="2.55" fill="#F3821F"/>
<circle cx="598.1" cy="331.0" r="2.55" fill="#F3821F"/>
<circle cx="590.3" cy="334.5" r="2.55" fill="#F3821F"/>
<circle cx="596.7" cy="328.7" r="2.55" fill="#F3821F"/>
<circle cx="586.9" cy="337.5" r="2.55" fill="#F3821F"/>
<circle cx="574.6" cy="337.4" r="2.55" fill="#F3821F"/>
<circle cx="584.6" cy="329.0" r="2.55" fill="#F3821F"/>
<circle cx="585.8" cy="331.5" r="2.55" fill="#F3821F"/>
<circle cx="577.9" cy="334.6" r="2.55" fill="#F3821F"/>
<circle cx="598.4" cy="334.4" r="2.55" fill="#F3821F"/>
<circle cx="580.5" cy="331.4" r="2.55" fill="#F3821F"/>
<circle cx="579.8" cy="336.9" r="2.55" fill="#F3821F"/>
<circle cx="585.3" cy="330.4" r="2.55" fill="#F3821F"/>
<circle cx="597.2" cy="330.9" r="2.55" fill="#F3821F"/>
<circle cx="593.2" cy="336.6" r="2.55" fill="#F3821F"/>
<circle cx="597.7" cy="337.3" r="2.55" fill="#F3821F"/>
<circle cx="579.8" cy="336.1" r="2.55" fill="#F3821F"/>
<circle cx="582.8" cy="327.1" r="2.55" fill="#F3821F"/>
<circle cx="599.9" cy="335.7" r="2.55" fill="#F3821F"/>
<circle cx="600.0" cy="331.5" r="2.55" fill="#F3821F"/>
<circle cx="587.2" cy="333.9" r="2.55" fill="#F3821F"/>
<circle cx="587.4" cy="327.2" r="2.55" fill="#F3821F"/>
<circle cx="606.0" cy="337.3" r="2.55" fill="#EEF33A"/>
<circle cx="607.3" cy="337.2" r="2.55" fill="#EEF33A"/>
<circle cx="612.6" cy="337.1" r="2.55" fill="#EEF33A"/>
<circle cx="614.0" cy="336.7" r="2.55" fill="#EEF33A"/>
<circle cx="616.7" cy="336.9" r="2.55" fill="#EEF33A"/>
<circle cx="614.0" cy="332.3" r="2.55" fill="#EEF33A"/>
<circle cx="613.3" cy="337.2" r="2.55" fill="#EEF33A"/>
<circle cx="618.6" cy="335.3" r="2.55" fill="#EEF33A"/>
<circle cx="613.9" cy="335.8" r="2.55" fill="#EEF33A"/>
<circle cx="609.4" cy="334.1" r="2.55" fill="#EEF33A"/>
<circle cx="614.1" cy="334.8" r="2.55" fill="#EEF33A"/>
<circle cx="611.3" cy="332.2" r="2.55" fill="#EEF33A"/>
<circle cx="618.9" cy="335.7" r="2.55" fill="#EEF33A"/>
<circle cx="616.7" cy="337.3" r="2.55" fill="#EEF33A"/>
<circle cx="612.3" cy="333.7" r="2.55" fill="#EEF33A"/>
<circle cx="622.9" cy="336.2" r="2.55" fill="#EF80C7"/>
<circle cx="625.1" cy="337.4" r="2.55" fill="#EF80C7"/>
<circle cx="626.6" cy="336.1" r="2.55" fill="#EF80C7"/>
<circle cx="628.8" cy="336.6" r="2.55" fill="#EF80C7"/>
<circle cx="623.0" cy="332.7" r="2.55" fill="#EF80C7"/>
<circle cx="628.8" cy="334.5" r="2.55" fill="#EF80C7"/>
<circle cx="624.9" cy="332.1" r="2.55" fill="#EF80C7"/>
<circle cx="625.0" cy="330.8" r="2.55" fill="#EF80C7"/>
<circle cx="626.1" cy="333.0" r="2.55" fill="#EF80C7"/>
<circle cx="628.0" cy="328.5" r="2.55" fill="#EF80C7"/>
<circle cx="628.2" cy="330.4" r="2.55" fill="#EF80C7"/>
<circle cx="630.6" cy="334.6" r="2.55" fill="#EF80C7"/>
<circle cx="644.5" cy="337.1" r="2.55" fill="#9A9A9A"/>
<circle cx="646.5" cy="336.3" r="2.55" fill="#9A9A9A"/>
<circle cx="648.4" cy="337.3" r="2.55" fill="#9A9A9A"/>
<circle cx="651.3" cy="337.3" r="2.55" fill="#9A9A9A"/>
<circle cx="652.6" cy="337.0" r="2.55" fill="#9A9A9A"/>
<circle cx="655.0" cy="336.9" r="2.55" fill="#9A9A9A"/>
<circle cx="661.6" cy="336.1" r="2.55" fill="#9A9A9A"/>
<circle cx="663.8" cy="336.8" r="2.55" fill="#9A9A9A"/>
<circle cx="665.9" cy="336.9" r="2.55" fill="#9A9A9A"/>
<circle cx="669.0" cy="337.1" r="2.55" fill="#9A9A9A"/>
<circle cx="671.1" cy="336.8" r="2.55" fill="#9A9A9A"/>
<circle cx="673.0" cy="336.3" r="2.55" fill="#9A9A9A"/>
<circle cx="674.6" cy="336.4" r="2.55" fill="#9A9A9A"/>
<circle cx="677.3" cy="336.5" r="2.55" fill="#9A9A9A"/>
<circle cx="679.2" cy="337.0" r="2.55" fill="#9A9A9A"/>
<circle cx="681.7" cy="337.1" r="2.55" fill="#9A9A9A"/>
<circle cx="654.0" cy="331.2" r="2.55" fill="#9A9A9A"/>
<circle cx="645.8" cy="329.5" r="2.55" fill="#9A9A9A"/>
<circle cx="665.4" cy="328.8" r="2.55" fill="#9A9A9A"/>
<circle cx="679.4" cy="334.4" r="2.55" fill="#9A9A9A"/>
<circle cx="653.3" cy="335.3" r="2.55" fill="#9A9A9A"/>
<circle cx="664.8" cy="337.1" r="2.55" fill="#9A9A9A"/>
<circle cx="669.6" cy="329.7" r="2.55" fill="#9A9A9A"/>
<circle cx="674.5" cy="333.7" r="2.55" fill="#9A9A9A"/>
<circle cx="655.7" cy="336.7" r="2.55" fill="#9A9A9A"/>
<circle cx="680.4" cy="331.1" r="2.55" fill="#9A9A9A"/>
<circle cx="670.1" cy="331.2" r="2.55" fill="#9A9A9A"/>
<circle cx="659.0" cy="329.5" r="2.55" fill="#9A9A9A"/>
<circle cx="672.0" cy="327.4" r="2.55" fill="#9A9A9A"/>
<circle cx="658.9" cy="334.5" r="2.55" fill="#9A9A9A"/>
<circle cx="657.3" cy="329.1" r="2.55" fill="#9A9A9A"/>
<circle cx="676.9" cy="336.1" r="2.55" fill="#9A9A9A"/>
<circle cx="663.7" cy="332.4" r="2.55" fill="#9A9A9A"/>
<circle cx="678.0" cy="330.8" r="2.55" fill="#9A9A9A"/>
<circle cx="656.9" cy="336.5" r="2.55" fill="#9A9A9A"/>
<circle cx="659.7" cy="337.1" r="2.55" fill="#9A9A9A"/>
<circle cx="676.1" cy="332.7" r="2.55" fill="#9A9A9A"/>
<circle cx="665.9" cy="330.8" r="2.55" fill="#9A9A9A"/>
<circle cx="665.7" cy="333.8" r="2.55" fill="#9A9A9A"/>
<circle cx="675.9" cy="335.2" r="2.55" fill="#9A9A9A"/>
<circle cx="675.6" cy="329.3" r="2.55" fill="#9A9A9A"/>
<circle cx="669.4" cy="336.4" r="2.55" fill="#9A9A9A"/>
<circle cx="663.0" cy="329.7" r="2.55" fill="#9A9A9A"/>
<circle cx="677.9" cy="327.9" r="2.55" fill="#9A9A9A"/>
<circle cx="675.0" cy="329.9" r="2.55" fill="#9A9A9A"/>
<circle cx="677.1" cy="331.0" r="2.55" fill="#9A9A9A"/>
<circle cx="670.6" cy="336.5" r="2.55" fill="#9A9A9A"/>
<circle cx="667.2" cy="330.3" r="2.55" fill="#9A9A9A"/>
<circle cx="646.7" cy="335.2" r="2.55" fill="#9A9A9A"/>
<circle cx="675.1" cy="331.5" r="2.55" fill="#9A9A9A"/>
<circle cx="652.2" cy="335.2" r="2.55" fill="#9A9A9A"/>
<circle cx="647.7" cy="335.7" r="2.55" fill="#9A9A9A"/>
<circle cx="680.7" cy="330.7" r="2.55" fill="#9A9A9A"/>
<circle cx="657.7" cy="329.1" r="2.55" fill="#9A9A9A"/>
<circle cx="646.9" cy="330.4" r="2.55" fill="#9A9A9A"/>
<circle cx="656.4" cy="328.7" r="2.55" fill="#9A9A9A"/>
<circle cx="667.8" cy="337.5" r="2.55" fill="#9A9A9A"/>
<circle cx="654.5" cy="336.5" r="2.55" fill="#9A9A9A"/>
<circle cx="660.9" cy="337.1" r="2.55" fill="#9A9A9A"/>
<circle cx="674.5" cy="332.1" r="2.55" fill="#9A9A9A"/>
<circle cx="675.2" cy="337.3" r="2.55" fill="#9A9A9A"/>
<circle cx="585.6" cy="295.3" r="2.55" fill="#F3821F"/>
<circle cx="582.6" cy="298.3" r="2.55" fill="#F3821F"/>
<circle cx="579.3" cy="300.0" r="2.55" fill="#F3821F"/>
<circle cx="574.7" cy="300.0" r="2.55" fill="#F3821F"/>
<circle cx="603.5" cy="293.3" r="2.55" fill="#F3821F"/>
<circle cx="601.0" cy="300.3" r="2.55" fill="#F3821F"/>
<circle cx="592.6" cy="303.3" r="2.55" fill="#F3821F"/>
<circle cx="596.8" cy="304.9" r="2.55" fill="#F3821F"/>
<circle cx="574.0" cy="306.9" r="2.55" fill="#F3821F"/>
<circle cx="578.5" cy="309.9" r="2.55" fill="#F3821F"/>
<circle cx="586.8" cy="309.1" r="2.55" fill="#F3821F"/>
<circle cx="594.3" cy="310.8" r="2.55" fill="#F3821F"/>
<circle cx="600.1" cy="313.6" r="2.55" fill="#F3821F"/>
<circle cx="574.3" cy="312.9" r="2.55" fill="#F3821F"/>
<circle cx="585.1" cy="314.1" r="2.55" fill="#F3821F"/>
<circle cx="591.0" cy="314.1" r="2.55" fill="#F3821F"/>
<circle cx="578.5" cy="319.1" r="2.55" fill="#F3821F"/>
<circle cx="587.6" cy="319.9" r="2.55" fill="#F3821F"/>
<circle cx="597.6" cy="319.9" r="2.55" fill="#F3821F"/>
<circle cx="602.6" cy="319.1" r="2.55" fill="#F3821F"/>
<circle cx="574.3" cy="321.6" r="2.55" fill="#F3821F"/>
<circle cx="579.3" cy="325.8" r="2.55" fill="#F3821F"/>
<circle cx="596.0" cy="323.3" r="2.55" fill="#F3821F"/>
<circle cx="601.0" cy="324.9" r="2.55" fill="#F3821F"/>
<circle cx="613.9" cy="298.3" r="2.55" fill="#EEF33A"/>
<circle cx="612.6" cy="305.8" r="2.55" fill="#EEF33A"/>
<circle cx="613.4" cy="309.1" r="2.55" fill="#EEF33A"/>
<circle cx="615.9" cy="313.6" r="2.55" fill="#EEF33A"/>
<circle cx="604.3" cy="323.3" r="2.55" fill="#EEF33A"/>
<circle cx="612.3" cy="319.1" r="2.55" fill="#EEF33A"/>
<circle cx="610.9" cy="326.6" r="2.55" fill="#EEF33A"/>
<circle cx="615.9" cy="324.9" r="2.55" fill="#EEF33A"/>
<circle cx="618.4" cy="327.4" r="2.55" fill="#EEF33A"/>
<circle cx="620.6" cy="312.4" r="2.55" fill="#A65628"/>
<circle cx="621.8" cy="329.1" r="2.55" fill="#A65628"/>
<circle cx="620.9" cy="333.2" r="2.55" fill="#A65628"/>
<circle cx="630.1" cy="282.5" r="2.55" fill="#EF80C7"/>
<circle cx="637.6" cy="286.6" r="2.55" fill="#EF80C7"/>
<circle cx="641.7" cy="286.3" r="2.55" fill="#EF80C7"/>
<circle cx="634.2" cy="291.6" r="2.55" fill="#EF80C7"/>
<circle cx="640.9" cy="292.5" r="2.55" fill="#EF80C7"/>
<circle cx="633.4" cy="295.8" r="2.55" fill="#EF80C7"/>
<circle cx="642.6" cy="296.6" r="2.55" fill="#EF80C7"/>
<circle cx="624.3" cy="297.0" r="2.55" fill="#EF80C7"/>
<circle cx="639.2" cy="305.8" r="2.55" fill="#EF80C7"/>
<circle cx="628.4" cy="309.1" r="2.55" fill="#EF80C7"/>
<circle cx="624.3" cy="309.9" r="2.55" fill="#EF80C7"/>
<circle cx="634.2" cy="311.3" r="2.55" fill="#EF80C7"/>
<circle cx="637.6" cy="310.8" r="2.55" fill="#EF80C7"/>
<circle cx="640.9" cy="313.3" r="2.55" fill="#EF80C7"/>
<circle cx="625.9" cy="314.9" r="2.55" fill="#EF80C7"/>
<circle cx="631.7" cy="315.8" r="2.55" fill="#EF80C7"/>
<circle cx="636.7" cy="316.6" r="2.55" fill="#EF80C7"/>
<circle cx="641.7" cy="318.3" r="2.55" fill="#EF80C7"/>
<circle cx="624.3" cy="321.6" r="2.55" fill="#EF80C7"/>
<circle cx="629.2" cy="319.9" r="2.55" fill="#EF80C7"/>
<circle cx="636.7" cy="323.3" r="2.55" fill="#EF80C7"/>
<circle cx="625.9" cy="325.8" r="2.55" fill="#EF80C7"/>
<circle cx="632.6" cy="330.7" r="2.55" fill="#EF80C7"/>
<circle cx="636.7" cy="334.1" r="2.55" fill="#EF80C7"/>
<circle cx="642.6" cy="335.7" r="2.55" fill="#EF80C7"/>
<circle cx="627.6" cy="333.2" r="2.55" fill="#EF80C7"/>
<circle cx="667.2" cy="300.5" r="2.55" fill="#9A9A9A"/>
<circle cx="677.5" cy="299.1" r="2.55" fill="#9A9A9A"/>
<circle cx="674.2" cy="308.8" r="2.55" fill="#9A9A9A"/>
<circle cx="672.5" cy="311.6" r="2.55" fill="#9A9A9A"/>
<circle cx="650.9" cy="317.4" r="2.55" fill="#9A9A9A"/>
<circle cx="655.9" cy="319.1" r="2.55" fill="#9A9A9A"/>
<circle cx="661.7" cy="316.6" r="2.55" fill="#9A9A9A"/>
<circle cx="666.7" cy="314.9" r="2.55" fill="#9A9A9A"/>
<circle cx="674.2" cy="318.3" r="2.55" fill="#9A9A9A"/>
<circle cx="679.2" cy="321.6" r="2.55" fill="#9A9A9A"/>
<circle cx="646.7" cy="322.4" r="2.55" fill="#9A9A9A"/>
<circle cx="654.2" cy="324.1" r="2.55" fill="#9A9A9A"/>
<circle cx="660.9" cy="323.3" r="2.55" fill="#9A9A9A"/>
<circle cx="669.2" cy="324.1" r="2.55" fill="#9A9A9A"/>
<circle cx="675.8" cy="324.9" r="2.55" fill="#9A9A9A"/>
<circle cx="680.0" cy="327.4" r="2.55" fill="#9A9A9A"/>
<circle cx="649.2" cy="136.6" r="2.55" fill="#9A9A9A"/>
<circle cx="652.5" cy="138.3" r="2.55" fill="#9A9A9A"/>
<circle cx="657.5" cy="135.8" r="2.55" fill="#9A9A9A"/>
<circle cx="661.7" cy="139.1" r="2.55" fill="#9A9A9A"/>
<circle cx="664.2" cy="141.6" r="2.55" fill="#9A9A9A"/>
<circle cx="669.2" cy="142.4" r="2.55" fill="#9A9A9A"/>
<circle cx="674.2" cy="144.9" r="2.55" fill="#9A9A9A"/>
<circle cx="677.5" cy="148.3" r="2.55" fill="#9A9A9A"/>
<circle cx="649.2" cy="144.9" r="2.55" fill="#9A9A9A"/>
<circle cx="654.2" cy="143.3" r="2.55" fill="#9A9A9A"/>
<circle cx="659.2" cy="143.3" r="2.55" fill="#9A9A9A"/>
<circle cx="664.2" cy="146.6" r="2.55" fill="#9A9A9A"/>
<circle cx="670.9" cy="149.9" r="2.55" fill="#9A9A9A"/>
<circle cx="675.8" cy="151.6" r="2.55" fill="#9A9A9A"/>
<circle cx="680.0" cy="148.3" r="2.55" fill="#9A9A9A"/>
<circle cx="647.6" cy="154.9" r="2.55" fill="#9A9A9A"/>
<circle cx="654.2" cy="153.2" r="2.55" fill="#9A9A9A"/>
<circle cx="660.9" cy="153.2" r="2.55" fill="#9A9A9A"/>
<circle cx="667.5" cy="154.9" r="2.55" fill="#9A9A9A"/>
<circle cx="674.2" cy="156.6" r="2.55" fill="#9A9A9A"/>
<circle cx="679.2" cy="157.4" r="2.55" fill="#9A9A9A"/>
</g>
<text x="40.80" y="39.70" font-size="15.17" fill="#5BBC4E" textLength="37.43" lengthAdjust="spacingAndGlyphs">Aorta</text>
<text x="103.90" y="39.70" font-size="15.17" fill="#5BBC4E" textLength="37.43" lengthAdjust="spacingAndGlyphs">Aorta</text>
<text x="158.88" y="39.70" font-size="15.17" fill="#F3821F" textLength="31.18" lengthAdjust="spacingAndGlyphs">RSM</text>
<text x="265.70" y="39.50" font-size="15.17" fill="#5BBC4E" textLength="37.43" lengthAdjust="spacingAndGlyphs">Aorta</text>
<text x="324.22" y="39.50" font-size="15.17" fill="#5BBC4E" textLength="79.41" lengthAdjust="spacingAndGlyphs">Fetal Heart</text>
<text x="426.01" y="39.50" font-size="15.17" fill="#EF80C7" textLength="29.95" lengthAdjust="spacingAndGlyphs">OPC</text>
<text x="514.00" y="51.80" font-size="15.17" fill="#5BBC4E" textLength="37.43" lengthAdjust="spacingAndGlyphs">Aorta</text>
<text x="478.00" y="71.40" font-size="15.17" fill="#5BBC4E" textLength="37.43" lengthAdjust="spacingAndGlyphs">Aorta</text>
<text x="535.90" y="71.80" font-size="15.17" fill="#5BBC4E" textLength="37.43" lengthAdjust="spacingAndGlyphs">Aorta</text>
<text x="72.70" y="218.40" font-size="15.17" fill="#5BBC4E" textLength="37.43" lengthAdjust="spacingAndGlyphs">Aorta</text>
<text x="158.09" y="248.40" font-size="15.17" fill="#EEF33A" textLength="11.07" lengthAdjust="spacingAndGlyphs">O</text>
<text x="179.39" y="237.30" font-size="15.17" fill="#EEF33A" textLength="11.07" lengthAdjust="spacingAndGlyphs">O</text>
<text x="267.47" y="285.40" font-size="15.17" fill="#5BBC4E" textLength="90.87" lengthAdjust="spacingAndGlyphs">Right Atrium</text>
<text x="265.70" y="304.50" font-size="15.17" fill="#5BBC4E" textLength="37.43" lengthAdjust="spacingAndGlyphs">Aorta</text>
<text x="355.08" y="305.40" font-size="15.17" fill="#F3821F" textLength="21.03" lengthAdjust="spacingAndGlyphs">EM</text>
<text x="486.89" y="250.40" font-size="15.17" fill="#5BBC4E" textLength="94.92" lengthAdjust="spacingAndGlyphs">Left Ventricle</text>
<text x="474.32" y="276.50" font-size="15.17" fill="#5BBC4E" textLength="79.41" lengthAdjust="spacingAndGlyphs">Fetal Heart</text>
<text x="632.80" y="252.80" font-size="15.17" fill="#EF80C7" textLength="21.04" lengthAdjust="spacingAndGlyphs">SM</text>
<circle cx="59.80" cy="394.00" r="2.1" fill="#E41A1C"/>
<text x="77.99" y="398.30" font-size="11.97" fill="#1a1a1a" textLength="44.25" lengthAdjust="spacingAndGlyphs">adipose</text>
<circle cx="59.80" cy="423.30" r="2.1" fill="#377EB8"/>
<text x="77.74" y="427.60" font-size="11.97" fill="#1a1a1a" textLength="101.18" lengthAdjust="spacingAndGlyphs">blood_or_immune</text>
<text x="185.57" y="399.00" font-size="15.17" fill="#4DAF4A" textLength="7.11" lengthAdjust="spacingAndGlyphs">a</text>
<circle cx="189.40" cy="394.00" r="2.1" fill="#4DAF4A"/>
<text x="207.58" y="398.30" font-size="11.97" fill="#1a1a1a" textLength="83.27" lengthAdjust="spacingAndGlyphs">cardiovascular</text>
<circle cx="189.40" cy="423.30" r="2.1" fill="#984EA3"/>
<text x="207.59" y="427.60" font-size="11.97" fill="#1a1a1a" textLength="138.06" lengthAdjust="spacingAndGlyphs">central_nervous_system</text>
<text x="348.17" y="399.00" font-size="15.17" fill="#FF7F00" textLength="7.11" lengthAdjust="spacingAndGlyphs">a</text>
<circle cx="352.00" cy="394.00" r="2.1" fill="#FF7F00"/>
<text x="370.17" y="398.30" font-size="11.97" fill="#1a1a1a" textLength="51.98" lengthAdjust="spacingAndGlyphs">digestive</text>
<text x="348.17" y="428.30" font-size="15.17" fill="#FFFF33" textLength="7.11" lengthAdjust="spacingAndGlyphs">a</text>
<circle cx="352.00" cy="423.30" r="2.1" fill="#FFFF33"/>
<text x="370.18" y="427.60" font-size="11.97" fill="#1a1a1a" textLength="56.69" lengthAdjust="spacingAndGlyphs">endocrine</text>
<circle cx="440.00" cy="394.00" r="2.1" fill="#A65628"/>
<text x="457.75" y="398.30" font-size="11.97" fill="#1a1a1a" textLength="24.84" lengthAdjust="spacingAndGlyphs">liver</text>
<text x="436.17" y="428.30" font-size="15.17" fill="#F781BF" textLength="7.11" lengthAdjust="spacingAndGlyphs">a</text>
<circle cx="440.00" cy="423.30" r="2.1" fill="#F781BF"/>
<text x="457.79" y="427.60" font-size="11.97" fill="#1a1a1a" textLength="158.15" lengthAdjust="spacingAndGlyphs">musculoskeletal-connective</text>
<circle cx="620.80" cy="394.00" r="2.1" fill="#999999"/>
<text x="638.97" y="398.30" font-size="11.97" fill="#1a1a1a" textLength="30.41" lengthAdjust="spacingAndGlyphs">other</text>
<line x1="51.10" y1="462.80" x2="588.30" y2="462.80" stroke="#ebebeb" stroke-width="1.07"/>
<line x1="51.10" y1="476.15" x2="588.30" y2="476.15" stroke="#ebebeb" stroke-width="1.07"/>
<line x1="51.10" y1="489.50" x2="588.30" y2="489.50" stroke="#ebebeb" stroke-width="1.07"/>
<line x1="51.10" y1="502.85" x2="588.30" y2="502.85" stroke="#ebebeb" stroke-width="1.07"/>
<line x1="51.10" y1="516.20" x2="588.30" y2="516.20" stroke="#ebebeb" stroke-width="1.07"/>
<line x1="61.20" y1="455.30" x2="61.20" y2="524.10" stroke="#ebebeb" stroke-width="1.07"/>
<line x1="78.42" y1="455.30" x2="78.42" y2="524.10" stroke="#ebebeb" stroke-width="1.07"/>
<line x1="95.64" y1="455.30" x2="95.64" y2="524.10" stroke="#ebebeb" stroke-width="1.07"/>
<line x1="112.86" y1="455.30" x2="112.86" y2="524.10" stroke="#ebebeb" stroke-width="1.07"/>
<line x1="130.08" y1="455.30" x2="130.08" y2="524.10" stroke="#ebebeb" stroke-width="1.07"/>
<line x1="147.30" y1="455.30" x2="147.30" y2="524.10" stroke="#ebebeb" stroke-width="1.07"/>
<line x1="164.52" y1="455.30" x2="164.52" y2="524.10" stroke="#ebebeb" stroke-width="1.07"/>
<line x1="181.74" y1="455.30" x2="181.74" y2="524.10" stroke="#ebebeb" stroke-width="1.07"/>
<line x1="198.96" y1="455.30" x2="198.96" y2="524.10" stroke="#ebebeb" stroke-width="1.07"/>
<line x1="216.18" y1="455.30" x2="216.18" y2="524.10" stroke="#ebebeb" stroke-width="1.07"/>
<line x1="233.40" y1="455.30" x2="233.40" y2="524.10" stroke="#ebebeb" stroke-width="1.07"/>
<line x1="250.62" y1="455.30" x2="250.62" y2="524.10" stroke="#ebebeb" stroke-width="1.07"/>
<line x1="267.84" y1="455.30" x2="267.84" y2="524.10" stroke="#ebebeb" stroke-width="1.07"/>
<line x1="285.06" y1="455.30" x2="285.06" y2="524.10" stroke="#ebebeb" stroke-width="1.07"/>
<line x1="302.28" y1="455.30" x2="302.28" y2="524.10" stroke="#ebebeb" stroke-width="1.07"/>
<line x1="319.50" y1="455.30" x2="319.50" y2="524.10" stroke="#ebebeb" stroke-width="1.07"/>
<line x1="336.72" y1="455.30" x2="336.72" y2="524.10" stroke="#ebebeb" stroke-width="1.07"/>
<line x1="353.94" y1="455.30" x2="353.94" y2="524.10" stroke="#ebebeb" stroke-width="1.07"/>
<line x1="371.16" y1="455.30" x2="371.16" y2="524.10" stroke="#ebebeb" stroke-width="1.07"/>
<line x1="388.38" y1="455.30" x2="388.38" y2="524.10" stroke="#ebebeb" stroke-width="1.07"/>
<line x1="405.60" y1="455.30" x2="405.60" y2="524.10" stroke="#ebebeb" stroke-width="1.07"/>
<line x1="422.82" y1="455.30" x2="422.82" y2="524.10" stroke="#ebebeb" stroke-width="1.07"/>
<line x1="440.04" y1="455.30" x2="440.04" y2="524.10" stroke="#ebebeb" stroke-width="1.07"/>
<line x1="457.26" y1="455.30" x2="457.26" y2="524.10" stroke="#ebebeb" stroke-width="1.07"/>
<line x1="474.48" y1="455.30" x2="474.48" y2="524.10" stroke="#ebebeb" stroke-width="1.07"/>
<line x1="491.70" y1="455.30" x2="491.70" y2="524.10" stroke="#ebebeb" stroke-width="1.07"/>
<line x1="508.92" y1="455.30" x2="508.92" y2="524.10" stroke="#ebebeb" stroke-width="1.07"/>
<line x1="526.14" y1="455.30" x2="526.14" y2="524.10" stroke="#ebebeb" stroke-width="1.07"/>
<line x1="543.36" y1="455.30" x2="543.36" y2="524.10" stroke="#ebebeb" stroke-width="1.07"/>
<line x1="560.58" y1="455.30" x2="560.58" y2="524.10" stroke="#ebebeb" stroke-width="1.07"/>
<line x1="577.80" y1="455.30" x2="577.80" y2="524.10" stroke="#ebebeb" stroke-width="1.07"/>
<text x="21.56" y="466.50" font-size="11.18" fill="#4d4d4d" textLength="23.58" lengthAdjust="spacingAndGlyphs">H-LV</text>
<text x="18.98" y="479.85" font-size="11.18" fill="#4d4d4d" textLength="26.22" lengthAdjust="spacingAndGlyphs">H-AA</text>
<text x="30.62" y="493.20" font-size="11.18" fill="#4d4d4d" textLength="14.57" lengthAdjust="spacingAndGlyphs">CA</text>
<text x="30.51" y="506.55" font-size="11.18" fill="#4d4d4d" textLength="14.64" lengthAdjust="spacingAndGlyphs">AA</text>
<text x="32.10" y="519.90" font-size="11.18" fill="#4d4d4d" textLength="13.04" lengthAdjust="spacingAndGlyphs">TA</text>
<clipPath id="cf0"><rect x="585" y="455.30" width="30" height="68.80"/></clipPath>
<g clip-path="url(#cf0)">
<g transform="translate(593.90 489.70) rotate(90)"><text x="-28.27" y="0" font-size="11.60" fill="#1a1a1a" textLength="57.30" lengthAdjust="spacingAndGlyphs">Aortic Arch</text></g>
</g>
<line x1="51.10" y1="538.35" x2="588.30" y2="538.35" stroke="#ebebeb" stroke-width="1.07"/>
<line x1="51.10" y1="551.70" x2="588.30" y2="551.70" stroke="#ebebeb" stroke-width="1.07"/>
<line x1="51.10" y1="565.05" x2="588.30" y2="565.05" stroke="#ebebeb" stroke-width="1.07"/>
<line x1="51.10" y1="578.40" x2="588.30" y2="578.40" stroke="#ebebeb" stroke-width="1.07"/>
<line x1="51.10" y1="591.75" x2="588.30" y2="591.75" stroke="#ebebeb" stroke-width="1.07"/>
<line x1="61.20" y1="530.85" x2="61.20" y2="599.65" stroke="#ebebeb" stroke-width="1.07"/>
<line x1="78.42" y1="530.85" x2="78.42" y2="599.65" stroke="#ebebeb" stroke-width="1.07"/>
<line x1="95.64" y1="530.85" x2="95.64" y2="599.65" stroke="#ebebeb" stroke-width="1.07"/>
<line x1="112.86" y1="530.85" x2="112.86" y2="599.65" stroke="#ebebeb" stroke-width="1.07"/>
<line x1="130.08" y1="530.85" x2="130.08" y2="599.65" stroke="#ebebeb" stroke-width="1.07"/>
<line x1="147.30" y1="530.85" x2="147.30" y2="599.65" stroke="#ebebeb" stroke-width="1.07"/>
<line x1="164.52" y1="530.85" x2="164.52" y2="599.65" stroke="#ebebeb" stroke-width="1.07"/>
<line x1="181.74" y1="530.85" x2="181.74" y2="599.65" stroke="#ebebeb" stroke-width="1.07"/>
<line x1="198.96" y1="530.85" x2="198.96" y2="599.65" stroke="#ebebeb" stroke-width="1.07"/>
<line x1="216.18" y1="530.85" x2="216.18" y2="599.65" stroke="#ebebeb" stroke-width="1.07"/>
<line x1="233.40" y1="530.85" x2="233.40" y2="599.65" stroke="#ebebeb" stroke-width="1.07"/>
<line x1="250.62" y1="530.85" x2="250.62" y2="599.65" stroke="#ebebeb" stroke-width="1.07"/>
<line x1="267.84" y1="530.85" x2="267.84" y2="599.65" stroke="#ebebeb" stroke-width="1.07"/>
<line x1="285.06" y1="530.85" x2="285.06" y2="599.65" stroke="#ebebeb" stroke-width="1.07"/>
<line x1="302.28" y1="530.85" x2="302.28" y2="599.65" stroke="#ebebeb" stroke-width="1.07"/>
<line x1="319.50" y1="530.85" x2="319.50" y2="599.65" stroke="#ebebeb" stroke-width="1.07"/>
<line x1="336.72" y1="530.85" x2="336.72" y2="599.65" stroke="#ebebeb" stroke-width="1.07"/>
<line x1="353.94" y1="530.85" x2="353.94" y2="599.65" stroke="#ebebeb" stroke-width="1.07"/>
<line x1="371.16" y1="530.85" x2="371.16" y2="599.65" stroke="#ebebeb" stroke-width="1.07"/>
<line x1="388.38" y1="530.85" x2="388.38" y2="599.65" stroke="#ebebeb" stroke-width="1.07"/>
<line x1="405.60" y1="530.85" x2="405.60" y2="599.65" stroke="#ebebeb" stroke-width="1.07"/>
<line x1="422.82" y1="530.85" x2="422.82" y2="599.65" stroke="#ebebeb" stroke-width="1.07"/>
<line x1="440.04" y1="530.85" x2="440.04" y2="599.65" stroke="#ebebeb" stroke-width="1.07"/>
<line x1="457.26" y1="530.85" x2="457.26" y2="599.65" stroke="#ebebeb" stroke-width="1.07"/>
<line x1="474.48" y1="530.85" x2="474.48" y2="599.65" stroke="#ebebeb" stroke-width="1.07"/>
<line x1="491.70" y1="530.85" x2="491.70" y2="599.65" stroke="#ebebeb" stroke-width="1.07"/>
<line x1="508.92" y1="530.85" x2="508.92" y2="599.65" stroke="#ebebeb" stroke-width="1.07"/>
<line x1="526.14" y1="530.85" x2="526.14" y2="599.65" stroke="#ebebeb" stroke-width="1.07"/>
<line x1="543.36" y1="530.85" x2="543.36" y2="599.65" stroke="#ebebeb" stroke-width="1.07"/>
<line x1="560.58" y1="530.85" x2="560.58" y2="599.65" stroke="#ebebeb" stroke-width="1.07"/>
<line x1="577.80" y1="530.85" x2="577.80" y2="599.65" stroke="#ebebeb" stroke-width="1.07"/>
<text x="21.56" y="542.05" font-size="11.18" fill="#4d4d4d" textLength="23.58" lengthAdjust="spacingAndGlyphs">H-LV</text>
<text x="18.98" y="555.40" font-size="11.18" fill="#4d4d4d" textLength="26.22" lengthAdjust="spacingAndGlyphs">H-AA</text>
<text x="30.62" y="568.75" font-size="11.18" fill="#4d4d4d" textLength="14.57" lengthAdjust="spacingAndGlyphs">CA</text>
<text x="30.51" y="582.10" font-size="11.18" fill="#4d4d4d" textLength="14.64" lengthAdjust="spacingAndGlyphs">AA</text>
<text x="32.10" y="595.45" font-size="11.18" fill="#4d4d4d" textLength="13.04" lengthAdjust="spacingAndGlyphs">TA</text>
<clipPath id="cf1"><rect x="585" y="530.85" width="30" height="68.80"/></clipPath>
<g clip-path="url(#cf1)">
<g transform="translate(593.90 565.25) rotate(90)"><text x="-31.69" y="0" font-size="11.60" fill="#1a1a1a" textLength="63.29" lengthAdjust="spacingAndGlyphs">Thoracic DA</text></g>
</g>
<line x1="51.10" y1="613.90" x2="588.30" y2="613.90" stroke="#ebebeb" stroke-width="1.07"/>
<line x1="51.10" y1="627.25" x2="588.30" y2="627.25" stroke="#ebebeb" stroke-width="1.07"/>
<line x1="51.10" y1="640.60" x2="588.30" y2="640.60" stroke="#ebebeb" stroke-width="1.07"/>
<line x1="51.10" y1="653.95" x2="588.30" y2="653.95" stroke="#ebebeb" stroke-width="1.07"/>
<line x1="51.10" y1="667.30" x2="588.30" y2="667.30" stroke="#ebebeb" stroke-width="1.07"/>
<line x1="61.20" y1="606.40" x2="61.20" y2="675.20" stroke="#ebebeb" stroke-width="1.07"/>
<line x1="78.42" y1="606.40" x2="78.42" y2="675.20" stroke="#ebebeb" stroke-width="1.07"/>
<line x1="95.64" y1="606.40" x2="95.64" y2="675.20" stroke="#ebebeb" stroke-width="1.07"/>
<line x1="112.86" y1="606.40" x2="112.86" y2="675.20" stroke="#ebebeb" stroke-width="1.07"/>
<line x1="130.08" y1="606.40" x2="130.08" y2="675.20" stroke="#ebebeb" stroke-width="1.07"/>
<line x1="147.30" y1="606.40" x2="147.30" y2="675.20" stroke="#ebebeb" stroke-width="1.07"/>
<line x1="164.52" y1="606.40" x2="164.52" y2="675.20" stroke="#ebebeb" stroke-width="1.07"/>
<line x1="181.74" y1="606.40" x2="181.74" y2="675.20" stroke="#ebebeb" stroke-width="1.07"/>
<line x1="198.96" y1="606.40" x2="198.96" y2="675.20" stroke="#ebebeb" stroke-width="1.07"/>
<line x1="216.18" y1="606.40" x2="216.18" y2="675.20" stroke="#ebebeb" stroke-width="1.07"/>
<line x1="233.40" y1="606.40" x2="233.40" y2="675.20" stroke="#ebebeb" stroke-width="1.07"/>
<line x1="250.62" y1="606.40" x2="250.62" y2="675.20" stroke="#ebebeb" stroke-width="1.07"/>
<line x1="267.84" y1="606.40" x2="267.84" y2="675.20" stroke="#ebebeb" stroke-width="1.07"/>
<line x1="285.06" y1="606.40" x2="285.06" y2="675.20" stroke="#ebebeb" stroke-width="1.07"/>
<line x1="302.28" y1="606.40" x2="302.28" y2="675.20" stroke="#ebebeb" stroke-width="1.07"/>
<line x1="319.50" y1="606.40" x2="319.50" y2="675.20" stroke="#ebebeb" stroke-width="1.07"/>
<line x1="336.72" y1="606.40" x2="336.72" y2="675.20" stroke="#ebebeb" stroke-width="1.07"/>
<line x1="353.94" y1="606.40" x2="353.94" y2="675.20" stroke="#ebebeb" stroke-width="1.07"/>
<line x1="371.16" y1="606.40" x2="371.16" y2="675.20" stroke="#ebebeb" stroke-width="1.07"/>
<line x1="388.38" y1="606.40" x2="388.38" y2="675.20" stroke="#ebebeb" stroke-width="1.07"/>
<line x1="405.60" y1="606.40" x2="405.60" y2="675.20" stroke="#ebebeb" stroke-width="1.07"/>
<line x1="422.82" y1="606.40" x2="422.82" y2="675.20" stroke="#ebebeb" stroke-width="1.07"/>
<line x1="440.04" y1="606.40" x2="440.04" y2="675.20" stroke="#ebebeb" stroke-width="1.07"/>
<line x1="457.26" y1="606.40" x2="457.26" y2="675.20" stroke="#ebebeb" stroke-width="1.07"/>
<line x1="474.48" y1="606.40" x2="474.48" y2="675.20" stroke="#ebebeb" stroke-width="1.07"/>
<line x1="491.70" y1="606.40" x2="491.70" y2="675.20" stroke="#ebebeb" stroke-width="1.07"/>
<line x1="508.92" y1="606.40" x2="508.92" y2="675.20" stroke="#ebebeb" stroke-width="1.07"/>
<line x1="526.14" y1="606.40" x2="526.14" y2="675.20" stroke="#ebebeb" stroke-width="1.07"/>
<line x1="543.36" y1="606.40" x2="543.36" y2="675.20" stroke="#ebebeb" stroke-width="1.07"/>
<line x1="560.58" y1="606.40" x2="560.58" y2="675.20" stroke="#ebebeb" stroke-width="1.07"/>
<line x1="577.80" y1="606.40" x2="577.80" y2="675.20" stroke="#ebebeb" stroke-width="1.07"/>
<text x="21.56" y="617.60" font-size="11.18" fill="#4d4d4d" textLength="23.58" lengthAdjust="spacingAndGlyphs">H-LV</text>
<text x="18.98" y="630.95" font-size="11.18" fill="#4d4d4d" textLength="26.22" lengthAdjust="spacingAndGlyphs">H-AA</text>
<text x="30.62" y="644.30" font-size="11.18" fill="#4d4d4d" textLength="14.57" lengthAdjust="spacingAndGlyphs">CA</text>
<text x="30.51" y="657.65" font-size="11.18" fill="#4d4d4d" textLength="14.64" lengthAdjust="spacingAndGlyphs">AA</text>
<text x="32.10" y="671.00" font-size="11.18" fill="#4d4d4d" textLength="13.04" lengthAdjust="spacingAndGlyphs">TA</text>
<clipPath id="cf2"><rect x="585" y="606.40" width="30" height="68.80"/></clipPath>
<g clip-path="url(#cf2)">
<g transform="translate(593.90 640.80) rotate(90)"><text x="-37.96" y="0" font-size="11.60" fill="#1a1a1a" textLength="75.46" lengthAdjust="spacingAndGlyphs">Suprarenal DA</text></g>
</g>
<line x1="51.10" y1="689.45" x2="588.30" y2="689.45" stroke="#ebebeb" stroke-width="1.07"/>
<line x1="51.10" y1="702.80" x2="588.30" y2="702.80" stroke="#ebebeb" stroke-width="1.07"/>
<line x1="51.10" y1="716.15" x2="588.30" y2="716.15" stroke="#ebebeb" stroke-width="1.07"/>
<line x1="51.10" y1="729.50" x2="588.30" y2="729.50" stroke="#ebebeb" stroke-width="1.07"/>
<line x1="51.10" y1="742.85" x2="588.30" y2="742.85" stroke="#ebebeb" stroke-width="1.07"/>
<line x1="61.20" y1="681.95" x2="61.20" y2="750.75" stroke="#ebebeb" stroke-width="1.07"/>
<line x1="78.42" y1="681.95" x2="78.42" y2="750.75" stroke="#ebebeb" stroke-width="1.07"/>
<line x1="95.64" y1="681.95" x2="95.64" y2="750.75" stroke="#ebebeb" stroke-width="1.07"/>
<line x1="112.86" y1="681.95" x2="112.86" y2="750.75" stroke="#ebebeb" stroke-width="1.07"/>
<line x1="130.08" y1="681.95" x2="130.08" y2="750.75" stroke="#ebebeb" stroke-width="1.07"/>
<line x1="147.30" y1="681.95" x2="147.30" y2="750.75" stroke="#ebebeb" stroke-width="1.07"/>
<line x1="164.52" y1="681.95" x2="164.52" y2="750.75" stroke="#ebebeb" stroke-width="1.07"/>
<line x1="181.74" y1="681.95" x2="181.74" y2="750.75" stroke="#ebebeb" stroke-width="1.07"/>
<line x1="198.96" y1="681.95" x2="198.96" y2="750.75" stroke="#ebebeb" stroke-width="1.07"/>
<line x1="216.18" y1="681.95" x2="216.18" y2="750.75" stroke="#ebebeb" stroke-width="1.07"/>
<line x1="233.40" y1="681.95" x2="233.40" y2="750.75" stroke="#ebebeb" stroke-width="1.07"/>
<line x1="250.62" y1="681.95" x2="250.62" y2="750.75" stroke="#ebebeb" stroke-width="1.07"/>
<line x1="267.84" y1="681.95" x2="267.84" y2="750.75" stroke="#ebebeb" stroke-width="1.07"/>
<line x1="285.06" y1="681.95" x2="285.06" y2="750.75" stroke="#ebebeb" stroke-width="1.07"/>
<line x1="302.28" y1="681.95" x2="302.28" y2="750.75" stroke="#ebebeb" stroke-width="1.07"/>
<line x1="319.50" y1="681.95" x2="319.50" y2="750.75" stroke="#ebebeb" stroke-width="1.07"/>
<line x1="336.72" y1="681.95" x2="336.72" y2="750.75" stroke="#ebebeb" stroke-width="1.07"/>
<line x1="353.94" y1="681.95" x2="353.94" y2="750.75" stroke="#ebebeb" stroke-width="1.07"/>
<line x1="371.16" y1="681.95" x2="371.16" y2="750.75" stroke="#ebebeb" stroke-width="1.07"/>
<line x1="388.38" y1="681.95" x2="388.38" y2="750.75" stroke="#ebebeb" stroke-width="1.07"/>
<line x1="405.60" y1="681.95" x2="405.60" y2="750.75" stroke="#ebebeb" stroke-width="1.07"/>
<line x1="422.82" y1="681.95" x2="422.82" y2="750.75" stroke="#ebebeb" stroke-width="1.07"/>
<line x1="440.04" y1="681.95" x2="440.04" y2="750.75" stroke="#ebebeb" stroke-width="1.07"/>
<line x1="457.26" y1="681.95" x2="457.26" y2="750.75" stroke="#ebebeb" stroke-width="1.07"/>
<line x1="474.48" y1="681.95" x2="474.48" y2="750.75" stroke="#ebebeb" stroke-width="1.07"/>
<line x1="491.70" y1="681.95" x2="491.70" y2="750.75" stroke="#ebebeb" stroke-width="1.07"/>
<line x1="508.92" y1="681.95" x2="508.92" y2="750.75" stroke="#ebebeb" stroke-width="1.07"/>
<line x1="526.14" y1="681.95" x2="526.14" y2="750.75" stroke="#ebebeb" stroke-width="1.07"/>
<line x1="543.36" y1="681.95" x2="543.36" y2="750.75" stroke="#ebebeb" stroke-width="1.07"/>
<line x1="560.58" y1="681.95" x2="560.58" y2="750.75" stroke="#ebebeb" stroke-width="1.07"/>
<line x1="577.80" y1="681.95" x2="577.80" y2="750.75" stroke="#ebebeb" stroke-width="1.07"/>
<text x="21.56" y="693.15" font-size="11.18" fill="#4d4d4d" textLength="23.58" lengthAdjust="spacingAndGlyphs">H-LV</text>
<text x="18.98" y="706.50" font-size="11.18" fill="#4d4d4d" textLength="26.22" lengthAdjust="spacingAndGlyphs">H-AA</text>
<text x="30.62" y="719.85" font-size="11.18" fill="#4d4d4d" textLength="14.57" lengthAdjust="spacingAndGlyphs">CA</text>
<text x="30.51" y="733.20" font-size="11.18" fill="#4d4d4d" textLength="14.64" lengthAdjust="spacingAndGlyphs">AA</text>
<text x="32.10" y="746.55" font-size="11.18" fill="#4d4d4d" textLength="13.04" lengthAdjust="spacingAndGlyphs">TA</text>
<clipPath id="cf3"><rect x="585" y="681.95" width="30" height="68.80"/></clipPath>
<g clip-path="url(#cf3)">
<g transform="translate(593.90 716.35) rotate(90)"><text x="-34.98" y="0" font-size="11.60" fill="#1a1a1a" textLength="69.04" lengthAdjust="spacingAndGlyphs">Infrarenal DA</text></g>
</g>
<line x1="51.10" y1="765.00" x2="588.30" y2="765.00" stroke="#ebebeb" stroke-width="1.07"/>
<line x1="51.10" y1="778.35" x2="588.30" y2="778.35" stroke="#ebebeb" stroke-width="1.07"/>
<line x1="51.10" y1="791.70" x2="588.30" y2="791.70" stroke="#ebebeb" stroke-width="1.07"/>
<line x1="51.10" y1="805.05" x2="588.30" y2="805.05" stroke="#ebebeb" stroke-width="1.07"/>
<line x1="51.10" y1="818.40" x2="588.30" y2="818.40" stroke="#ebebeb" stroke-width="1.07"/>
<line x1="61.20" y1="757.50" x2="61.20" y2="826.30" stroke="#ebebeb" stroke-width="1.07"/>
<line x1="78.42" y1="757.50" x2="78.42" y2="826.30" stroke="#ebebeb" stroke-width="1.07"/>
<line x1="95.64" y1="757.50" x2="95.64" y2="826.30" stroke="#ebebeb" stroke-width="1.07"/>
<line x1="112.86" y1="757.50" x2="112.86" y2="826.30" stroke="#ebebeb" stroke-width="1.07"/>
<line x1="130.08" y1="757.50" x2="130.08" y2="826.30" stroke="#ebebeb" stroke-width="1.07"/>
<line x1="147.30" y1="757.50" x2="147.30" y2="826.30" stroke="#ebebeb" stroke-width="1.07"/>
<line x1="164.52" y1="757.50" x2="164.52" y2="826.30" stroke="#ebebeb" stroke-width="1.07"/>
<line x1="181.74" y1="757.50" x2="181.74" y2="826.30" stroke="#ebebeb" stroke-width="1.07"/>
<line x1="198.96" y1="757.50" x2="198.96" y2="826.30" stroke="#ebebeb" stroke-width="1.07"/>
<line x1="216.18" y1="757.50" x2="216.18" y2="826.30" stroke="#ebebeb" stroke-width="1.07"/>
<line x1="233.40" y1="757.50" x2="233.40" y2="826.30" stroke="#ebebeb" stroke-width="1.07"/>
<line x1="250.62" y1="757.50" x2="250.62" y2="826.30" stroke="#ebebeb" stroke-width="1.07"/>
<line x1="267.84" y1="757.50" x2="267.84" y2="826.30" stroke="#ebebeb" stroke-width="1.07"/>
<line x1="285.06" y1="757.50" x2="285.06" y2="826.30" stroke="#ebebeb" stroke-width="1.07"/>
<line x1="302.28" y1="757.50" x2="302.28" y2="826.30" stroke="#ebebeb" stroke-width="1.07"/>
<line x1="319.50" y1="757.50" x2="319.50" y2="826.30" stroke="#ebebeb" stroke-width="1.07"/>
<line x1="336.72" y1="757.50" x2="336.72" y2="826.30" stroke="#ebebeb" stroke-width="1.07"/>
<line x1="353.94" y1="757.50" x2="353.94" y2="826.30" stroke="#ebebeb" stroke-width="1.07"/>
<line x1="371.16" y1="757.50" x2="371.16" y2="826.30" stroke="#ebebeb" stroke-width="1.07"/>
<line x1="388.38" y1="757.50" x2="388.38" y2="826.30" stroke="#ebebeb" stroke-width="1.07"/>
<line x1="405.60" y1="757.50" x2="405.60" y2="826.30" stroke="#ebebeb" stroke-width="1.07"/>
<line x1="422.82" y1="757.50" x2="422.82" y2="826.30" stroke="#ebebeb" stroke-width="1.07"/>
<line x1="440.04" y1="757.50" x2="440.04" y2="826.30" stroke="#ebebeb" stroke-width="1.07"/>
<line x1="457.26" y1="757.50" x2="457.26" y2="826.30" stroke="#ebebeb" stroke-width="1.07"/>
<line x1="474.48" y1="757.50" x2="474.48" y2="826.30" stroke="#ebebeb" stroke-width="1.07"/>
<line x1="491.70" y1="757.50" x2="491.70" y2="826.30" stroke="#ebebeb" stroke-width="1.07"/>
<line x1="508.92" y1="757.50" x2="508.92" y2="826.30" stroke="#ebebeb" stroke-width="1.07"/>
<line x1="526.14" y1="757.50" x2="526.14" y2="826.30" stroke="#ebebeb" stroke-width="1.07"/>
<line x1="543.36" y1="757.50" x2="543.36" y2="826.30" stroke="#ebebeb" stroke-width="1.07"/>
<line x1="560.58" y1="757.50" x2="560.58" y2="826.30" stroke="#ebebeb" stroke-width="1.07"/>
<line x1="577.80" y1="757.50" x2="577.80" y2="826.30" stroke="#ebebeb" stroke-width="1.07"/>
<text x="21.56" y="768.70" font-size="11.18" fill="#4d4d4d" textLength="23.58" lengthAdjust="spacingAndGlyphs">H-LV</text>
<text x="18.98" y="782.05" font-size="11.18" fill="#4d4d4d" textLength="26.22" lengthAdjust="spacingAndGlyphs">H-AA</text>
<text x="30.62" y="795.40" font-size="11.18" fill="#4d4d4d" textLength="14.57" lengthAdjust="spacingAndGlyphs">CA</text>
<text x="30.51" y="808.75" font-size="11.18" fill="#4d4d4d" textLength="14.64" lengthAdjust="spacingAndGlyphs">AA</text>
<text x="32.10" y="822.10" font-size="11.18" fill="#4d4d4d" textLength="13.04" lengthAdjust="spacingAndGlyphs">TA</text>
<clipPath id="cf4"><rect x="585" y="757.50" width="30" height="68.80"/></clipPath>
<g clip-path="url(#cf4)">
<g transform="translate(593.90 791.90) rotate(90)"><text x="-23.98" y="0" font-size="11.60" fill="#1a1a1a" textLength="47.73" lengthAdjust="spacingAndGlyphs">Heart vol</text></g>
</g>
<g transform="translate(54.30 855.50) rotate(90)"><text x="-21.27" y="0" font-size="11.18" fill="#4d4d4d" textLength="42.16" lengthAdjust="spacingAndGlyphs">DCAF16</text></g>
<g transform="translate(71.52 855.50) rotate(90)"><text x="-20.35" y="0" font-size="11.18" fill="#4d4d4d" textLength="40.54" lengthAdjust="spacingAndGlyphs">CEP120</text></g>
<g transform="translate(88.74 855.50) rotate(90)"><text x="-19.58" y="0" font-size="11.18" fill="#4d4d4d" textLength="38.67" lengthAdjust="spacingAndGlyphs">CENPW</text></g>
<g transform="translate(105.96 855.50) rotate(90)"><text x="-24.15" y="0" font-size="11.18" fill="#4d4d4d" textLength="47.92" lengthAdjust="spacingAndGlyphs">L3MBTL3</text></g>
<g transform="translate(123.18 855.50) rotate(90)"><text x="-19.81" y="0" font-size="11.18" fill="#4d4d4d" textLength="39.91" lengthAdjust="spacingAndGlyphs">TWIST1</text></g>
<g transform="translate(140.40 855.50) rotate(90)"><text x="-11.66" y="0" font-size="11.18" fill="#4d4d4d" textLength="23.20" lengthAdjust="spacingAndGlyphs">SVIL</text></g>
<g transform="translate(157.62 855.50) rotate(90)"><text x="-25.94" y="0" font-size="11.18" fill="#4d4d4d" textLength="51.46" lengthAdjust="spacingAndGlyphs">KIAA1462</text></g>
<g transform="translate(174.84 855.50) rotate(90)"><text x="-20.44" y="0" font-size="11.18" fill="#4d4d4d" textLength="40.89" lengthAdjust="spacingAndGlyphs">CYP2C8</text></g>
<g transform="translate(192.06 855.50) rotate(90)"><text x="-18.56" y="0" font-size="11.18" fill="#4d4d4d" textLength="36.61" lengthAdjust="spacingAndGlyphs">NOC3L</text></g>
<g transform="translate(209.28 855.50) rotate(90)"><text x="-11.89" y="0" font-size="11.18" fill="#4d4d4d" textLength="23.43" lengthAdjust="spacingAndGlyphs">LGI1</text></g>
<g transform="translate(226.50 855.50) rotate(90)"><text x="-17.69" y="0" font-size="11.18" fill="#4d4d4d" textLength="35.36" lengthAdjust="spacingAndGlyphs">GPR19</text></g>
<g transform="translate(243.72 855.50) rotate(90)"><text x="-13.07" y="0" font-size="11.18" fill="#4d4d4d" textLength="25.74" lengthAdjust="spacingAndGlyphs">LRP1</text></g>
<g transform="translate(260.94 855.50) rotate(90)"><text x="-15.93" y="0" font-size="11.18" fill="#4d4d4d" textLength="31.78" lengthAdjust="spacingAndGlyphs">STAT6</text></g>
<g transform="translate(278.16 855.50) rotate(90)"><text x="-20.25" y="0" font-size="11.18" fill="#4d4d4d" textLength="40.12" lengthAdjust="spacingAndGlyphs">PTPN11</text></g>
<g transform="translate(295.38 855.50) rotate(90)"><text x="-21.84" y="0" font-size="11.18" fill="#4d4d4d" textLength="43.15" lengthAdjust="spacingAndGlyphs">HECTD4</text></g>
<g transform="translate(312.60 855.50) rotate(90)"><text x="-20.99" y="0" font-size="11.18" fill="#4d4d4d" textLength="41.83" lengthAdjust="spacingAndGlyphs">GPR135</text></g>
<g transform="translate(329.82 855.50) rotate(90)"><text x="-13.72" y="0" font-size="11.18" fill="#4d4d4d" textLength="27.06" lengthAdjust="spacingAndGlyphs">RTN1</text></g>
<g transform="translate(347.04 855.50) rotate(90)"><text x="-25.21" y="0" font-size="11.18" fill="#4d4d4d" textLength="50.27" lengthAdjust="spacingAndGlyphs">CCDC175</text></g>
<g transform="translate(364.26 855.50) rotate(90)"><text x="-15.44" y="0" font-size="11.18" fill="#4d4d4d" textLength="30.56" lengthAdjust="spacingAndGlyphs">DISP2</text></g>
<g transform="translate(381.48 855.50) rotate(90)"><text x="-16.44" y="0" font-size="11.18" fill="#4d4d4d" textLength="32.49" lengthAdjust="spacingAndGlyphs">LOXL1</text></g>
<g transform="translate(398.70 855.50) rotate(90)"><text x="-16.45" y="0" font-size="11.18" fill="#4d4d4d" textLength="33.46" lengthAdjust="spacingAndGlyphs">WWP2</text></g>
<g transform="translate(415.92 855.50) rotate(90)"><text x="-14.94" y="0" font-size="11.18" fill="#4d4d4d" textLength="29.51" lengthAdjust="spacingAndGlyphs">MRC2</text></g>
<g transform="translate(433.14 855.50) rotate(90)"><text x="-18.13" y="0" font-size="11.18" fill="#4d4d4d" textLength="36.20" lengthAdjust="spacingAndGlyphs">CD79B</text></g>
<g transform="translate(450.36 855.50) rotate(90)"><text x="-21.04" y="0" font-size="11.18" fill="#4d4d4d" textLength="42.09" lengthAdjust="spacingAndGlyphs">CAPN12</text></g>
<g transform="translate(467.58 855.50) rotate(90)"><text x="-17.52" y="0" font-size="11.18" fill="#4d4d4d" textLength="35.34" lengthAdjust="spacingAndGlyphs">ACTN4</text></g>
<g transform="translate(484.80 855.50) rotate(90)"><text x="-19.33" y="0" font-size="11.18" fill="#4d4d4d" textLength="39.09" lengthAdjust="spacingAndGlyphs">ATP5SL</text></g>
<g transform="translate(502.02 855.50) rotate(90)"><text x="-24.50" y="0" font-size="11.18" fill="#4d4d4d" textLength="48.93" lengthAdjust="spacingAndGlyphs">C19orf69</text></g>
<g transform="translate(519.24 855.50) rotate(90)"><text x="-21.82" y="0" font-size="11.18" fill="#4d4d4d" textLength="43.30" lengthAdjust="spacingAndGlyphs">B3GNT8</text></g>
<g transform="translate(536.46 855.50) rotate(90)"><text x="-21.17" y="0" font-size="11.18" fill="#4d4d4d" textLength="41.89" lengthAdjust="spacingAndGlyphs">EXOSC5</text></g>
<g transform="translate(553.68 855.50) rotate(90)"><text x="-18.09" y="0" font-size="11.18" fill="#4d4d4d" textLength="35.74" lengthAdjust="spacingAndGlyphs">DMWD</text></g>
<g transform="translate(570.90 855.50) rotate(90)"><text x="-18.14" y="0" font-size="11.18" fill="#4d4d4d" textLength="35.98" lengthAdjust="spacingAndGlyphs">SYMPK</text></g>
<rect x="144.40" y="499.95" width="5.8" height="5.8" fill="#85201f" stroke="#7a1414" stroke-width="0.5"/>
<rect x="144.40" y="513.30" width="5.8" height="5.8" fill="#85201f" stroke="#7a1414" stroke-width="0.5"/>
<rect x="161.62" y="513.30" width="5.8" height="5.8" fill="#923636" stroke="#872626" stroke-width="0.5"/>
<rect x="178.84" y="513.30" width="5.8" height="5.8" fill="#923636" stroke="#872626" stroke-width="0.5"/>
<rect x="196.06" y="459.90" width="5.8" height="5.8" fill="#a25353" stroke="#974444" stroke-width="0.5"/>
<rect x="196.06" y="473.25" width="5.8" height="5.8" fill="#923636" stroke="#872626" stroke-width="0.5"/>
<rect x="196.06" y="499.95" width="5.8" height="5.8" fill="#a25353" stroke="#974444" stroke-width="0.5"/>
<rect x="196.06" y="513.30" width="5.8" height="5.8" fill="#923636" stroke="#872626" stroke-width="0.5"/>
<rect x="368.26" y="459.90" width="5.8" height="5.8" fill="#85201f" stroke="#7a1414" stroke-width="0.5"/>
<rect x="368.26" y="473.25" width="5.8" height="5.8" fill="#85201f" stroke="#7a1414" stroke-width="0.5"/>
<rect x="368.26" y="486.60" width="5.8" height="5.8" fill="#85201f" stroke="#7a1414" stroke-width="0.5"/>
<rect x="368.26" y="499.95" width="5.8" height="5.8" fill="#85201f" stroke="#7a1414" stroke-width="0.5"/>
<rect x="368.26" y="513.30" width="5.8" height="5.8" fill="#85201f" stroke="#7a1414" stroke-width="0.5"/>
<rect x="402.70" y="499.95" width="5.8" height="5.8" fill="#923636" stroke="#872626" stroke-width="0.5"/>
<rect x="127.18" y="575.50" width="5.8" height="5.8" fill="#85201f" stroke="#7a1414" stroke-width="0.5"/>
<rect x="144.40" y="575.50" width="5.8" height="5.8" fill="#85201f" stroke="#7a1414" stroke-width="0.5"/>
<rect x="144.40" y="588.85" width="5.8" height="5.8" fill="#85201f" stroke="#7a1414" stroke-width="0.5"/>
<rect x="161.62" y="588.85" width="5.8" height="5.8" fill="#923636" stroke="#872626" stroke-width="0.5"/>
<rect x="213.28" y="548.80" width="5.8" height="5.8" fill="#a25353" stroke="#974444" stroke-width="0.5"/>
<rect x="247.72" y="575.50" width="5.8" height="5.8" fill="#a25353" stroke="#974444" stroke-width="0.5"/>
<rect x="264.94" y="535.45" width="5.8" height="5.8" fill="#85201f" stroke="#7a1414" stroke-width="0.5"/>
<rect x="282.16" y="535.45" width="5.8" height="5.8" fill="#a25353" stroke="#974444" stroke-width="0.5"/>
<rect x="299.38" y="588.85" width="5.8" height="5.8" fill="#85201f" stroke="#7a1414" stroke-width="0.5"/>
<rect x="316.60" y="575.50" width="5.8" height="5.8" fill="#a25353" stroke="#974444" stroke-width="0.5"/>
<rect x="316.60" y="588.85" width="5.8" height="5.8" fill="#85201f" stroke="#7a1414" stroke-width="0.5"/>
<rect x="333.82" y="562.15" width="5.8" height="5.8" fill="#85201f" stroke="#7a1414" stroke-width="0.5"/>
<rect x="333.82" y="575.50" width="5.8" height="5.8" fill="#85201f" stroke="#7a1414" stroke-width="0.5"/>
<rect x="333.82" y="588.85" width="5.8" height="5.8" fill="#85201f" stroke="#7a1414" stroke-width="0.5"/>
<rect x="351.04" y="588.85" width="5.8" height="5.8" fill="#923636" stroke="#872626" stroke-width="0.5"/>
<rect x="368.26" y="535.45" width="5.8" height="5.8" fill="#85201f" stroke="#7a1414" stroke-width="0.5"/>
<rect x="368.26" y="548.80" width="5.8" height="5.8" fill="#85201f" stroke="#7a1414" stroke-width="0.5"/>
<rect x="368.26" y="562.15" width="5.8" height="5.8" fill="#85201f" stroke="#7a1414" stroke-width="0.5"/>
<rect x="368.26" y="575.50" width="5.8" height="5.8" fill="#85201f" stroke="#7a1414" stroke-width="0.5"/>
<rect x="368.26" y="588.85" width="5.8" height="5.8" fill="#85201f" stroke="#7a1414" stroke-width="0.5"/>
<rect x="385.48" y="575.50" width="5.8" height="5.8" fill="#85201f" stroke="#7a1414" stroke-width="0.5"/>
<rect x="385.48" y="588.85" width="5.8" height="5.8" fill="#a25353" stroke="#974444" stroke-width="0.5"/>
<rect x="402.70" y="575.50" width="5.8" height="5.8" fill="#85201f" stroke="#7a1414" stroke-width="0.5"/>
<rect x="454.36" y="562.15" width="5.8" height="5.8" fill="#85201f" stroke="#7a1414" stroke-width="0.5"/>
<rect x="454.36" y="575.50" width="5.8" height="5.8" fill="#85201f" stroke="#7a1414" stroke-width="0.5"/>
<rect x="454.36" y="588.85" width="5.8" height="5.8" fill="#85201f" stroke="#7a1414" stroke-width="0.5"/>
<rect x="471.58" y="535.45" width="5.8" height="5.8" fill="#923636" stroke="#872626" stroke-width="0.5"/>
<rect x="471.58" y="548.80" width="5.8" height="5.8" fill="#923636" stroke="#872626" stroke-width="0.5"/>
<rect x="471.58" y="575.50" width="5.8" height="5.8" fill="#85201f" stroke="#7a1414" stroke-width="0.5"/>
<rect x="471.58" y="588.85" width="5.8" height="5.8" fill="#85201f" stroke="#7a1414" stroke-width="0.5"/>
<rect x="213.28" y="624.35" width="5.8" height="5.8" fill="#a25353" stroke="#974444" stroke-width="0.5"/>
<rect x="247.72" y="651.05" width="5.8" height="5.8" fill="#85201f" stroke="#7a1414" stroke-width="0.5"/>
<rect x="247.72" y="664.40" width="5.8" height="5.8" fill="#85201f" stroke="#7a1414" stroke-width="0.5"/>
<rect x="282.16" y="611.00" width="5.8" height="5.8" fill="#a25353" stroke="#974444" stroke-width="0.5"/>
<rect x="316.60" y="651.05" width="5.8" height="5.8" fill="#85201f" stroke="#7a1414" stroke-width="0.5"/>
<rect x="316.60" y="664.40" width="5.8" height="5.8" fill="#85201f" stroke="#7a1414" stroke-width="0.5"/>
<rect x="333.82" y="637.70" width="5.8" height="5.8" fill="#85201f" stroke="#7a1414" stroke-width="0.5"/>
<rect x="333.82" y="651.05" width="5.8" height="5.8" fill="#85201f" stroke="#7a1414" stroke-width="0.5"/>
<rect x="333.82" y="664.40" width="5.8" height="5.8" fill="#85201f" stroke="#7a1414" stroke-width="0.5"/>
<rect x="351.04" y="651.05" width="5.8" height="5.8" fill="#a25353" stroke="#974444" stroke-width="0.5"/>
<rect x="351.04" y="664.40" width="5.8" height="5.8" fill="#85201f" stroke="#7a1414" stroke-width="0.5"/>
<rect x="402.70" y="726.60" width="5.8" height="5.8" fill="#85201f" stroke="#7a1414" stroke-width="0.5"/>
<rect x="419.92" y="726.60" width="5.8" height="5.8" fill="#85201f" stroke="#7a1414" stroke-width="0.5"/>
<rect x="419.92" y="739.95" width="5.8" height="5.8" fill="#85201f" stroke="#7a1414" stroke-width="0.5"/>
<rect x="58.30" y="788.80" width="5.8" height="5.8" fill="#923636" stroke="#872626" stroke-width="0.5"/>
<rect x="75.52" y="802.15" width="5.8" height="5.8" fill="#923636" stroke="#872626" stroke-width="0.5"/>
<rect x="92.74" y="775.45" width="5.8" height="5.8" fill="#85201f" stroke="#7a1414" stroke-width="0.5"/>
<rect x="92.74" y="815.50" width="5.8" height="5.8" fill="#923636" stroke="#872626" stroke-width="0.5"/>
<rect x="109.96" y="762.10" width="5.8" height="5.8" fill="#a25353" stroke="#974444" stroke-width="0.5"/>
<rect x="109.96" y="802.15" width="5.8" height="5.8" fill="#923636" stroke="#872626" stroke-width="0.5"/>
<rect x="109.96" y="815.50" width="5.8" height="5.8" fill="#85201f" stroke="#7a1414" stroke-width="0.5"/>
<rect x="230.50" y="815.50" width="5.8" height="5.8" fill="#923636" stroke="#872626" stroke-width="0.5"/>
<rect x="282.16" y="762.10" width="5.8" height="5.8" fill="#a25353" stroke="#974444" stroke-width="0.5"/>
<rect x="299.38" y="815.50" width="5.8" height="5.8" fill="#923636" stroke="#872626" stroke-width="0.5"/>
<rect x="437.14" y="775.45" width="5.8" height="5.8" fill="#85201f" stroke="#7a1414" stroke-width="0.5"/>
<rect x="437.14" y="815.50" width="5.8" height="5.8" fill="#923636" stroke="#872626" stroke-width="0.5"/>
<rect x="488.80" y="775.45" width="5.8" height="5.8" fill="#a25353" stroke="#974444" stroke-width="0.5"/>
<rect x="506.02" y="762.10" width="5.8" height="5.8" fill="#85201f" stroke="#7a1414" stroke-width="0.5"/>
<rect x="506.02" y="775.45" width="5.8" height="5.8" fill="#923636" stroke="#872626" stroke-width="0.5"/>
<rect x="523.24" y="762.10" width="5.8" height="5.8" fill="#a25353" stroke="#974444" stroke-width="0.5"/>
<rect x="540.46" y="762.10" width="5.8" height="5.8" fill="#923636" stroke="#872626" stroke-width="0.5"/>
<rect x="540.46" y="775.45" width="5.8" height="5.8" fill="#923636" stroke="#872626" stroke-width="0.5"/>
<rect x="540.46" y="802.15" width="5.8" height="5.8" fill="#923636" stroke="#872626" stroke-width="0.5"/>
<rect x="540.46" y="815.50" width="5.8" height="5.8" fill="#a25353" stroke="#974444" stroke-width="0.5"/>
<rect x="557.68" y="762.10" width="5.8" height="5.8" fill="#85201f" stroke="#7a1414" stroke-width="0.5"/>
<rect x="574.90" y="762.10" width="5.8" height="5.8" fill="#a25353" stroke="#974444" stroke-width="0.5"/>
<defs><linearGradient id="pp4" x1="0" y1="1" x2="0" y2="0"><stop offset="0" stop-color="#ffffff"/><stop offset="0.25" stop-color="#ddbdbd"/><stop offset="0.5" stop-color="#c38d8d"/><stop offset="0.75" stop-color="#a55d5c"/><stop offset="1" stop-color="#85201f"/></linearGradient></defs>
<rect x="627.2" y="594.3" width="22.60" height="111.50" fill="url(#pp4)"/>
<text x="656.12" y="709.70" font-size="11.23" fill="#1a1a1a" textLength="23.38" lengthAdjust="spacingAndGlyphs">0.00</text>
<line x1="627.20" y1="677.92" x2="631.80" y2="677.92" stroke="#ffffff" stroke-width="0.8"/>
<line x1="645.20" y1="677.92" x2="649.80" y2="677.92" stroke="#ffffff" stroke-width="0.8"/>
<text x="656.12" y="681.82" font-size="11.23" fill="#1a1a1a" textLength="23.16" lengthAdjust="spacingAndGlyphs">0.25</text>
<line x1="627.20" y1="650.05" x2="631.80" y2="650.05" stroke="#ffffff" stroke-width="0.8"/>
<line x1="645.20" y1="650.05" x2="649.80" y2="650.05" stroke="#ffffff" stroke-width="0.8"/>
<text x="656.12" y="653.95" font-size="11.23" fill="#1a1a1a" textLength="23.38" lengthAdjust="spacingAndGlyphs">0.50</text>
<line x1="627.20" y1="622.17" x2="631.80" y2="622.17" stroke="#ffffff" stroke-width="0.8"/>
<line x1="645.20" y1="622.17" x2="649.80" y2="622.17" stroke="#ffffff" stroke-width="0.8"/>
<text x="656.12" y="626.07" font-size="11.23" fill="#1a1a1a" textLength="23.16" lengthAdjust="spacingAndGlyphs">0.75</text>
<text x="655.64" y="598.20" font-size="11.23" fill="#1a1a1a" textLength="23.33" lengthAdjust="spacingAndGlyphs">1.00</text>
<text x="626.69" y="586.20" font-size="13.97" fill="#1a1a1a" textLength="23.87" lengthAdjust="spacingAndGlyphs">PP4</text>
</svg></body></html>
